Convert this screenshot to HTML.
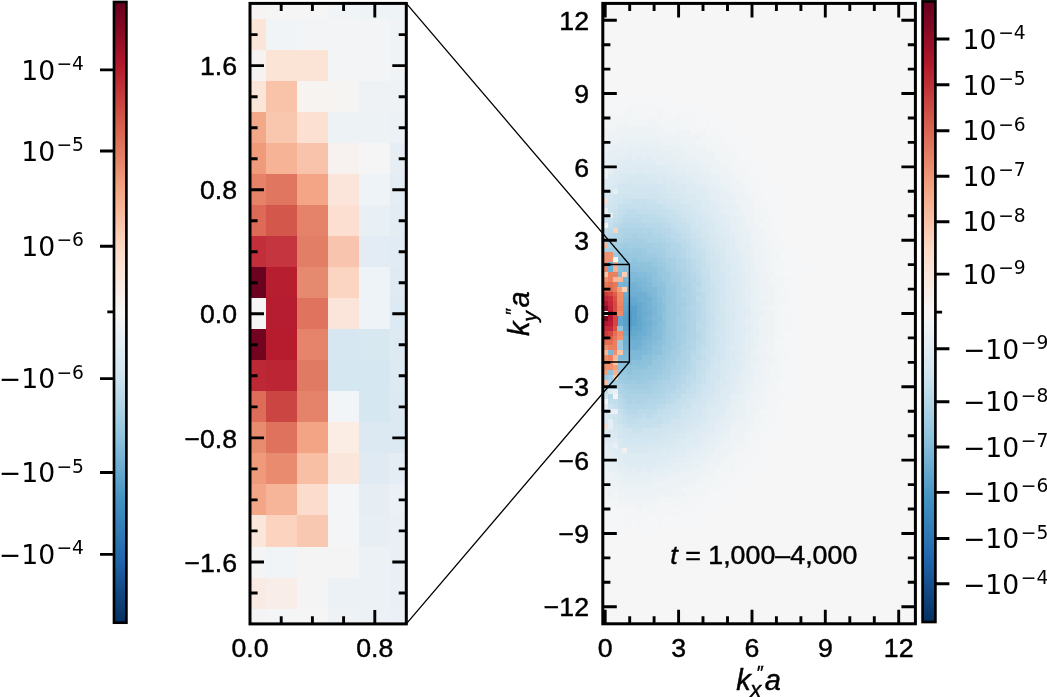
<!DOCTYPE html><html><head><meta charset="utf-8"><title>figure</title><style>html,body{margin:0;padding:0;background:#fff}svg{display:block}.h{font-family:"Liberation Sans",Arial,Helvetica,sans-serif;font-size:26.67px;fill:#000;stroke:#000;stroke-width:.45px}.hi{font-family:"Liberation Sans",Arial,Helvetica,sans-serif;font-style:italic;fill:#000;stroke:#000;stroke-width:.45px}.d{font-family:"DejaVu Sans",sans-serif;font-size:26.67px;fill:#000}.s{font-family:"DejaVu Sans",sans-serif;font-size:18.67px;fill:#000}</style></head><body>
<svg width="1047" height="697" viewBox="0 0 1047 697">
<rect width="1047" height="697" fill="#fff"/>
<defs><linearGradient id="g" x1="0" y1="0" x2="0" y2="1"><stop offset="0.00" stop-color="#67001f"/><stop offset="0.05" stop-color="#8a0b25"/><stop offset="0.10" stop-color="#b1182b"/><stop offset="0.15" stop-color="#c43b3c"/><stop offset="0.20" stop-color="#d6604d"/><stop offset="0.25" stop-color="#e48066"/><stop offset="0.30" stop-color="#f3a481"/><stop offset="0.35" stop-color="#f8bfa4"/><stop offset="0.40" stop-color="#fddbc7"/><stop offset="0.45" stop-color="#fae9df"/><stop offset="0.50" stop-color="#f7f6f6"/><stop offset="0.55" stop-color="#e4eef4"/><stop offset="0.60" stop-color="#d1e5f0"/><stop offset="0.65" stop-color="#b1d5e7"/><stop offset="0.70" stop-color="#90c4dd"/><stop offset="0.75" stop-color="#6bacd1"/><stop offset="0.80" stop-color="#4393c3"/><stop offset="0.85" stop-color="#327cb7"/><stop offset="0.90" stop-color="#2065ab"/><stop offset="0.95" stop-color="#124984"/><stop offset="1.00" stop-color="#053061"/></linearGradient><clipPath id="cl"><rect x="250" y="3.4" width="156.3" height="620.5"/></clipPath><clipPath id="cr"><rect x="602.8" y="3.4" width="312.6" height="620.5"/></clipPath></defs>
<rect x="114.0" y="2.0" width="12.4" height="620.7" fill="url(#g)" stroke="#000" stroke-width="2.67"/>
<text class="d" x="21.2" y="79.6">10</text><text class="s" x="56.4" y="69.9">−4</text>
<text class="d" x="21.2" y="160.7">10</text><text class="s" x="56.4" y="151.0">−5</text>
<text class="d" x="21.2" y="255.9">10</text><text class="s" x="56.4" y="246.2">−6</text>
<text class="d" x="-1.2" y="388.3">−</text>
<text class="d" x="21.2" y="388.3">10</text><text class="s" x="56.4" y="378.6">−6</text>
<text class="d" x="-1.2" y="482.2">−</text>
<text class="d" x="21.2" y="482.2">10</text><text class="s" x="56.4" y="472.5">−5</text>
<text class="d" x="-1.2" y="564.1">−</text>
<text class="d" x="21.2" y="564.1">10</text><text class="s" x="56.4" y="554.4">−4</text>
<path d="M114.0 69.9h-14M114.0 151.0h-14M114.0 246.2h-14M114.0 378.6h-14M114.0 472.5h-14M114.0 554.4h-14M114.0 311.9h-6.7" stroke="#000" stroke-width="2.9" fill="none"/>
<g clip-path="url(#cl)" shape-rendering="crispEdges">
<rect x="234.4" y="-11.9" width="31.5" height="31.3" fill="#f6f3f2"/>
<rect x="265.6" y="-11.9" width="31.5" height="31.3" fill="#f5f5f5"/>
<rect x="296.8" y="-11.9" width="31.5" height="31.3" fill="#f5f5f5"/>
<rect x="328.0" y="-11.9" width="31.5" height="31.3" fill="#f0f4f6"/>
<rect x="359.2" y="-11.9" width="31.5" height="31.3" fill="#eef3f6"/>
<rect x="390.4" y="-11.9" width="31.5" height="31.3" fill="#eef3f6"/>
<rect x="234.4" y="19.1" width="31.5" height="31.3" fill="#fbe5d9"/>
<rect x="265.6" y="19.1" width="31.5" height="31.3" fill="#f1f4f6"/>
<rect x="296.8" y="19.1" width="31.5" height="31.3" fill="#f3f4f5"/>
<rect x="328.0" y="19.1" width="31.5" height="31.3" fill="#f2f4f6"/>
<rect x="359.2" y="19.1" width="31.5" height="31.3" fill="#f2f4f6"/>
<rect x="390.4" y="19.1" width="31.5" height="31.3" fill="#f0f3f6"/>
<rect x="234.4" y="50.1" width="31.5" height="31.3" fill="#f5f3f2"/>
<rect x="265.6" y="50.1" width="31.5" height="31.3" fill="#fbe3d6"/>
<rect x="296.8" y="50.1" width="31.5" height="31.3" fill="#fbe3d6"/>
<rect x="328.0" y="50.1" width="31.5" height="31.3" fill="#f2f4f6"/>
<rect x="359.2" y="50.1" width="31.5" height="31.3" fill="#f2f4f6"/>
<rect x="390.4" y="50.1" width="31.5" height="31.3" fill="#f0f3f6"/>
<rect x="234.4" y="81.2" width="31.5" height="31.3" fill="#fbe4d8"/>
<rect x="265.6" y="81.2" width="31.5" height="31.3" fill="#f9c3aa"/>
<rect x="296.8" y="81.2" width="31.5" height="31.3" fill="#f7f3f1"/>
<rect x="328.0" y="81.2" width="31.5" height="31.3" fill="#f6f4f3"/>
<rect x="359.2" y="81.2" width="31.5" height="31.3" fill="#eef2f5"/>
<rect x="390.4" y="81.2" width="31.5" height="31.3" fill="#eef2f5"/>
<rect x="234.4" y="112.2" width="31.5" height="31.3" fill="#f3a988"/>
<rect x="265.6" y="112.2" width="31.5" height="31.3" fill="#f9c6ae"/>
<rect x="296.8" y="112.2" width="31.5" height="31.3" fill="#fce0d1"/>
<rect x="328.0" y="112.2" width="31.5" height="31.3" fill="#edf2f5"/>
<rect x="359.2" y="112.2" width="31.5" height="31.3" fill="#edf2f5"/>
<rect x="390.4" y="112.2" width="31.5" height="31.3" fill="#ecf1f5"/>
<rect x="234.4" y="143.2" width="31.5" height="31.3" fill="#ee9a7b"/>
<rect x="265.6" y="143.2" width="31.5" height="31.3" fill="#f6b396"/>
<rect x="296.8" y="143.2" width="31.5" height="31.3" fill="#f8c3aa"/>
<rect x="328.0" y="143.2" width="31.5" height="31.3" fill="#f7f2f0"/>
<rect x="359.2" y="143.2" width="31.5" height="31.3" fill="#f6f5f5"/>
<rect x="390.4" y="143.2" width="31.5" height="31.3" fill="#e6eef4"/>
<rect x="234.4" y="174.2" width="31.5" height="31.3" fill="#e58268"/>
<rect x="265.6" y="174.2" width="31.5" height="31.3" fill="#e07660"/>
<rect x="296.8" y="174.2" width="31.5" height="31.3" fill="#f3a585"/>
<rect x="328.0" y="174.2" width="31.5" height="31.3" fill="#fbe5da"/>
<rect x="359.2" y="174.2" width="31.5" height="31.3" fill="#eef3f7"/>
<rect x="390.4" y="174.2" width="31.5" height="31.3" fill="#e4edf4"/>
<rect x="234.4" y="205.2" width="31.5" height="31.3" fill="#dc6a57"/>
<rect x="265.6" y="205.2" width="31.5" height="31.3" fill="#d3574a"/>
<rect x="296.8" y="205.2" width="31.5" height="31.3" fill="#e5836a"/>
<rect x="328.0" y="205.2" width="31.5" height="31.3" fill="#fcdfd0"/>
<rect x="359.2" y="205.2" width="31.5" height="31.3" fill="#e8eff5"/>
<rect x="390.4" y="205.2" width="31.5" height="31.3" fill="#e3ecf3"/>
<rect x="234.4" y="236.2" width="31.5" height="31.3" fill="#c22e3a"/>
<rect x="265.6" y="236.2" width="31.5" height="31.3" fill="#c43540"/>
<rect x="296.8" y="236.2" width="31.5" height="31.3" fill="#e27d66"/>
<rect x="328.0" y="236.2" width="31.5" height="31.3" fill="#f8c4ad"/>
<rect x="359.2" y="236.2" width="31.5" height="31.3" fill="#e3ecf4"/>
<rect x="390.4" y="236.2" width="31.5" height="31.3" fill="#e1ebf3"/>
<rect x="234.4" y="267.3" width="31.5" height="31.3" fill="#6a0220"/>
<rect x="265.6" y="267.3" width="31.5" height="31.3" fill="#b71e30"/>
<rect x="296.8" y="267.3" width="31.5" height="31.3" fill="#e68a6f"/>
<rect x="328.0" y="267.3" width="31.5" height="31.3" fill="#fbd5c2"/>
<rect x="359.2" y="267.3" width="31.5" height="31.3" fill="#eef3f7"/>
<rect x="390.4" y="267.3" width="31.5" height="31.3" fill="#dfeaf3"/>
<rect x="234.4" y="298.3" width="31.5" height="31.3" fill="#f6f6f6"/>
<rect x="265.6" y="298.3" width="31.5" height="31.3" fill="#b71d30"/>
<rect x="296.8" y="298.3" width="31.5" height="31.3" fill="#df735d"/>
<rect x="328.0" y="298.3" width="31.5" height="31.3" fill="#fbe5da"/>
<rect x="359.2" y="298.3" width="31.5" height="31.3" fill="#eef3f7"/>
<rect x="390.4" y="298.3" width="31.5" height="31.3" fill="#deeaf3"/>
<rect x="234.4" y="329.3" width="31.5" height="31.3" fill="#72041f"/>
<rect x="265.6" y="329.3" width="31.5" height="31.3" fill="#b61b2e"/>
<rect x="296.8" y="329.3" width="31.5" height="31.3" fill="#e5846b"/>
<rect x="328.0" y="329.3" width="31.5" height="31.3" fill="#d6e7f1"/>
<rect x="359.2" y="329.3" width="31.5" height="31.3" fill="#d7e8f1"/>
<rect x="390.4" y="329.3" width="31.5" height="31.3" fill="#deeaf2"/>
<rect x="234.4" y="360.3" width="31.5" height="31.3" fill="#bd2836"/>
<rect x="265.6" y="360.3" width="31.5" height="31.3" fill="#bc2534"/>
<rect x="296.8" y="360.3" width="31.5" height="31.3" fill="#e17a63"/>
<rect x="328.0" y="360.3" width="31.5" height="31.3" fill="#d5e7f1"/>
<rect x="359.2" y="360.3" width="31.5" height="31.3" fill="#d5e7f1"/>
<rect x="390.4" y="360.3" width="31.5" height="31.3" fill="#ddeaf2"/>
<rect x="234.4" y="391.4" width="31.5" height="31.3" fill="#dd6d59"/>
<rect x="265.6" y="391.4" width="31.5" height="31.3" fill="#cb4542"/>
<rect x="296.8" y="391.4" width="31.5" height="31.3" fill="#e5836a"/>
<rect x="328.0" y="391.4" width="31.5" height="31.3" fill="#f2f5f7"/>
<rect x="359.2" y="391.4" width="31.5" height="31.3" fill="#d5e7f1"/>
<rect x="390.4" y="391.4" width="31.5" height="31.3" fill="#dce9f2"/>
<rect x="234.4" y="422.4" width="31.5" height="31.3" fill="#e88c70"/>
<rect x="265.6" y="422.4" width="31.5" height="31.3" fill="#df725c"/>
<rect x="296.8" y="422.4" width="31.5" height="31.3" fill="#f3a484"/>
<rect x="328.0" y="422.4" width="31.5" height="31.3" fill="#fbece4"/>
<rect x="359.2" y="422.4" width="31.5" height="31.3" fill="#dde9f2"/>
<rect x="390.4" y="422.4" width="31.5" height="31.3" fill="#dce9f2"/>
<rect x="234.4" y="453.4" width="31.5" height="31.3" fill="#ee9a7b"/>
<rect x="265.6" y="453.4" width="31.5" height="31.3" fill="#e88b6f"/>
<rect x="296.8" y="453.4" width="31.5" height="31.3" fill="#f8bfa5"/>
<rect x="328.0" y="453.4" width="31.5" height="31.3" fill="#fbe6dc"/>
<rect x="359.2" y="453.4" width="31.5" height="31.3" fill="#dfeaf3"/>
<rect x="390.4" y="453.4" width="31.5" height="31.3" fill="#e4edf4"/>
<rect x="234.4" y="484.4" width="31.5" height="31.3" fill="#f3a687"/>
<rect x="265.6" y="484.4" width="31.5" height="31.3" fill="#f6b498"/>
<rect x="296.8" y="484.4" width="31.5" height="31.3" fill="#fcdccc"/>
<rect x="328.0" y="484.4" width="31.5" height="31.3" fill="#f3f5f7"/>
<rect x="359.2" y="484.4" width="31.5" height="31.3" fill="#e6eef4"/>
<rect x="390.4" y="484.4" width="31.5" height="31.3" fill="#eaf0f5"/>
<rect x="234.4" y="515.4" width="31.5" height="31.3" fill="#fbe6db"/>
<rect x="265.6" y="515.4" width="31.5" height="31.3" fill="#fbd3bf"/>
<rect x="296.8" y="515.4" width="31.5" height="31.3" fill="#f9c8b1"/>
<rect x="328.0" y="515.4" width="31.5" height="31.3" fill="#f3f5f7"/>
<rect x="359.2" y="515.4" width="31.5" height="31.3" fill="#e8eff4"/>
<rect x="390.4" y="515.4" width="31.5" height="31.3" fill="#e9eff4"/>
<rect x="234.4" y="546.5" width="31.5" height="31.3" fill="#f5f4f4"/>
<rect x="265.6" y="546.5" width="31.5" height="31.3" fill="#f1f4f7"/>
<rect x="296.8" y="546.5" width="31.5" height="31.3" fill="#f5f4f4"/>
<rect x="328.0" y="546.5" width="31.5" height="31.3" fill="#f4f4f5"/>
<rect x="359.2" y="546.5" width="31.5" height="31.3" fill="#ecf1f5"/>
<rect x="390.4" y="546.5" width="31.5" height="31.3" fill="#e9eff4"/>
<rect x="234.4" y="577.5" width="31.5" height="31.3" fill="#f9ebe4"/>
<rect x="265.6" y="577.5" width="31.5" height="31.3" fill="#f8ede8"/>
<rect x="296.8" y="577.5" width="31.5" height="31.3" fill="#f4f4f5"/>
<rect x="328.0" y="577.5" width="31.5" height="31.3" fill="#ecf1f5"/>
<rect x="359.2" y="577.5" width="31.5" height="31.3" fill="#ecf1f5"/>
<rect x="390.4" y="577.5" width="31.5" height="31.3" fill="#e9eff4"/>
<rect x="234.4" y="608.5" width="31.5" height="31.3" fill="#f5f4f4"/>
<rect x="265.6" y="608.5" width="31.5" height="31.3" fill="#f4f5f6"/>
<rect x="296.8" y="608.5" width="31.5" height="31.3" fill="#f5f5f5"/>
<rect x="328.0" y="608.5" width="31.5" height="31.3" fill="#eef2f5"/>
<rect x="359.2" y="608.5" width="31.5" height="31.3" fill="#ecf1f5"/>
<rect x="390.4" y="608.5" width="31.5" height="31.3" fill="#eaf0f5"/>
</g>
<path d="M250.0 593.0h7.6M406.3 593.0h-7.6M250.0 562.0h14M406.3 562.0h-14M250.0 530.9h7.6M406.3 530.9h-7.6M250.0 499.9h7.6M406.3 499.9h-7.6M250.0 468.9h7.6M406.3 468.9h-7.6M250.0 437.9h14M406.3 437.9h-14M250.0 406.9h7.6M406.3 406.9h-7.6M250.0 375.8h7.6M406.3 375.8h-7.6M250.0 344.8h7.6M406.3 344.8h-7.6M250.0 313.8h14M406.3 313.8h-14M250.0 282.8h7.6M406.3 282.8h-7.6M250.0 251.8h7.6M406.3 251.8h-7.6M250.0 220.7h7.6M406.3 220.7h-7.6M250.0 189.7h14M406.3 189.7h-14M250.0 158.7h7.6M406.3 158.7h-7.6M250.0 127.7h7.6M406.3 127.7h-7.6M250.0 96.7h7.6M406.3 96.7h-7.6M250.0 65.6h14M406.3 65.6h-14M250.0 34.6h7.6M406.3 34.6h-7.6M281.2 3.4v7.6M281.2 623.9v-7.6M312.4 3.4v7.6M312.4 623.9v-7.6M343.6 3.4v7.6M343.6 623.9v-7.6M374.8 3.4v14M374.8 623.9v-14" stroke="#000" stroke-width="2.9" fill="none"/>
<rect x="250.0" y="3.4" width="156.3" height="620.5" fill="none" stroke="#000" stroke-width="3"/>
<text class="h" text-anchor="end" x="237" y="75.2">1.6</text>
<text class="h" text-anchor="end" x="237" y="199.3">0.8</text>
<text class="h" text-anchor="end" x="237" y="323.4">0.0</text>
<text class="h" text-anchor="end" x="237" y="447.5">−0.8</text>
<text class="h" text-anchor="end" x="237" y="571.6">−1.6</text>
<text class="h" text-anchor="middle" x="250.0" y="657.4">0.0</text>
<text class="h" text-anchor="middle" x="374.8" y="657.4">0.8</text>
<rect x="602.8" y="3.4" width="312.6" height="620.4" fill="#f6f6f6"/>
<g clip-path="url(#cr)" shape-rendering="crispEdges">
<path fill="#4f9bc7" d="M627.2 315.9h5.1v5.1h-5.1z"/>
<path fill="#529dc8" d="M627.2 320.8h5.1v5.1h-5.1zM627.2 311.1h5.1v5.1h-5.1z"/>
<path fill="#569fc9" d="M622.3 315.9h5.1v5.1h-5.1z"/>
<path fill="#59a1ca" d="M627.2 325.7h5.1v5.1h-5.1zM622.3 320.8h5.1v5.1h-5.1zM632.1 320.8h5.1v5.1h-5.1zM632.1 315.9h5.1v5.1h-5.1zM622.3 311.1h5.1v5.1h-5.1zM632.1 311.1h5.1v5.1h-5.1zM627.2 306.2h5.1v5.1h-5.1zM632.1 306.2h5.1v5.1h-5.1z"/>
<path fill="#5fa5cd" d="M622.3 325.7h5.1v5.1h-5.1zM622.3 306.2h5.1v5.1h-5.1zM627.2 301.3h5.1v5.1h-5.1z"/>
<path fill="#62a7ce" d="M627.2 330.6h5.1v5.1h-5.1zM632.1 325.7h5.1v5.1h-5.1zM637.0 325.7h5.1v5.1h-5.1zM637.0 320.8h5.1v5.1h-5.1zM617.4 315.9h5.1v5.1h-5.1zM637.0 315.9h5.1v5.1h-5.1zM617.4 311.1h5.1v5.1h-5.1zM622.3 301.3h5.1v5.1h-5.1zM632.1 301.3h5.1v5.1h-5.1z"/>
<path fill="#65a9cf" d="M617.4 330.6h5.1v5.1h-5.1zM622.3 330.6h5.1v5.1h-5.1zM632.1 330.6h5.1v5.1h-5.1zM617.4 325.7h5.1v5.1h-5.1zM617.4 320.8h5.1v5.1h-5.1zM637.0 311.1h5.1v5.1h-5.1zM617.4 306.2h5.1v5.1h-5.1zM637.0 306.2h5.1v5.1h-5.1zM617.4 301.3h5.1v5.1h-5.1zM637.0 301.3h5.1v5.1h-5.1zM622.3 296.4h5.1v5.1h-5.1zM627.2 296.4h5.1v5.1h-5.1zM632.1 296.4h5.1v5.1h-5.1z"/>
<path fill="#6bacd1" d="M627.2 335.5h5.1v5.1h-5.1zM632.1 335.5h5.1v5.1h-5.1zM637.0 330.6h5.1v5.1h-5.1zM641.9 320.8h5.1v5.1h-5.1zM612.5 315.9h5.1v5.1h-5.1zM612.5 311.1h5.1v5.1h-5.1zM641.9 311.1h5.1v5.1h-5.1zM612.5 306.2h5.1v5.1h-5.1zM617.4 296.4h5.1v5.1h-5.1zM622.3 291.5h5.1v5.1h-5.1z"/>
<path fill="#6eaed2" d="M622.3 340.4h5.1v5.1h-5.1zM617.4 335.5h5.1v5.1h-5.1zM622.3 335.5h5.1v5.1h-5.1zM637.0 335.5h5.1v5.1h-5.1zM641.9 330.6h5.1v5.1h-5.1zM612.5 325.7h5.1v5.1h-5.1zM641.9 325.7h5.1v5.1h-5.1zM612.5 320.8h5.1v5.1h-5.1zM641.9 315.9h5.1v5.1h-5.1zM641.9 306.2h5.1v5.1h-5.1zM612.5 301.3h5.1v5.1h-5.1zM641.9 301.3h5.1v5.1h-5.1zM612.5 296.4h5.1v5.1h-5.1zM637.0 296.4h5.1v5.1h-5.1zM617.4 291.5h5.1v5.1h-5.1zM627.2 291.5h5.1v5.1h-5.1zM632.1 291.5h5.1v5.1h-5.1zM637.0 291.5h5.1v5.1h-5.1z"/>
<path fill="#71b0d3" d="M632.1 345.3h5.1v5.1h-5.1zM617.4 340.4h5.1v5.1h-5.1zM627.2 340.4h5.1v5.1h-5.1zM632.1 340.4h5.1v5.1h-5.1zM637.0 340.4h5.1v5.1h-5.1zM612.5 330.6h5.1v5.1h-5.1zM646.8 320.8h5.1v5.1h-5.1zM607.6 311.1h5.1v5.1h-5.1zM646.8 311.1h5.1v5.1h-5.1zM607.6 301.3h5.1v5.1h-5.1zM641.9 296.4h5.1v5.1h-5.1zM646.8 296.4h5.1v5.1h-5.1zM641.9 291.5h5.1v5.1h-5.1zM622.3 286.6h5.1v5.1h-5.1zM627.2 286.6h5.1v5.1h-5.1zM632.1 286.6h5.1v5.1h-5.1z"/>
<path fill="#75b2d4" d="M622.3 345.3h5.1v5.1h-5.1zM627.2 345.3h5.1v5.1h-5.1zM637.0 345.3h5.1v5.1h-5.1zM612.5 340.4h5.1v5.1h-5.1zM612.5 335.5h5.1v5.1h-5.1zM641.9 335.5h5.1v5.1h-5.1zM607.6 330.6h5.1v5.1h-5.1zM646.8 330.6h5.1v5.1h-5.1zM607.6 325.7h5.1v5.1h-5.1zM646.8 325.7h5.1v5.1h-5.1zM607.6 320.8h5.1v5.1h-5.1zM607.6 315.9h5.1v5.1h-5.1zM646.8 315.9h5.1v5.1h-5.1zM607.6 306.2h5.1v5.1h-5.1zM646.8 306.2h5.1v5.1h-5.1zM646.8 301.3h5.1v5.1h-5.1zM612.5 291.5h5.1v5.1h-5.1zM617.4 286.6h5.1v5.1h-5.1zM637.0 286.6h5.1v5.1h-5.1zM622.3 281.7h5.1v5.1h-5.1zM627.2 281.7h5.1v5.1h-5.1zM632.1 281.7h5.1v5.1h-5.1z"/>
<path fill="#7bb6d6" d="M622.3 350.2h5.1v5.1h-5.1zM617.4 345.3h5.1v5.1h-5.1zM641.9 340.4h5.1v5.1h-5.1zM607.6 335.5h5.1v5.1h-5.1zM646.8 335.5h5.1v5.1h-5.1zM651.7 320.8h5.1v5.1h-5.1zM602.8 315.9h5.1v5.1h-5.1zM651.7 311.1h5.1v5.1h-5.1zM651.7 306.2h5.1v5.1h-5.1zM607.6 296.4h5.1v5.1h-5.1zM607.6 291.5h5.1v5.1h-5.1zM646.8 291.5h5.1v5.1h-5.1zM612.5 286.6h5.1v5.1h-5.1zM641.9 286.6h5.1v5.1h-5.1zM617.4 281.7h5.1v5.1h-5.1zM637.0 281.7h5.1v5.1h-5.1zM622.3 276.8h5.1v5.1h-5.1z"/>
<path fill="#7eb8d7" d="M617.4 350.2h5.1v5.1h-5.1zM627.2 350.2h5.1v5.1h-5.1zM632.1 350.2h5.1v5.1h-5.1zM637.0 350.2h5.1v5.1h-5.1zM612.5 345.3h5.1v5.1h-5.1zM641.9 345.3h5.1v5.1h-5.1zM607.6 340.4h5.1v5.1h-5.1zM646.8 340.4h5.1v5.1h-5.1zM602.8 330.6h5.1v5.1h-5.1zM602.8 325.7h5.1v5.1h-5.1zM651.7 325.7h5.1v5.1h-5.1zM602.8 320.8h5.1v5.1h-5.1zM651.7 315.9h5.1v5.1h-5.1zM602.8 311.1h5.1v5.1h-5.1zM602.8 306.2h5.1v5.1h-5.1zM602.8 301.3h5.1v5.1h-5.1zM651.7 301.3h5.1v5.1h-5.1zM602.8 296.4h5.1v5.1h-5.1zM651.7 296.4h5.1v5.1h-5.1zM607.6 286.6h5.1v5.1h-5.1zM646.8 286.6h5.1v5.1h-5.1zM612.5 281.7h5.1v5.1h-5.1zM641.9 281.7h5.1v5.1h-5.1zM617.4 276.8h5.1v5.1h-5.1zM627.2 276.8h5.1v5.1h-5.1zM632.1 276.8h5.1v5.1h-5.1zM637.0 276.8h5.1v5.1h-5.1z"/>
<path fill="#81bad8" d="M617.4 355.0h5.1v5.1h-5.1zM622.3 355.0h5.1v5.1h-5.1zM627.2 355.0h5.1v5.1h-5.1zM632.1 355.0h5.1v5.1h-5.1zM637.0 355.0h5.1v5.1h-5.1zM612.5 350.2h5.1v5.1h-5.1zM641.9 350.2h5.1v5.1h-5.1zM607.6 345.3h5.1v5.1h-5.1zM646.8 345.3h5.1v5.1h-5.1zM602.8 335.5h5.1v5.1h-5.1zM651.7 335.5h5.1v5.1h-5.1zM651.7 330.6h5.1v5.1h-5.1zM656.6 315.9h5.1v5.1h-5.1zM602.8 291.5h5.1v5.1h-5.1zM651.7 291.5h5.1v5.1h-5.1zM651.7 286.6h5.1v5.1h-5.1zM607.6 281.7h5.1v5.1h-5.1zM646.8 281.7h5.1v5.1h-5.1zM612.5 276.8h5.1v5.1h-5.1zM641.9 276.8h5.1v5.1h-5.1zM617.4 272.0h5.1v5.1h-5.1zM622.3 272.0h5.1v5.1h-5.1zM627.2 272.0h5.1v5.1h-5.1zM632.1 272.0h5.1v5.1h-5.1z"/>
<path fill="#84bcd9" d="M627.2 359.9h5.1v5.1h-5.1zM612.5 355.0h5.1v5.1h-5.1zM607.6 350.2h5.1v5.1h-5.1zM646.8 350.2h5.1v5.1h-5.1zM602.8 340.4h5.1v5.1h-5.1zM651.7 340.4h5.1v5.1h-5.1zM656.6 335.5h5.1v5.1h-5.1zM656.6 330.6h5.1v5.1h-5.1zM656.6 325.7h5.1v5.1h-5.1zM656.6 320.8h5.1v5.1h-5.1zM656.6 311.1h5.1v5.1h-5.1zM656.6 306.2h5.1v5.1h-5.1zM656.6 301.3h5.1v5.1h-5.1zM656.6 296.4h5.1v5.1h-5.1zM602.8 286.6h5.1v5.1h-5.1zM602.8 281.7h5.1v5.1h-5.1zM607.6 276.8h5.1v5.1h-5.1zM646.8 276.8h5.1v5.1h-5.1zM612.5 272.0h5.1v5.1h-5.1zM637.0 272.0h5.1v5.1h-5.1zM641.9 272.0h5.1v5.1h-5.1zM622.3 267.1h5.1v5.1h-5.1z"/>
<path fill="#8ac0db" d="M612.5 359.9h5.1v5.1h-5.1zM617.4 359.9h5.1v5.1h-5.1zM622.3 359.9h5.1v5.1h-5.1zM632.1 359.9h5.1v5.1h-5.1zM637.0 359.9h5.1v5.1h-5.1zM607.6 355.0h5.1v5.1h-5.1zM641.9 355.0h5.1v5.1h-5.1zM646.8 355.0h5.1v5.1h-5.1zM602.8 350.2h5.1v5.1h-5.1zM651.7 350.2h5.1v5.1h-5.1zM602.8 345.3h5.1v5.1h-5.1zM651.7 345.3h5.1v5.1h-5.1zM656.6 340.4h5.1v5.1h-5.1zM661.5 320.8h5.1v5.1h-5.1zM661.5 306.2h5.1v5.1h-5.1zM656.6 291.5h5.1v5.1h-5.1zM656.6 286.6h5.1v5.1h-5.1zM651.7 281.7h5.1v5.1h-5.1zM607.6 272.0h5.1v5.1h-5.1zM646.8 272.0h5.1v5.1h-5.1zM617.4 267.1h5.1v5.1h-5.1zM627.2 267.1h5.1v5.1h-5.1zM632.1 267.1h5.1v5.1h-5.1zM637.0 267.1h5.1v5.1h-5.1z"/>
<path fill="#8dc2dc" d="M622.3 364.8h5.1v5.1h-5.1zM627.2 364.8h5.1v5.1h-5.1zM637.0 364.8h5.1v5.1h-5.1zM607.6 359.9h5.1v5.1h-5.1zM641.9 359.9h5.1v5.1h-5.1zM646.8 359.9h5.1v5.1h-5.1zM656.6 350.2h5.1v5.1h-5.1zM656.6 345.3h5.1v5.1h-5.1zM661.5 330.6h5.1v5.1h-5.1zM661.5 325.7h5.1v5.1h-5.1zM661.5 315.9h5.1v5.1h-5.1zM661.5 311.1h5.1v5.1h-5.1zM661.5 301.3h5.1v5.1h-5.1zM661.5 291.5h5.1v5.1h-5.1zM656.6 281.7h5.1v5.1h-5.1zM602.8 276.8h5.1v5.1h-5.1zM651.7 276.8h5.1v5.1h-5.1zM602.8 272.0h5.1v5.1h-5.1zM651.7 272.0h5.1v5.1h-5.1zM612.5 267.1h5.1v5.1h-5.1zM641.9 267.1h5.1v5.1h-5.1zM646.8 267.1h5.1v5.1h-5.1zM617.4 262.2h5.1v5.1h-5.1zM622.3 262.2h5.1v5.1h-5.1zM627.2 262.2h5.1v5.1h-5.1zM632.1 262.2h5.1v5.1h-5.1z"/>
<path fill="#90c4dd" d="M627.2 369.7h5.1v5.1h-5.1zM612.5 364.8h5.1v5.1h-5.1zM617.4 364.8h5.1v5.1h-5.1zM632.1 364.8h5.1v5.1h-5.1zM641.9 364.8h5.1v5.1h-5.1zM602.8 355.0h5.1v5.1h-5.1zM651.7 355.0h5.1v5.1h-5.1zM661.5 340.4h5.1v5.1h-5.1zM661.5 335.5h5.1v5.1h-5.1zM661.5 296.4h5.1v5.1h-5.1zM661.5 286.6h5.1v5.1h-5.1zM661.5 281.7h5.1v5.1h-5.1zM656.6 276.8h5.1v5.1h-5.1zM607.6 267.1h5.1v5.1h-5.1zM651.7 267.1h5.1v5.1h-5.1zM607.6 262.2h5.1v5.1h-5.1zM612.5 262.2h5.1v5.1h-5.1zM637.0 262.2h5.1v5.1h-5.1zM641.9 262.2h5.1v5.1h-5.1zM646.8 262.2h5.1v5.1h-5.1zM617.4 257.3h5.1v5.1h-5.1zM622.3 257.3h5.1v5.1h-5.1zM632.1 257.3h5.1v5.1h-5.1z"/>
<path fill="#96c7df" d="M617.4 369.7h5.1v5.1h-5.1zM622.3 369.7h5.1v5.1h-5.1zM632.1 369.7h5.1v5.1h-5.1zM637.0 369.7h5.1v5.1h-5.1zM607.6 364.8h5.1v5.1h-5.1zM646.8 364.8h5.1v5.1h-5.1zM651.7 364.8h5.1v5.1h-5.1zM602.8 359.9h5.1v5.1h-5.1zM651.7 359.9h5.1v5.1h-5.1zM656.6 359.9h5.1v5.1h-5.1zM656.6 355.0h5.1v5.1h-5.1zM661.5 350.2h5.1v5.1h-5.1zM661.5 345.3h5.1v5.1h-5.1zM666.4 340.4h5.1v5.1h-5.1zM666.4 330.6h5.1v5.1h-5.1zM666.4 325.7h5.1v5.1h-5.1zM666.4 320.8h5.1v5.1h-5.1zM666.4 315.9h5.1v5.1h-5.1zM666.4 311.1h5.1v5.1h-5.1zM666.4 306.2h5.1v5.1h-5.1zM666.4 301.3h5.1v5.1h-5.1zM666.4 296.4h5.1v5.1h-5.1zM656.6 272.0h5.1v5.1h-5.1zM602.8 267.1h5.1v5.1h-5.1zM656.6 267.1h5.1v5.1h-5.1zM651.7 262.2h5.1v5.1h-5.1zM627.2 257.3h5.1v5.1h-5.1zM637.0 257.3h5.1v5.1h-5.1z"/>
<path fill="#98c8e0" d="M627.2 374.6h5.1v5.1h-5.1zM632.1 374.6h5.1v5.1h-5.1zM637.0 374.6h5.1v5.1h-5.1zM612.5 369.7h5.1v5.1h-5.1zM641.9 369.7h5.1v5.1h-5.1zM646.8 369.7h5.1v5.1h-5.1zM602.8 364.8h5.1v5.1h-5.1zM661.5 355.0h5.1v5.1h-5.1zM666.4 345.3h5.1v5.1h-5.1zM666.4 335.5h5.1v5.1h-5.1zM666.4 291.5h5.1v5.1h-5.1zM666.4 286.6h5.1v5.1h-5.1zM661.5 276.8h5.1v5.1h-5.1zM661.5 272.0h5.1v5.1h-5.1zM602.8 262.2h5.1v5.1h-5.1zM607.6 257.3h5.1v5.1h-5.1zM612.5 257.3h5.1v5.1h-5.1zM641.9 257.3h5.1v5.1h-5.1zM646.8 257.3h5.1v5.1h-5.1zM651.7 257.3h5.1v5.1h-5.1zM617.4 252.4h5.1v5.1h-5.1zM622.3 252.4h5.1v5.1h-5.1zM627.2 252.4h5.1v5.1h-5.1zM632.1 252.4h5.1v5.1h-5.1zM637.0 252.4h5.1v5.1h-5.1z"/>
<path fill="#9bc9e0" d="M637.0 379.5h5.1v5.1h-5.1zM617.4 374.6h5.1v5.1h-5.1zM622.3 374.6h5.1v5.1h-5.1zM641.9 374.6h5.1v5.1h-5.1zM646.8 374.6h5.1v5.1h-5.1zM607.6 369.7h5.1v5.1h-5.1zM651.7 369.7h5.1v5.1h-5.1zM656.6 364.8h5.1v5.1h-5.1zM661.5 359.9h5.1v5.1h-5.1zM666.4 350.2h5.1v5.1h-5.1zM671.2 335.5h5.1v5.1h-5.1zM671.2 330.6h5.1v5.1h-5.1zM671.2 325.7h5.1v5.1h-5.1zM671.2 320.8h5.1v5.1h-5.1zM671.2 315.9h5.1v5.1h-5.1zM671.2 311.1h5.1v5.1h-5.1zM671.2 306.2h5.1v5.1h-5.1zM671.2 301.3h5.1v5.1h-5.1zM671.2 296.4h5.1v5.1h-5.1zM671.2 291.5h5.1v5.1h-5.1zM671.2 286.6h5.1v5.1h-5.1zM666.4 281.7h5.1v5.1h-5.1zM666.4 276.8h5.1v5.1h-5.1zM666.4 272.0h5.1v5.1h-5.1zM661.5 267.1h5.1v5.1h-5.1zM656.6 262.2h5.1v5.1h-5.1zM602.8 257.3h5.1v5.1h-5.1zM612.5 252.4h5.1v5.1h-5.1zM641.9 252.4h5.1v5.1h-5.1zM622.3 247.5h5.1v5.1h-5.1zM632.1 247.5h5.1v5.1h-5.1zM637.0 247.5h5.1v5.1h-5.1z"/>
<path fill="#9dcbe1" d="M622.3 379.5h5.1v5.1h-5.1zM627.2 379.5h5.1v5.1h-5.1zM632.1 379.5h5.1v5.1h-5.1zM641.9 379.5h5.1v5.1h-5.1zM651.7 374.6h5.1v5.1h-5.1zM602.8 369.7h5.1v5.1h-5.1zM656.6 369.7h5.1v5.1h-5.1zM661.5 364.8h5.1v5.1h-5.1zM666.4 355.0h5.1v5.1h-5.1zM671.2 345.3h5.1v5.1h-5.1zM671.2 340.4h5.1v5.1h-5.1zM676.1 311.1h5.1v5.1h-5.1zM671.2 281.7h5.1v5.1h-5.1zM661.5 262.2h5.1v5.1h-5.1zM656.6 257.3h5.1v5.1h-5.1zM607.6 252.4h5.1v5.1h-5.1zM646.8 252.4h5.1v5.1h-5.1zM651.7 252.4h5.1v5.1h-5.1zM617.4 247.5h5.1v5.1h-5.1zM627.2 247.5h5.1v5.1h-5.1zM641.9 247.5h5.1v5.1h-5.1zM622.3 242.6h5.1v5.1h-5.1z"/>
<path fill="#a2cde3" d="M627.2 384.4h5.1v5.1h-5.1zM632.1 384.4h5.1v5.1h-5.1zM637.0 384.4h5.1v5.1h-5.1zM641.9 384.4h5.1v5.1h-5.1zM646.8 379.5h5.1v5.1h-5.1zM607.6 374.6h5.1v5.1h-5.1zM612.5 374.6h5.1v5.1h-5.1zM656.6 374.6h5.1v5.1h-5.1zM666.4 359.9h5.1v5.1h-5.1zM671.2 355.0h5.1v5.1h-5.1zM671.2 350.2h5.1v5.1h-5.1zM676.1 340.4h5.1v5.1h-5.1zM676.1 335.5h5.1v5.1h-5.1zM676.1 330.6h5.1v5.1h-5.1zM676.1 325.7h5.1v5.1h-5.1zM676.1 320.8h5.1v5.1h-5.1zM676.1 315.9h5.1v5.1h-5.1zM676.1 306.2h5.1v5.1h-5.1zM676.1 301.3h5.1v5.1h-5.1zM676.1 296.4h5.1v5.1h-5.1zM676.1 291.5h5.1v5.1h-5.1zM676.1 286.6h5.1v5.1h-5.1zM671.2 276.8h5.1v5.1h-5.1zM666.4 267.1h5.1v5.1h-5.1zM661.5 257.3h5.1v5.1h-5.1zM602.8 252.4h5.1v5.1h-5.1zM656.6 252.4h5.1v5.1h-5.1zM612.5 247.5h5.1v5.1h-5.1zM646.8 247.5h5.1v5.1h-5.1zM651.7 247.5h5.1v5.1h-5.1zM627.2 242.6h5.1v5.1h-5.1zM632.1 242.6h5.1v5.1h-5.1zM637.0 242.6h5.1v5.1h-5.1zM646.8 242.6h5.1v5.1h-5.1z"/>
<path fill="#a5cee3" d="M622.3 384.4h5.1v5.1h-5.1zM646.8 384.4h5.1v5.1h-5.1zM617.4 379.5h5.1v5.1h-5.1zM651.7 379.5h5.1v5.1h-5.1zM661.5 374.6h5.1v5.1h-5.1zM661.5 369.7h5.1v5.1h-5.1zM666.4 369.7h5.1v5.1h-5.1zM666.4 364.8h5.1v5.1h-5.1zM671.2 359.9h5.1v5.1h-5.1zM676.1 350.2h5.1v5.1h-5.1zM676.1 345.3h5.1v5.1h-5.1zM681.0 325.7h5.1v5.1h-5.1zM681.0 301.3h5.1v5.1h-5.1zM676.1 281.7h5.1v5.1h-5.1zM676.1 276.8h5.1v5.1h-5.1zM671.2 272.0h5.1v5.1h-5.1zM671.2 267.1h5.1v5.1h-5.1zM666.4 262.2h5.1v5.1h-5.1zM666.4 257.3h5.1v5.1h-5.1zM661.5 252.4h5.1v5.1h-5.1zM607.6 247.5h5.1v5.1h-5.1zM656.6 247.5h5.1v5.1h-5.1zM617.4 242.6h5.1v5.1h-5.1zM641.9 242.6h5.1v5.1h-5.1zM627.2 237.7h5.1v5.1h-5.1zM632.1 237.7h5.1v5.1h-5.1zM637.0 237.7h5.1v5.1h-5.1z"/>
<path fill="#a7d0e4" d="M627.2 389.3h5.1v5.1h-5.1zM632.1 389.3h5.1v5.1h-5.1zM637.0 389.3h5.1v5.1h-5.1zM641.9 389.3h5.1v5.1h-5.1zM646.8 389.3h5.1v5.1h-5.1zM651.7 384.4h5.1v5.1h-5.1zM612.5 379.5h5.1v5.1h-5.1zM656.6 379.5h5.1v5.1h-5.1zM602.8 374.6h5.1v5.1h-5.1zM666.4 374.6h5.1v5.1h-5.1zM671.2 364.8h5.1v5.1h-5.1zM676.1 355.0h5.1v5.1h-5.1zM681.0 340.4h5.1v5.1h-5.1zM681.0 335.5h5.1v5.1h-5.1zM681.0 330.6h5.1v5.1h-5.1zM681.0 320.8h5.1v5.1h-5.1zM681.0 315.9h5.1v5.1h-5.1zM681.0 311.1h5.1v5.1h-5.1zM681.0 306.2h5.1v5.1h-5.1zM681.0 296.4h5.1v5.1h-5.1zM681.0 286.6h5.1v5.1h-5.1zM676.1 272.0h5.1v5.1h-5.1zM671.2 262.2h5.1v5.1h-5.1zM671.2 257.3h5.1v5.1h-5.1zM602.8 247.5h5.1v5.1h-5.1zM661.5 247.5h5.1v5.1h-5.1zM612.5 242.6h5.1v5.1h-5.1zM651.7 242.6h5.1v5.1h-5.1zM656.6 242.6h5.1v5.1h-5.1zM622.3 237.7h5.1v5.1h-5.1zM641.9 237.7h5.1v5.1h-5.1zM632.1 232.8h5.1v5.1h-5.1z"/>
<path fill="#acd2e5" d="M627.2 394.2h5.1v5.1h-5.1zM632.1 394.2h5.1v5.1h-5.1zM622.3 389.3h5.1v5.1h-5.1zM651.7 389.3h5.1v5.1h-5.1zM617.4 384.4h5.1v5.1h-5.1zM656.6 384.4h5.1v5.1h-5.1zM661.5 379.5h5.1v5.1h-5.1zM666.4 379.5h5.1v5.1h-5.1zM671.2 369.7h5.1v5.1h-5.1zM676.1 364.8h5.1v5.1h-5.1zM676.1 359.9h5.1v5.1h-5.1zM681.0 350.2h5.1v5.1h-5.1zM681.0 345.3h5.1v5.1h-5.1zM685.9 311.1h5.1v5.1h-5.1zM685.9 301.3h5.1v5.1h-5.1zM681.0 291.5h5.1v5.1h-5.1zM685.9 291.5h5.1v5.1h-5.1zM681.0 281.7h5.1v5.1h-5.1zM681.0 276.8h5.1v5.1h-5.1zM681.0 272.0h5.1v5.1h-5.1zM676.1 267.1h5.1v5.1h-5.1zM666.4 252.4h5.1v5.1h-5.1zM607.6 242.6h5.1v5.1h-5.1zM661.5 242.6h5.1v5.1h-5.1zM617.4 237.7h5.1v5.1h-5.1zM646.8 237.7h5.1v5.1h-5.1zM651.7 237.7h5.1v5.1h-5.1zM622.3 232.8h5.1v5.1h-5.1zM627.2 232.8h5.1v5.1h-5.1zM637.0 232.8h5.1v5.1h-5.1zM641.9 232.8h5.1v5.1h-5.1zM646.8 232.8h5.1v5.1h-5.1z"/>
<path fill="#aed3e6" d="M627.2 399.0h5.1v5.1h-5.1zM637.0 399.0h5.1v5.1h-5.1zM622.3 394.2h5.1v5.1h-5.1zM637.0 394.2h5.1v5.1h-5.1zM641.9 394.2h5.1v5.1h-5.1zM646.8 394.2h5.1v5.1h-5.1zM651.7 394.2h5.1v5.1h-5.1zM617.4 389.3h5.1v5.1h-5.1zM656.6 389.3h5.1v5.1h-5.1zM612.5 384.4h5.1v5.1h-5.1zM661.5 384.4h5.1v5.1h-5.1zM607.6 379.5h5.1v5.1h-5.1zM671.2 374.6h5.1v5.1h-5.1zM676.1 369.7h5.1v5.1h-5.1zM681.0 359.9h5.1v5.1h-5.1zM681.0 355.0h5.1v5.1h-5.1zM685.9 345.3h5.1v5.1h-5.1zM685.9 335.5h5.1v5.1h-5.1zM685.9 330.6h5.1v5.1h-5.1zM685.9 325.7h5.1v5.1h-5.1zM685.9 320.8h5.1v5.1h-5.1zM685.9 315.9h5.1v5.1h-5.1zM685.9 306.2h5.1v5.1h-5.1zM685.9 296.4h5.1v5.1h-5.1zM685.9 286.6h5.1v5.1h-5.1zM685.9 281.7h5.1v5.1h-5.1zM681.0 267.1h5.1v5.1h-5.1zM676.1 262.2h5.1v5.1h-5.1zM676.1 257.3h5.1v5.1h-5.1zM671.2 252.4h5.1v5.1h-5.1zM666.4 247.5h5.1v5.1h-5.1zM602.8 242.6h5.1v5.1h-5.1zM666.4 242.6h5.1v5.1h-5.1zM612.5 237.7h5.1v5.1h-5.1zM656.6 237.7h5.1v5.1h-5.1zM661.5 237.7h5.1v5.1h-5.1zM622.3 228.0h5.1v5.1h-5.1zM627.2 228.0h5.1v5.1h-5.1zM632.1 228.0h5.1v5.1h-5.1zM637.0 228.0h5.1v5.1h-5.1zM646.8 228.0h5.1v5.1h-5.1z"/>
<path fill="#b1d5e7" d="M632.1 399.0h5.1v5.1h-5.1zM641.9 399.0h5.1v5.1h-5.1zM656.6 394.2h5.1v5.1h-5.1zM661.5 389.3h5.1v5.1h-5.1zM666.4 384.4h5.1v5.1h-5.1zM671.2 384.4h5.1v5.1h-5.1zM671.2 379.5h5.1v5.1h-5.1zM676.1 374.6h5.1v5.1h-5.1zM681.0 364.8h5.1v5.1h-5.1zM685.9 355.0h5.1v5.1h-5.1zM685.9 350.2h5.1v5.1h-5.1zM685.9 340.4h5.1v5.1h-5.1zM690.8 335.5h5.1v5.1h-5.1zM690.8 330.6h5.1v5.1h-5.1zM690.8 325.7h5.1v5.1h-5.1zM690.8 320.8h5.1v5.1h-5.1zM690.8 315.9h5.1v5.1h-5.1zM690.8 311.1h5.1v5.1h-5.1zM690.8 301.3h5.1v5.1h-5.1zM690.8 296.4h5.1v5.1h-5.1zM685.9 276.8h5.1v5.1h-5.1zM685.9 272.0h5.1v5.1h-5.1zM681.0 262.2h5.1v5.1h-5.1zM681.0 257.3h5.1v5.1h-5.1zM676.1 252.4h5.1v5.1h-5.1zM671.2 247.5h5.1v5.1h-5.1zM607.6 237.7h5.1v5.1h-5.1zM617.4 232.8h5.1v5.1h-5.1zM651.7 232.8h5.1v5.1h-5.1zM656.6 232.8h5.1v5.1h-5.1zM617.4 228.0h5.1v5.1h-5.1zM641.9 228.0h5.1v5.1h-5.1z"/>
<path fill="#b3d6e8" d="M627.2 403.9h5.1v5.1h-5.1zM632.1 403.9h5.1v5.1h-5.1zM637.0 403.9h5.1v5.1h-5.1zM641.9 403.9h5.1v5.1h-5.1zM622.3 399.0h5.1v5.1h-5.1zM646.8 399.0h5.1v5.1h-5.1zM651.7 399.0h5.1v5.1h-5.1zM661.5 394.2h5.1v5.1h-5.1zM666.4 389.3h5.1v5.1h-5.1zM607.6 384.4h5.1v5.1h-5.1zM602.8 379.5h5.1v5.1h-5.1zM676.1 379.5h5.1v5.1h-5.1zM681.0 369.7h5.1v5.1h-5.1zM685.9 364.8h5.1v5.1h-5.1zM685.9 359.9h5.1v5.1h-5.1zM690.8 345.3h5.1v5.1h-5.1zM690.8 340.4h5.1v5.1h-5.1zM690.8 306.2h5.1v5.1h-5.1zM690.8 291.5h5.1v5.1h-5.1zM690.8 286.6h5.1v5.1h-5.1zM690.8 276.8h5.1v5.1h-5.1zM685.9 267.1h5.1v5.1h-5.1zM676.1 247.5h5.1v5.1h-5.1zM671.2 242.6h5.1v5.1h-5.1zM676.1 242.6h5.1v5.1h-5.1zM602.8 237.7h5.1v5.1h-5.1zM666.4 237.7h5.1v5.1h-5.1zM612.5 232.8h5.1v5.1h-5.1zM661.5 232.8h5.1v5.1h-5.1zM651.7 228.0h5.1v5.1h-5.1zM656.6 228.0h5.1v5.1h-5.1zM622.3 223.1h5.1v5.1h-5.1zM627.2 223.1h5.1v5.1h-5.1zM632.1 223.1h5.1v5.1h-5.1zM637.0 223.1h5.1v5.1h-5.1zM641.9 223.1h5.1v5.1h-5.1z"/>
<path fill="#b8d8e9" d="M627.2 408.8h5.1v5.1h-5.1zM632.1 408.8h5.1v5.1h-5.1zM622.3 403.9h5.1v5.1h-5.1zM646.8 403.9h5.1v5.1h-5.1zM651.7 403.9h5.1v5.1h-5.1zM656.6 399.0h5.1v5.1h-5.1zM661.5 399.0h5.1v5.1h-5.1zM617.4 394.2h5.1v5.1h-5.1zM666.4 394.2h5.1v5.1h-5.1zM612.5 389.3h5.1v5.1h-5.1zM671.2 389.3h5.1v5.1h-5.1zM676.1 384.4h5.1v5.1h-5.1zM681.0 379.5h5.1v5.1h-5.1zM681.0 374.6h5.1v5.1h-5.1zM685.9 369.7h5.1v5.1h-5.1zM690.8 350.2h5.1v5.1h-5.1zM695.7 335.5h5.1v5.1h-5.1zM695.7 330.6h5.1v5.1h-5.1zM695.7 315.9h5.1v5.1h-5.1zM695.7 311.1h5.1v5.1h-5.1zM695.7 306.2h5.1v5.1h-5.1zM695.7 301.3h5.1v5.1h-5.1zM695.7 291.5h5.1v5.1h-5.1zM690.8 281.7h5.1v5.1h-5.1zM695.7 281.7h5.1v5.1h-5.1zM690.8 272.0h5.1v5.1h-5.1zM685.9 262.2h5.1v5.1h-5.1zM685.9 257.3h5.1v5.1h-5.1zM681.0 252.4h5.1v5.1h-5.1zM681.0 247.5h5.1v5.1h-5.1zM671.2 237.7h5.1v5.1h-5.1zM607.6 232.8h5.1v5.1h-5.1zM666.4 232.8h5.1v5.1h-5.1zM612.5 228.0h5.1v5.1h-5.1zM661.5 228.0h5.1v5.1h-5.1zM666.4 228.0h5.1v5.1h-5.1zM617.4 223.1h5.1v5.1h-5.1zM646.8 223.1h5.1v5.1h-5.1zM651.7 223.1h5.1v5.1h-5.1zM656.6 223.1h5.1v5.1h-5.1zM622.3 218.2h5.1v5.1h-5.1zM627.2 218.2h5.1v5.1h-5.1zM632.1 218.2h5.1v5.1h-5.1zM637.0 218.2h5.1v5.1h-5.1z"/>
<path fill="#bbdaea" d="M637.0 408.8h5.1v5.1h-5.1zM641.9 408.8h5.1v5.1h-5.1zM646.8 408.8h5.1v5.1h-5.1zM651.7 408.8h5.1v5.1h-5.1zM656.6 403.9h5.1v5.1h-5.1zM617.4 399.0h5.1v5.1h-5.1zM666.4 399.0h5.1v5.1h-5.1zM671.2 394.2h5.1v5.1h-5.1zM676.1 389.3h5.1v5.1h-5.1zM602.8 384.4h5.1v5.1h-5.1zM685.9 374.6h5.1v5.1h-5.1zM690.8 369.7h5.1v5.1h-5.1zM690.8 364.8h5.1v5.1h-5.1zM690.8 359.9h5.1v5.1h-5.1zM690.8 355.0h5.1v5.1h-5.1zM695.7 355.0h5.1v5.1h-5.1zM695.7 345.3h5.1v5.1h-5.1zM695.7 340.4h5.1v5.1h-5.1zM695.7 325.7h5.1v5.1h-5.1zM695.7 320.8h5.1v5.1h-5.1zM700.6 320.8h5.1v5.1h-5.1zM695.7 296.4h5.1v5.1h-5.1zM695.7 286.6h5.1v5.1h-5.1zM695.7 276.8h5.1v5.1h-5.1zM690.8 267.1h5.1v5.1h-5.1zM690.8 262.2h5.1v5.1h-5.1zM685.9 252.4h5.1v5.1h-5.1zM681.0 242.6h5.1v5.1h-5.1zM676.1 237.7h5.1v5.1h-5.1zM671.2 232.8h5.1v5.1h-5.1zM676.1 232.8h5.1v5.1h-5.1zM661.5 223.1h5.1v5.1h-5.1zM641.9 218.2h5.1v5.1h-5.1zM646.8 218.2h5.1v5.1h-5.1zM651.7 218.2h5.1v5.1h-5.1zM622.3 213.3h5.1v5.1h-5.1zM627.2 213.3h5.1v5.1h-5.1zM637.0 213.3h5.1v5.1h-5.1zM641.9 213.3h5.1v5.1h-5.1z"/>
<path fill="#bddbea" d="M627.2 413.7h5.1v5.1h-5.1zM632.1 413.7h5.1v5.1h-5.1zM637.0 413.7h5.1v5.1h-5.1zM646.8 413.7h5.1v5.1h-5.1zM622.3 408.8h5.1v5.1h-5.1zM617.4 403.9h5.1v5.1h-5.1zM661.5 403.9h5.1v5.1h-5.1zM671.2 399.0h5.1v5.1h-5.1zM612.5 394.2h5.1v5.1h-5.1zM676.1 394.2h5.1v5.1h-5.1zM607.6 389.3h5.1v5.1h-5.1zM681.0 389.3h5.1v5.1h-5.1zM681.0 384.4h5.1v5.1h-5.1zM685.9 384.4h5.1v5.1h-5.1zM685.9 379.5h5.1v5.1h-5.1zM690.8 374.6h5.1v5.1h-5.1zM695.7 350.2h5.1v5.1h-5.1zM700.6 340.4h5.1v5.1h-5.1zM700.6 335.5h5.1v5.1h-5.1zM700.6 330.6h5.1v5.1h-5.1zM700.6 325.7h5.1v5.1h-5.1zM700.6 315.9h5.1v5.1h-5.1zM700.6 311.1h5.1v5.1h-5.1zM700.6 306.2h5.1v5.1h-5.1zM700.6 301.3h5.1v5.1h-5.1zM700.6 296.4h5.1v5.1h-5.1zM700.6 291.5h5.1v5.1h-5.1zM695.7 272.0h5.1v5.1h-5.1zM695.7 267.1h5.1v5.1h-5.1zM690.8 257.3h5.1v5.1h-5.1zM685.9 247.5h5.1v5.1h-5.1zM685.9 242.6h5.1v5.1h-5.1zM681.0 237.7h5.1v5.1h-5.1zM602.8 232.8h5.1v5.1h-5.1zM607.6 228.0h5.1v5.1h-5.1zM671.2 228.0h5.1v5.1h-5.1zM612.5 223.1h5.1v5.1h-5.1zM666.4 223.1h5.1v5.1h-5.1zM617.4 218.2h5.1v5.1h-5.1zM656.6 218.2h5.1v5.1h-5.1zM661.5 218.2h5.1v5.1h-5.1zM632.1 213.3h5.1v5.1h-5.1zM646.8 213.3h5.1v5.1h-5.1zM651.7 213.3h5.1v5.1h-5.1zM627.2 208.4h5.1v5.1h-5.1zM632.1 208.4h5.1v5.1h-5.1z"/>
<path fill="#c2ddec" d="M627.2 418.6h5.1v5.1h-5.1zM632.1 418.6h5.1v5.1h-5.1zM622.3 413.7h5.1v5.1h-5.1zM641.9 413.7h5.1v5.1h-5.1zM651.7 413.7h5.1v5.1h-5.1zM656.6 408.8h5.1v5.1h-5.1zM661.5 408.8h5.1v5.1h-5.1zM666.4 403.9h5.1v5.1h-5.1zM612.5 399.0h5.1v5.1h-5.1zM690.8 379.5h5.1v5.1h-5.1zM695.7 364.8h5.1v5.1h-5.1zM695.7 359.9h5.1v5.1h-5.1zM700.6 355.0h5.1v5.1h-5.1zM700.6 345.3h5.1v5.1h-5.1zM705.5 320.8h5.1v5.1h-5.1zM700.6 286.6h5.1v5.1h-5.1zM700.6 281.7h5.1v5.1h-5.1zM700.6 276.8h5.1v5.1h-5.1zM695.7 262.2h5.1v5.1h-5.1zM695.7 257.3h5.1v5.1h-5.1zM690.8 252.4h5.1v5.1h-5.1zM690.8 247.5h5.1v5.1h-5.1zM685.9 237.7h5.1v5.1h-5.1zM681.0 232.8h5.1v5.1h-5.1zM602.8 228.0h5.1v5.1h-5.1zM676.1 228.0h5.1v5.1h-5.1zM671.2 223.1h5.1v5.1h-5.1zM612.5 218.2h5.1v5.1h-5.1zM666.4 218.2h5.1v5.1h-5.1zM617.4 213.3h5.1v5.1h-5.1zM656.6 213.3h5.1v5.1h-5.1zM622.3 208.4h5.1v5.1h-5.1zM637.0 208.4h5.1v5.1h-5.1zM641.9 208.4h5.1v5.1h-5.1zM646.8 208.4h5.1v5.1h-5.1zM651.7 208.4h5.1v5.1h-5.1z"/>
<path fill="#c5dfec" d="M627.2 423.5h5.1v5.1h-5.1zM622.3 418.6h5.1v5.1h-5.1zM637.0 418.6h5.1v5.1h-5.1zM641.9 418.6h5.1v5.1h-5.1zM646.8 418.6h5.1v5.1h-5.1zM651.7 418.6h5.1v5.1h-5.1zM656.6 418.6h5.1v5.1h-5.1zM656.6 413.7h5.1v5.1h-5.1zM617.4 408.8h5.1v5.1h-5.1zM666.4 408.8h5.1v5.1h-5.1zM671.2 403.9h5.1v5.1h-5.1zM676.1 403.9h5.1v5.1h-5.1zM676.1 399.0h5.1v5.1h-5.1zM681.0 399.0h5.1v5.1h-5.1zM681.0 394.2h5.1v5.1h-5.1zM602.8 389.3h5.1v5.1h-5.1zM685.9 389.3h5.1v5.1h-5.1zM690.8 389.3h5.1v5.1h-5.1zM690.8 384.4h5.1v5.1h-5.1zM695.7 374.6h5.1v5.1h-5.1zM695.7 369.7h5.1v5.1h-5.1zM700.6 359.9h5.1v5.1h-5.1zM700.6 350.2h5.1v5.1h-5.1zM705.5 345.3h5.1v5.1h-5.1zM705.5 340.4h5.1v5.1h-5.1zM705.5 335.5h5.1v5.1h-5.1zM705.5 330.6h5.1v5.1h-5.1zM705.5 325.7h5.1v5.1h-5.1zM705.5 315.9h5.1v5.1h-5.1zM705.5 311.1h5.1v5.1h-5.1zM705.5 306.2h5.1v5.1h-5.1zM705.5 301.3h5.1v5.1h-5.1zM705.5 296.4h5.1v5.1h-5.1zM705.5 291.5h5.1v5.1h-5.1zM705.5 286.6h5.1v5.1h-5.1zM705.5 276.8h5.1v5.1h-5.1zM700.6 272.0h5.1v5.1h-5.1zM700.6 267.1h5.1v5.1h-5.1zM700.6 262.2h5.1v5.1h-5.1zM695.7 252.4h5.1v5.1h-5.1zM690.8 242.6h5.1v5.1h-5.1zM685.9 232.8h5.1v5.1h-5.1zM681.0 228.0h5.1v5.1h-5.1zM607.6 223.1h5.1v5.1h-5.1zM676.1 223.1h5.1v5.1h-5.1zM671.2 218.2h5.1v5.1h-5.1zM612.5 213.3h5.1v5.1h-5.1zM661.5 213.3h5.1v5.1h-5.1zM617.4 208.4h5.1v5.1h-5.1zM656.6 208.4h5.1v5.1h-5.1zM622.3 203.5h5.1v5.1h-5.1zM627.2 203.5h5.1v5.1h-5.1zM632.1 203.5h5.1v5.1h-5.1zM641.9 203.5h5.1v5.1h-5.1z"/>
<path fill="#c7e0ed" d="M632.1 423.5h5.1v5.1h-5.1zM637.0 423.5h5.1v5.1h-5.1zM641.9 423.5h5.1v5.1h-5.1zM646.8 423.5h5.1v5.1h-5.1zM661.5 413.7h5.1v5.1h-5.1zM666.4 413.7h5.1v5.1h-5.1zM671.2 408.8h5.1v5.1h-5.1zM612.5 403.9h5.1v5.1h-5.1zM607.6 394.2h5.1v5.1h-5.1zM685.9 394.2h5.1v5.1h-5.1zM695.7 379.5h5.1v5.1h-5.1zM700.6 369.7h5.1v5.1h-5.1zM700.6 364.8h5.1v5.1h-5.1zM705.5 359.9h5.1v5.1h-5.1zM710.4 315.9h5.1v5.1h-5.1zM705.5 281.7h5.1v5.1h-5.1zM705.5 272.0h5.1v5.1h-5.1zM705.5 267.1h5.1v5.1h-5.1zM700.6 257.3h5.1v5.1h-5.1zM700.6 252.4h5.1v5.1h-5.1zM695.7 247.5h5.1v5.1h-5.1zM690.8 237.7h5.1v5.1h-5.1zM685.9 228.0h5.1v5.1h-5.1zM681.0 223.1h5.1v5.1h-5.1zM607.6 218.2h5.1v5.1h-5.1zM676.1 218.2h5.1v5.1h-5.1zM666.4 213.3h5.1v5.1h-5.1zM671.2 213.3h5.1v5.1h-5.1zM661.5 208.4h5.1v5.1h-5.1zM666.4 208.4h5.1v5.1h-5.1zM617.4 203.5h5.1v5.1h-5.1zM637.0 203.5h5.1v5.1h-5.1zM646.8 203.5h5.1v5.1h-5.1zM651.7 203.5h5.1v5.1h-5.1zM656.6 203.5h5.1v5.1h-5.1zM632.1 198.6h5.1v5.1h-5.1zM637.0 198.6h5.1v5.1h-5.1zM641.9 198.6h5.1v5.1h-5.1z"/>
<path fill="#cae1ee" d="M632.1 428.4h5.1v5.1h-5.1zM637.0 428.4h5.1v5.1h-5.1zM622.3 423.5h5.1v5.1h-5.1zM651.7 423.5h5.1v5.1h-5.1zM656.6 423.5h5.1v5.1h-5.1zM617.4 418.6h5.1v5.1h-5.1zM661.5 418.6h5.1v5.1h-5.1zM666.4 418.6h5.1v5.1h-5.1zM617.4 413.7h5.1v5.1h-5.1zM671.2 413.7h5.1v5.1h-5.1zM676.1 413.7h5.1v5.1h-5.1zM612.5 408.8h5.1v5.1h-5.1zM676.1 408.8h5.1v5.1h-5.1zM681.0 403.9h5.1v5.1h-5.1zM685.9 403.9h5.1v5.1h-5.1zM607.6 399.0h5.1v5.1h-5.1zM685.9 399.0h5.1v5.1h-5.1zM690.8 394.2h5.1v5.1h-5.1zM695.7 389.3h5.1v5.1h-5.1zM695.7 384.4h5.1v5.1h-5.1zM700.6 379.5h5.1v5.1h-5.1zM700.6 374.6h5.1v5.1h-5.1zM705.5 364.8h5.1v5.1h-5.1zM705.5 355.0h5.1v5.1h-5.1zM705.5 350.2h5.1v5.1h-5.1zM710.4 350.2h5.1v5.1h-5.1zM710.4 345.3h5.1v5.1h-5.1zM710.4 340.4h5.1v5.1h-5.1zM710.4 335.5h5.1v5.1h-5.1zM710.4 330.6h5.1v5.1h-5.1zM710.4 325.7h5.1v5.1h-5.1zM710.4 320.8h5.1v5.1h-5.1zM710.4 311.1h5.1v5.1h-5.1zM710.4 306.2h5.1v5.1h-5.1zM710.4 301.3h5.1v5.1h-5.1zM710.4 296.4h5.1v5.1h-5.1zM710.4 291.5h5.1v5.1h-5.1zM710.4 286.6h5.1v5.1h-5.1zM710.4 281.7h5.1v5.1h-5.1zM705.5 262.2h5.1v5.1h-5.1zM700.6 247.5h5.1v5.1h-5.1zM695.7 242.6h5.1v5.1h-5.1zM695.7 237.7h5.1v5.1h-5.1zM690.8 232.8h5.1v5.1h-5.1zM602.8 223.1h5.1v5.1h-5.1zM685.9 223.1h5.1v5.1h-5.1zM602.8 218.2h5.1v5.1h-5.1zM681.0 218.2h5.1v5.1h-5.1zM607.6 213.3h5.1v5.1h-5.1zM676.1 213.3h5.1v5.1h-5.1zM612.5 208.4h5.1v5.1h-5.1zM671.2 208.4h5.1v5.1h-5.1zM661.5 203.5h5.1v5.1h-5.1zM622.3 198.6h5.1v5.1h-5.1zM627.2 198.6h5.1v5.1h-5.1zM646.8 198.6h5.1v5.1h-5.1zM651.7 198.6h5.1v5.1h-5.1z"/>
<path fill="#cfe4ef" d="M622.3 428.4h5.1v5.1h-5.1zM627.2 428.4h5.1v5.1h-5.1zM641.9 428.4h5.1v5.1h-5.1zM646.8 428.4h5.1v5.1h-5.1zM661.5 423.5h5.1v5.1h-5.1zM671.2 418.6h5.1v5.1h-5.1zM612.5 413.7h5.1v5.1h-5.1zM681.0 408.8h5.1v5.1h-5.1zM607.6 403.9h5.1v5.1h-5.1zM690.8 399.0h5.1v5.1h-5.1zM695.7 394.2h5.1v5.1h-5.1zM700.6 384.4h5.1v5.1h-5.1zM705.5 374.6h5.1v5.1h-5.1zM705.5 369.7h5.1v5.1h-5.1zM710.4 359.9h5.1v5.1h-5.1zM710.4 355.0h5.1v5.1h-5.1zM715.3 335.5h5.1v5.1h-5.1zM715.3 325.7h5.1v5.1h-5.1zM715.3 320.8h5.1v5.1h-5.1zM715.3 315.9h5.1v5.1h-5.1zM715.3 311.1h5.1v5.1h-5.1zM715.3 306.2h5.1v5.1h-5.1zM715.3 296.4h5.1v5.1h-5.1zM715.3 291.5h5.1v5.1h-5.1zM710.4 276.8h5.1v5.1h-5.1zM710.4 272.0h5.1v5.1h-5.1zM710.4 262.2h5.1v5.1h-5.1zM705.5 257.3h5.1v5.1h-5.1zM705.5 252.4h5.1v5.1h-5.1zM700.6 242.6h5.1v5.1h-5.1zM700.6 237.7h5.1v5.1h-5.1zM695.7 232.8h5.1v5.1h-5.1zM690.8 228.0h5.1v5.1h-5.1zM695.7 228.0h5.1v5.1h-5.1zM685.9 218.2h5.1v5.1h-5.1zM681.0 213.3h5.1v5.1h-5.1zM607.6 208.4h5.1v5.1h-5.1zM676.1 208.4h5.1v5.1h-5.1zM612.5 203.5h5.1v5.1h-5.1zM666.4 203.5h5.1v5.1h-5.1zM671.2 203.5h5.1v5.1h-5.1zM617.4 198.6h5.1v5.1h-5.1zM656.6 198.6h5.1v5.1h-5.1zM661.5 198.6h5.1v5.1h-5.1zM622.3 193.7h5.1v5.1h-5.1zM627.2 193.7h5.1v5.1h-5.1zM632.1 193.7h5.1v5.1h-5.1zM637.0 193.7h5.1v5.1h-5.1zM641.9 193.7h5.1v5.1h-5.1zM651.7 193.7h5.1v5.1h-5.1z"/>
<path fill="#d1e5f0" d="M627.2 433.3h5.1v5.1h-5.1zM632.1 433.3h5.1v5.1h-5.1zM637.0 433.3h5.1v5.1h-5.1zM641.9 433.3h5.1v5.1h-5.1zM646.8 433.3h5.1v5.1h-5.1zM651.7 433.3h5.1v5.1h-5.1zM651.7 428.4h5.1v5.1h-5.1zM656.6 428.4h5.1v5.1h-5.1zM661.5 428.4h5.1v5.1h-5.1zM617.4 423.5h5.1v5.1h-5.1zM666.4 423.5h5.1v5.1h-5.1zM671.2 423.5h5.1v5.1h-5.1zM612.5 418.6h5.1v5.1h-5.1zM676.1 418.6h5.1v5.1h-5.1zM681.0 413.7h5.1v5.1h-5.1zM685.9 408.8h5.1v5.1h-5.1zM695.7 399.0h5.1v5.1h-5.1zM602.8 394.2h5.1v5.1h-5.1zM700.6 389.3h5.1v5.1h-5.1zM705.5 384.4h5.1v5.1h-5.1zM705.5 379.5h5.1v5.1h-5.1zM710.4 369.7h5.1v5.1h-5.1zM710.4 364.8h5.1v5.1h-5.1zM715.3 355.0h5.1v5.1h-5.1zM715.3 350.2h5.1v5.1h-5.1zM715.3 340.4h5.1v5.1h-5.1zM715.3 301.3h5.1v5.1h-5.1zM715.3 286.6h5.1v5.1h-5.1zM715.3 281.7h5.1v5.1h-5.1zM715.3 276.8h5.1v5.1h-5.1zM710.4 267.1h5.1v5.1h-5.1zM710.4 257.3h5.1v5.1h-5.1zM705.5 247.5h5.1v5.1h-5.1zM705.5 242.6h5.1v5.1h-5.1zM690.8 223.1h5.1v5.1h-5.1zM690.8 218.2h5.1v5.1h-5.1zM602.8 213.3h5.1v5.1h-5.1zM685.9 213.3h5.1v5.1h-5.1zM681.0 208.4h5.1v5.1h-5.1zM607.6 203.5h5.1v5.1h-5.1zM676.1 203.5h5.1v5.1h-5.1zM612.5 198.6h5.1v5.1h-5.1zM666.4 198.6h5.1v5.1h-5.1zM617.4 193.7h5.1v5.1h-5.1zM646.8 193.7h5.1v5.1h-5.1zM656.6 193.7h5.1v5.1h-5.1zM632.1 188.9h5.1v5.1h-5.1zM637.0 188.9h5.1v5.1h-5.1zM646.8 188.9h5.1v5.1h-5.1z"/>
<path fill="#d2e6f0" d="M627.2 438.1h5.1v5.1h-5.1zM632.1 438.1h5.1v5.1h-5.1zM641.9 438.1h5.1v5.1h-5.1zM622.3 433.3h5.1v5.1h-5.1zM656.6 433.3h5.1v5.1h-5.1zM617.4 428.4h5.1v5.1h-5.1zM666.4 428.4h5.1v5.1h-5.1zM676.1 423.5h5.1v5.1h-5.1zM681.0 418.6h5.1v5.1h-5.1zM607.6 413.7h5.1v5.1h-5.1zM685.9 413.7h5.1v5.1h-5.1zM607.6 408.8h5.1v5.1h-5.1zM690.8 408.8h5.1v5.1h-5.1zM690.8 403.9h5.1v5.1h-5.1zM695.7 403.9h5.1v5.1h-5.1zM602.8 399.0h5.1v5.1h-5.1zM700.6 399.0h5.1v5.1h-5.1zM700.6 394.2h5.1v5.1h-5.1zM710.4 379.5h5.1v5.1h-5.1zM710.4 374.6h5.1v5.1h-5.1zM715.3 359.9h5.1v5.1h-5.1zM715.3 345.3h5.1v5.1h-5.1zM715.3 330.6h5.1v5.1h-5.1zM720.2 330.6h5.1v5.1h-5.1zM720.2 320.8h5.1v5.1h-5.1zM720.2 315.9h5.1v5.1h-5.1zM720.2 311.1h5.1v5.1h-5.1zM720.2 306.2h5.1v5.1h-5.1zM720.2 291.5h5.1v5.1h-5.1zM715.3 272.0h5.1v5.1h-5.1zM715.3 267.1h5.1v5.1h-5.1zM715.3 262.2h5.1v5.1h-5.1zM710.4 252.4h5.1v5.1h-5.1zM710.4 247.5h5.1v5.1h-5.1zM705.5 237.7h5.1v5.1h-5.1zM700.6 232.8h5.1v5.1h-5.1zM705.5 232.8h5.1v5.1h-5.1zM695.7 223.1h5.1v5.1h-5.1zM690.8 213.3h5.1v5.1h-5.1zM602.8 208.4h5.1v5.1h-5.1zM685.9 208.4h5.1v5.1h-5.1zM681.0 203.5h5.1v5.1h-5.1zM607.6 198.6h5.1v5.1h-5.1zM671.2 198.6h5.1v5.1h-5.1zM676.1 198.6h5.1v5.1h-5.1zM612.5 193.7h5.1v5.1h-5.1zM661.5 193.7h5.1v5.1h-5.1zM666.4 193.7h5.1v5.1h-5.1zM617.4 188.9h5.1v5.1h-5.1zM622.3 188.9h5.1v5.1h-5.1zM627.2 188.9h5.1v5.1h-5.1zM641.9 188.9h5.1v5.1h-5.1zM651.7 188.9h5.1v5.1h-5.1zM627.2 184.0h5.1v5.1h-5.1zM632.1 184.0h5.1v5.1h-5.1z"/>
<path fill="#d4e6f1" d="M622.3 438.1h5.1v5.1h-5.1zM637.0 438.1h5.1v5.1h-5.1zM646.8 438.1h5.1v5.1h-5.1zM651.7 438.1h5.1v5.1h-5.1zM656.6 438.1h5.1v5.1h-5.1zM617.4 433.3h5.1v5.1h-5.1zM661.5 433.3h5.1v5.1h-5.1zM666.4 433.3h5.1v5.1h-5.1zM671.2 428.4h5.1v5.1h-5.1zM676.1 428.4h5.1v5.1h-5.1zM612.5 423.5h5.1v5.1h-5.1zM681.0 423.5h5.1v5.1h-5.1zM607.6 418.6h5.1v5.1h-5.1zM685.9 418.6h5.1v5.1h-5.1zM690.8 413.7h5.1v5.1h-5.1zM695.7 413.7h5.1v5.1h-5.1zM695.7 408.8h5.1v5.1h-5.1zM602.8 403.9h5.1v5.1h-5.1zM700.6 403.9h5.1v5.1h-5.1zM705.5 394.2h5.1v5.1h-5.1zM705.5 389.3h5.1v5.1h-5.1zM710.4 389.3h5.1v5.1h-5.1zM710.4 384.4h5.1v5.1h-5.1zM715.3 374.6h5.1v5.1h-5.1zM715.3 369.7h5.1v5.1h-5.1zM715.3 364.8h5.1v5.1h-5.1zM720.2 355.0h5.1v5.1h-5.1zM720.2 350.2h5.1v5.1h-5.1zM720.2 345.3h5.1v5.1h-5.1zM720.2 340.4h5.1v5.1h-5.1zM720.2 335.5h5.1v5.1h-5.1zM720.2 325.7h5.1v5.1h-5.1zM720.2 301.3h5.1v5.1h-5.1zM720.2 296.4h5.1v5.1h-5.1zM720.2 286.6h5.1v5.1h-5.1zM720.2 281.7h5.1v5.1h-5.1zM720.2 276.8h5.1v5.1h-5.1zM720.2 272.0h5.1v5.1h-5.1zM715.3 257.3h5.1v5.1h-5.1zM715.3 252.4h5.1v5.1h-5.1zM710.4 242.6h5.1v5.1h-5.1zM700.6 228.0h5.1v5.1h-5.1zM700.6 223.1h5.1v5.1h-5.1zM695.7 218.2h5.1v5.1h-5.1zM695.7 213.3h5.1v5.1h-5.1zM690.8 208.4h5.1v5.1h-5.1zM602.8 203.5h5.1v5.1h-5.1zM685.9 203.5h5.1v5.1h-5.1zM607.6 193.7h5.1v5.1h-5.1zM612.5 188.9h5.1v5.1h-5.1zM656.6 188.9h5.1v5.1h-5.1zM661.5 188.9h5.1v5.1h-5.1zM617.4 184.0h5.1v5.1h-5.1zM622.3 184.0h5.1v5.1h-5.1zM637.0 184.0h5.1v5.1h-5.1zM641.9 184.0h5.1v5.1h-5.1zM646.8 184.0h5.1v5.1h-5.1zM651.7 184.0h5.1v5.1h-5.1zM656.6 184.0h5.1v5.1h-5.1zM627.2 179.1h5.1v5.1h-5.1z"/>
<path fill="#d7e8f1" d="M622.3 443.0h5.1v5.1h-5.1zM627.2 443.0h5.1v5.1h-5.1zM632.1 443.0h5.1v5.1h-5.1zM637.0 443.0h5.1v5.1h-5.1zM641.9 443.0h5.1v5.1h-5.1zM646.8 443.0h5.1v5.1h-5.1zM661.5 438.1h5.1v5.1h-5.1zM666.4 438.1h5.1v5.1h-5.1zM671.2 433.3h5.1v5.1h-5.1zM612.5 428.4h5.1v5.1h-5.1zM681.0 428.4h5.1v5.1h-5.1zM685.9 423.5h5.1v5.1h-5.1zM690.8 418.6h5.1v5.1h-5.1zM602.8 408.8h5.1v5.1h-5.1zM700.6 408.8h5.1v5.1h-5.1zM705.5 399.0h5.1v5.1h-5.1zM710.4 394.2h5.1v5.1h-5.1zM715.3 384.4h5.1v5.1h-5.1zM715.3 379.5h5.1v5.1h-5.1zM720.2 364.8h5.1v5.1h-5.1zM720.2 359.9h5.1v5.1h-5.1zM725.1 340.4h5.1v5.1h-5.1zM725.1 335.5h5.1v5.1h-5.1zM725.1 330.6h5.1v5.1h-5.1zM725.1 325.7h5.1v5.1h-5.1zM725.1 320.8h5.1v5.1h-5.1zM725.1 315.9h5.1v5.1h-5.1zM725.1 311.1h5.1v5.1h-5.1zM725.1 301.3h5.1v5.1h-5.1zM725.1 296.4h5.1v5.1h-5.1zM725.1 281.7h5.1v5.1h-5.1zM720.2 267.1h5.1v5.1h-5.1zM720.2 262.2h5.1v5.1h-5.1zM720.2 257.3h5.1v5.1h-5.1zM720.2 252.4h5.1v5.1h-5.1zM715.3 247.5h5.1v5.1h-5.1zM715.3 242.6h5.1v5.1h-5.1zM710.4 237.7h5.1v5.1h-5.1zM710.4 232.8h5.1v5.1h-5.1zM705.5 228.0h5.1v5.1h-5.1zM705.5 223.1h5.1v5.1h-5.1zM700.6 218.2h5.1v5.1h-5.1zM690.8 203.5h5.1v5.1h-5.1zM602.8 198.6h5.1v5.1h-5.1zM681.0 198.6h5.1v5.1h-5.1zM671.2 193.7h5.1v5.1h-5.1zM676.1 193.7h5.1v5.1h-5.1zM666.4 188.9h5.1v5.1h-5.1zM671.2 188.9h5.1v5.1h-5.1zM661.5 184.0h5.1v5.1h-5.1zM622.3 179.1h5.1v5.1h-5.1zM632.1 179.1h5.1v5.1h-5.1zM637.0 179.1h5.1v5.1h-5.1zM641.9 179.1h5.1v5.1h-5.1zM646.8 179.1h5.1v5.1h-5.1zM651.7 179.1h5.1v5.1h-5.1zM637.0 174.2h5.1v5.1h-5.1z"/>
<path fill="#d8e9f1" d="M627.2 447.9h5.1v5.1h-5.1zM632.1 447.9h5.1v5.1h-5.1zM637.0 447.9h5.1v5.1h-5.1zM641.9 447.9h5.1v5.1h-5.1zM617.4 443.0h5.1v5.1h-5.1zM651.7 443.0h5.1v5.1h-5.1zM656.6 443.0h5.1v5.1h-5.1zM661.5 443.0h5.1v5.1h-5.1zM617.4 438.1h5.1v5.1h-5.1zM671.2 438.1h5.1v5.1h-5.1zM612.5 433.3h5.1v5.1h-5.1zM676.1 433.3h5.1v5.1h-5.1zM681.0 433.3h5.1v5.1h-5.1zM685.9 428.4h5.1v5.1h-5.1zM607.6 423.5h5.1v5.1h-5.1zM690.8 423.5h5.1v5.1h-5.1zM695.7 418.6h5.1v5.1h-5.1zM602.8 413.7h5.1v5.1h-5.1zM700.6 413.7h5.1v5.1h-5.1zM705.5 403.9h5.1v5.1h-5.1zM710.4 399.0h5.1v5.1h-5.1zM715.3 389.3h5.1v5.1h-5.1zM720.2 379.5h5.1v5.1h-5.1zM720.2 374.6h5.1v5.1h-5.1zM720.2 369.7h5.1v5.1h-5.1zM725.1 359.9h5.1v5.1h-5.1zM725.1 355.0h5.1v5.1h-5.1zM725.1 350.2h5.1v5.1h-5.1zM725.1 345.3h5.1v5.1h-5.1zM729.9 325.7h5.1v5.1h-5.1zM729.9 311.1h5.1v5.1h-5.1zM725.1 306.2h5.1v5.1h-5.1zM729.9 301.3h5.1v5.1h-5.1zM725.1 291.5h5.1v5.1h-5.1zM725.1 286.6h5.1v5.1h-5.1zM725.1 276.8h5.1v5.1h-5.1zM725.1 272.0h5.1v5.1h-5.1zM725.1 267.1h5.1v5.1h-5.1zM720.2 247.5h5.1v5.1h-5.1zM715.3 237.7h5.1v5.1h-5.1zM710.4 228.0h5.1v5.1h-5.1zM705.5 218.2h5.1v5.1h-5.1zM700.6 213.3h5.1v5.1h-5.1zM695.7 208.4h5.1v5.1h-5.1zM695.7 203.5h5.1v5.1h-5.1zM685.9 198.6h5.1v5.1h-5.1zM690.8 198.6h5.1v5.1h-5.1zM602.8 193.7h5.1v5.1h-5.1zM681.0 193.7h5.1v5.1h-5.1zM685.9 193.7h5.1v5.1h-5.1zM607.6 188.9h5.1v5.1h-5.1zM676.1 188.9h5.1v5.1h-5.1zM612.5 184.0h5.1v5.1h-5.1zM666.4 184.0h5.1v5.1h-5.1zM671.2 184.0h5.1v5.1h-5.1zM617.4 179.1h5.1v5.1h-5.1zM661.5 179.1h5.1v5.1h-5.1zM622.3 174.2h5.1v5.1h-5.1zM627.2 174.2h5.1v5.1h-5.1zM632.1 174.2h5.1v5.1h-5.1zM641.9 174.2h5.1v5.1h-5.1zM646.8 174.2h5.1v5.1h-5.1z"/>
<path fill="#dae9f2" d="M622.3 447.9h5.1v5.1h-5.1zM646.8 447.9h5.1v5.1h-5.1zM651.7 447.9h5.1v5.1h-5.1zM656.6 447.9h5.1v5.1h-5.1zM666.4 447.9h5.1v5.1h-5.1zM666.4 443.0h5.1v5.1h-5.1zM671.2 443.0h5.1v5.1h-5.1zM676.1 438.1h5.1v5.1h-5.1zM607.6 428.4h5.1v5.1h-5.1zM690.8 428.4h5.1v5.1h-5.1zM695.7 423.5h5.1v5.1h-5.1zM602.8 418.6h5.1v5.1h-5.1zM700.6 418.6h5.1v5.1h-5.1zM705.5 413.7h5.1v5.1h-5.1zM705.5 408.8h5.1v5.1h-5.1zM710.4 403.9h5.1v5.1h-5.1zM715.3 399.0h5.1v5.1h-5.1zM715.3 394.2h5.1v5.1h-5.1zM720.2 384.4h5.1v5.1h-5.1zM725.1 379.5h5.1v5.1h-5.1zM725.1 369.7h5.1v5.1h-5.1zM725.1 364.8h5.1v5.1h-5.1zM729.9 355.0h5.1v5.1h-5.1zM729.9 350.2h5.1v5.1h-5.1zM729.9 340.4h5.1v5.1h-5.1zM729.9 335.5h5.1v5.1h-5.1zM729.9 330.6h5.1v5.1h-5.1zM729.9 320.8h5.1v5.1h-5.1zM729.9 315.9h5.1v5.1h-5.1zM729.9 306.2h5.1v5.1h-5.1zM729.9 296.4h5.1v5.1h-5.1zM729.9 291.5h5.1v5.1h-5.1zM729.9 286.6h5.1v5.1h-5.1zM729.9 276.8h5.1v5.1h-5.1zM725.1 262.2h5.1v5.1h-5.1zM725.1 257.3h5.1v5.1h-5.1zM720.2 242.6h5.1v5.1h-5.1zM720.2 237.7h5.1v5.1h-5.1zM715.3 232.8h5.1v5.1h-5.1zM710.4 223.1h5.1v5.1h-5.1zM710.4 218.2h5.1v5.1h-5.1zM705.5 213.3h5.1v5.1h-5.1zM700.6 208.4h5.1v5.1h-5.1zM695.7 198.6h5.1v5.1h-5.1zM690.8 193.7h5.1v5.1h-5.1zM602.8 188.9h5.1v5.1h-5.1zM681.0 188.9h5.1v5.1h-5.1zM607.6 184.0h5.1v5.1h-5.1zM676.1 184.0h5.1v5.1h-5.1zM681.0 184.0h5.1v5.1h-5.1zM612.5 179.1h5.1v5.1h-5.1zM656.6 179.1h5.1v5.1h-5.1zM666.4 179.1h5.1v5.1h-5.1zM671.2 179.1h5.1v5.1h-5.1zM617.4 174.2h5.1v5.1h-5.1zM651.7 174.2h5.1v5.1h-5.1zM656.6 174.2h5.1v5.1h-5.1zM661.5 174.2h5.1v5.1h-5.1zM637.0 169.3h5.1v5.1h-5.1z"/>
<path fill="#ddebf2" d="M622.3 452.8h5.1v5.1h-5.1zM627.2 452.8h5.1v5.1h-5.1zM632.1 452.8h5.1v5.1h-5.1zM637.0 452.8h5.1v5.1h-5.1zM641.9 452.8h5.1v5.1h-5.1zM646.8 452.8h5.1v5.1h-5.1zM651.7 452.8h5.1v5.1h-5.1zM617.4 447.9h5.1v5.1h-5.1zM661.5 447.9h5.1v5.1h-5.1zM671.2 447.9h5.1v5.1h-5.1zM612.5 443.0h5.1v5.1h-5.1zM676.1 443.0h5.1v5.1h-5.1zM612.5 438.1h5.1v5.1h-5.1zM681.0 438.1h5.1v5.1h-5.1zM685.9 438.1h5.1v5.1h-5.1zM607.6 433.3h5.1v5.1h-5.1zM685.9 433.3h5.1v5.1h-5.1zM690.8 433.3h5.1v5.1h-5.1zM695.7 428.4h5.1v5.1h-5.1zM602.8 423.5h5.1v5.1h-5.1zM700.6 423.5h5.1v5.1h-5.1zM705.5 418.6h5.1v5.1h-5.1zM710.4 413.7h5.1v5.1h-5.1zM710.4 408.8h5.1v5.1h-5.1zM715.3 403.9h5.1v5.1h-5.1zM720.2 389.3h5.1v5.1h-5.1zM725.1 374.6h5.1v5.1h-5.1zM729.9 364.8h5.1v5.1h-5.1zM729.9 359.9h5.1v5.1h-5.1zM729.9 345.3h5.1v5.1h-5.1zM734.8 340.4h5.1v5.1h-5.1zM734.8 335.5h5.1v5.1h-5.1zM734.8 330.6h5.1v5.1h-5.1zM734.8 306.2h5.1v5.1h-5.1zM729.9 281.7h5.1v5.1h-5.1zM729.9 272.0h5.1v5.1h-5.1zM729.9 267.1h5.1v5.1h-5.1zM729.9 262.2h5.1v5.1h-5.1zM725.1 252.4h5.1v5.1h-5.1zM725.1 247.5h5.1v5.1h-5.1zM720.2 232.8h5.1v5.1h-5.1zM715.3 228.0h5.1v5.1h-5.1zM715.3 223.1h5.1v5.1h-5.1zM710.4 213.3h5.1v5.1h-5.1zM705.5 208.4h5.1v5.1h-5.1zM700.6 203.5h5.1v5.1h-5.1zM700.6 198.6h5.1v5.1h-5.1zM695.7 193.7h5.1v5.1h-5.1zM685.9 188.9h5.1v5.1h-5.1zM690.8 188.9h5.1v5.1h-5.1zM602.8 184.0h5.1v5.1h-5.1zM607.6 179.1h5.1v5.1h-5.1zM612.5 174.2h5.1v5.1h-5.1zM666.4 174.2h5.1v5.1h-5.1zM617.4 169.3h5.1v5.1h-5.1zM622.3 169.3h5.1v5.1h-5.1zM627.2 169.3h5.1v5.1h-5.1zM632.1 169.3h5.1v5.1h-5.1zM641.9 169.3h5.1v5.1h-5.1zM646.8 169.3h5.1v5.1h-5.1zM651.7 169.3h5.1v5.1h-5.1z"/>
<path fill="#deebf2" d="M622.3 457.7h5.1v5.1h-5.1zM627.2 457.7h5.1v5.1h-5.1zM632.1 457.7h5.1v5.1h-5.1zM637.0 457.7h5.1v5.1h-5.1zM641.9 457.7h5.1v5.1h-5.1zM646.8 457.7h5.1v5.1h-5.1zM617.4 452.8h5.1v5.1h-5.1zM656.6 452.8h5.1v5.1h-5.1zM661.5 452.8h5.1v5.1h-5.1zM681.0 443.0h5.1v5.1h-5.1zM607.6 438.1h5.1v5.1h-5.1zM690.8 438.1h5.1v5.1h-5.1zM602.8 433.3h5.1v5.1h-5.1zM695.7 433.3h5.1v5.1h-5.1zM602.8 428.4h5.1v5.1h-5.1zM700.6 428.4h5.1v5.1h-5.1zM705.5 423.5h5.1v5.1h-5.1zM715.3 408.8h5.1v5.1h-5.1zM720.2 403.9h5.1v5.1h-5.1zM720.2 399.0h5.1v5.1h-5.1zM720.2 394.2h5.1v5.1h-5.1zM725.1 389.3h5.1v5.1h-5.1zM725.1 384.4h5.1v5.1h-5.1zM729.9 374.6h5.1v5.1h-5.1zM729.9 369.7h5.1v5.1h-5.1zM734.8 359.9h5.1v5.1h-5.1zM734.8 350.2h5.1v5.1h-5.1zM734.8 345.3h5.1v5.1h-5.1zM734.8 325.7h5.1v5.1h-5.1zM734.8 320.8h5.1v5.1h-5.1zM734.8 315.9h5.1v5.1h-5.1zM734.8 311.1h5.1v5.1h-5.1zM734.8 301.3h5.1v5.1h-5.1zM734.8 296.4h5.1v5.1h-5.1zM734.8 291.5h5.1v5.1h-5.1zM734.8 286.6h5.1v5.1h-5.1zM734.8 281.7h5.1v5.1h-5.1zM734.8 276.8h5.1v5.1h-5.1zM734.8 272.0h5.1v5.1h-5.1zM729.9 257.3h5.1v5.1h-5.1zM729.9 252.4h5.1v5.1h-5.1zM725.1 242.6h5.1v5.1h-5.1zM725.1 237.7h5.1v5.1h-5.1zM720.2 228.0h5.1v5.1h-5.1zM715.3 218.2h5.1v5.1h-5.1zM710.4 208.4h5.1v5.1h-5.1zM705.5 203.5h5.1v5.1h-5.1zM705.5 198.6h5.1v5.1h-5.1zM700.6 193.7h5.1v5.1h-5.1zM695.7 188.9h5.1v5.1h-5.1zM685.9 184.0h5.1v5.1h-5.1zM690.8 184.0h5.1v5.1h-5.1zM602.8 179.1h5.1v5.1h-5.1zM676.1 179.1h5.1v5.1h-5.1zM681.0 179.1h5.1v5.1h-5.1zM607.6 174.2h5.1v5.1h-5.1zM671.2 174.2h5.1v5.1h-5.1zM676.1 174.2h5.1v5.1h-5.1zM612.5 169.3h5.1v5.1h-5.1zM656.6 169.3h5.1v5.1h-5.1zM661.5 169.3h5.1v5.1h-5.1zM627.2 164.4h5.1v5.1h-5.1zM632.1 164.4h5.1v5.1h-5.1zM637.0 164.4h5.1v5.1h-5.1zM641.9 164.4h5.1v5.1h-5.1zM646.8 164.4h5.1v5.1h-5.1zM651.7 164.4h5.1v5.1h-5.1z"/>
<path fill="#e0ecf3" d="M627.2 462.6h5.1v5.1h-5.1zM632.1 462.6h5.1v5.1h-5.1zM637.0 462.6h5.1v5.1h-5.1zM641.9 462.6h5.1v5.1h-5.1zM646.8 462.6h5.1v5.1h-5.1zM651.7 462.6h5.1v5.1h-5.1zM651.7 457.7h5.1v5.1h-5.1zM656.6 457.7h5.1v5.1h-5.1zM661.5 457.7h5.1v5.1h-5.1zM612.5 452.8h5.1v5.1h-5.1zM666.4 452.8h5.1v5.1h-5.1zM671.2 452.8h5.1v5.1h-5.1zM612.5 447.9h5.1v5.1h-5.1zM676.1 447.9h5.1v5.1h-5.1zM681.0 447.9h5.1v5.1h-5.1zM607.6 443.0h5.1v5.1h-5.1zM685.9 443.0h5.1v5.1h-5.1zM690.8 443.0h5.1v5.1h-5.1zM602.8 438.1h5.1v5.1h-5.1zM695.7 438.1h5.1v5.1h-5.1zM705.5 428.4h5.1v5.1h-5.1zM710.4 423.5h5.1v5.1h-5.1zM710.4 418.6h5.1v5.1h-5.1zM715.3 413.7h5.1v5.1h-5.1zM720.2 408.8h5.1v5.1h-5.1zM725.1 399.0h5.1v5.1h-5.1zM725.1 394.2h5.1v5.1h-5.1zM729.9 389.3h5.1v5.1h-5.1zM729.9 384.4h5.1v5.1h-5.1zM729.9 379.5h5.1v5.1h-5.1zM734.8 369.7h5.1v5.1h-5.1zM734.8 364.8h5.1v5.1h-5.1zM734.8 355.0h5.1v5.1h-5.1zM739.7 350.2h5.1v5.1h-5.1zM739.7 340.4h5.1v5.1h-5.1zM739.7 335.5h5.1v5.1h-5.1zM739.7 330.6h5.1v5.1h-5.1zM739.7 325.7h5.1v5.1h-5.1zM739.7 320.8h5.1v5.1h-5.1zM739.7 315.9h5.1v5.1h-5.1zM739.7 311.1h5.1v5.1h-5.1zM739.7 306.2h5.1v5.1h-5.1zM739.7 301.3h5.1v5.1h-5.1zM739.7 291.5h5.1v5.1h-5.1zM739.7 281.7h5.1v5.1h-5.1zM734.8 267.1h5.1v5.1h-5.1zM734.8 262.2h5.1v5.1h-5.1zM734.8 257.3h5.1v5.1h-5.1zM734.8 252.4h5.1v5.1h-5.1zM729.9 247.5h5.1v5.1h-5.1zM729.9 242.6h5.1v5.1h-5.1zM729.9 237.7h5.1v5.1h-5.1zM725.1 232.8h5.1v5.1h-5.1zM725.1 228.0h5.1v5.1h-5.1zM720.2 223.1h5.1v5.1h-5.1zM720.2 218.2h5.1v5.1h-5.1zM715.3 213.3h5.1v5.1h-5.1zM720.2 213.3h5.1v5.1h-5.1zM715.3 208.4h5.1v5.1h-5.1zM710.4 203.5h5.1v5.1h-5.1zM700.6 188.9h5.1v5.1h-5.1zM685.9 179.1h5.1v5.1h-5.1zM690.8 179.1h5.1v5.1h-5.1zM602.8 174.2h5.1v5.1h-5.1zM681.0 174.2h5.1v5.1h-5.1zM607.6 169.3h5.1v5.1h-5.1zM666.4 169.3h5.1v5.1h-5.1zM671.2 169.3h5.1v5.1h-5.1zM617.4 164.4h5.1v5.1h-5.1zM622.3 164.4h5.1v5.1h-5.1zM656.6 164.4h5.1v5.1h-5.1zM661.5 164.4h5.1v5.1h-5.1zM622.3 159.5h5.1v5.1h-5.1zM627.2 159.5h5.1v5.1h-5.1zM632.1 159.5h5.1v5.1h-5.1zM637.0 159.5h5.1v5.1h-5.1zM641.9 159.5h5.1v5.1h-5.1z"/>
<path fill="#e1edf3" d="M627.2 467.5h5.1v5.1h-5.1zM637.0 467.5h5.1v5.1h-5.1zM646.8 467.5h5.1v5.1h-5.1zM617.4 462.6h5.1v5.1h-5.1zM622.3 462.6h5.1v5.1h-5.1zM656.6 462.6h5.1v5.1h-5.1zM661.5 462.6h5.1v5.1h-5.1zM666.4 462.6h5.1v5.1h-5.1zM617.4 457.7h5.1v5.1h-5.1zM666.4 457.7h5.1v5.1h-5.1zM671.2 457.7h5.1v5.1h-5.1zM676.1 452.8h5.1v5.1h-5.1zM681.0 452.8h5.1v5.1h-5.1zM607.6 447.9h5.1v5.1h-5.1zM685.9 447.9h5.1v5.1h-5.1zM695.7 443.0h5.1v5.1h-5.1zM700.6 438.1h5.1v5.1h-5.1zM700.6 433.3h5.1v5.1h-5.1zM705.5 433.3h5.1v5.1h-5.1zM710.4 428.4h5.1v5.1h-5.1zM715.3 418.6h5.1v5.1h-5.1zM720.2 413.7h5.1v5.1h-5.1zM725.1 403.9h5.1v5.1h-5.1zM734.8 389.3h5.1v5.1h-5.1zM734.8 379.5h5.1v5.1h-5.1zM734.8 374.6h5.1v5.1h-5.1zM739.7 364.8h5.1v5.1h-5.1zM739.7 359.9h5.1v5.1h-5.1zM739.7 355.0h5.1v5.1h-5.1zM739.7 345.3h5.1v5.1h-5.1zM744.6 325.7h5.1v5.1h-5.1zM744.6 311.1h5.1v5.1h-5.1zM744.6 306.2h5.1v5.1h-5.1zM739.7 296.4h5.1v5.1h-5.1zM739.7 286.6h5.1v5.1h-5.1zM739.7 276.8h5.1v5.1h-5.1zM739.7 272.0h5.1v5.1h-5.1zM739.7 267.1h5.1v5.1h-5.1zM739.7 262.2h5.1v5.1h-5.1zM734.8 247.5h5.1v5.1h-5.1zM729.9 232.8h5.1v5.1h-5.1zM725.1 223.1h5.1v5.1h-5.1zM725.1 218.2h5.1v5.1h-5.1zM715.3 203.5h5.1v5.1h-5.1zM710.4 198.6h5.1v5.1h-5.1zM705.5 193.7h5.1v5.1h-5.1zM705.5 188.9h5.1v5.1h-5.1zM695.7 184.0h5.1v5.1h-5.1zM700.6 184.0h5.1v5.1h-5.1zM685.9 174.2h5.1v5.1h-5.1zM602.8 169.3h5.1v5.1h-5.1zM676.1 169.3h5.1v5.1h-5.1zM681.0 169.3h5.1v5.1h-5.1zM612.5 164.4h5.1v5.1h-5.1zM666.4 164.4h5.1v5.1h-5.1zM671.2 164.4h5.1v5.1h-5.1zM612.5 159.5h5.1v5.1h-5.1zM617.4 159.5h5.1v5.1h-5.1zM646.8 159.5h5.1v5.1h-5.1zM651.7 159.5h5.1v5.1h-5.1zM627.2 154.6h5.1v5.1h-5.1zM637.0 154.6h5.1v5.1h-5.1zM646.8 154.6h5.1v5.1h-5.1z"/>
<path fill="#e4eef4" d="M622.3 467.5h5.1v5.1h-5.1zM632.1 467.5h5.1v5.1h-5.1zM641.9 467.5h5.1v5.1h-5.1zM651.7 467.5h5.1v5.1h-5.1zM656.6 467.5h5.1v5.1h-5.1zM612.5 457.7h5.1v5.1h-5.1zM676.1 457.7h5.1v5.1h-5.1zM681.0 457.7h5.1v5.1h-5.1zM607.6 452.8h5.1v5.1h-5.1zM685.9 452.8h5.1v5.1h-5.1zM602.8 447.9h5.1v5.1h-5.1zM690.8 447.9h5.1v5.1h-5.1zM695.7 447.9h5.1v5.1h-5.1zM602.8 443.0h5.1v5.1h-5.1zM700.6 443.0h5.1v5.1h-5.1zM705.5 438.1h5.1v5.1h-5.1zM710.4 433.3h5.1v5.1h-5.1zM715.3 428.4h5.1v5.1h-5.1zM715.3 423.5h5.1v5.1h-5.1zM720.2 423.5h5.1v5.1h-5.1zM720.2 418.6h5.1v5.1h-5.1zM725.1 408.8h5.1v5.1h-5.1zM729.9 399.0h5.1v5.1h-5.1zM729.9 394.2h5.1v5.1h-5.1zM734.8 384.4h5.1v5.1h-5.1zM739.7 374.6h5.1v5.1h-5.1zM739.7 369.7h5.1v5.1h-5.1zM744.6 355.0h5.1v5.1h-5.1zM744.6 345.3h5.1v5.1h-5.1zM744.6 340.4h5.1v5.1h-5.1zM744.6 335.5h5.1v5.1h-5.1zM744.6 330.6h5.1v5.1h-5.1zM744.6 320.8h5.1v5.1h-5.1zM744.6 315.9h5.1v5.1h-5.1zM744.6 301.3h5.1v5.1h-5.1zM744.6 296.4h5.1v5.1h-5.1zM744.6 291.5h5.1v5.1h-5.1zM744.6 286.6h5.1v5.1h-5.1zM744.6 281.7h5.1v5.1h-5.1zM744.6 272.0h5.1v5.1h-5.1zM739.7 257.3h5.1v5.1h-5.1zM739.7 252.4h5.1v5.1h-5.1zM734.8 242.6h5.1v5.1h-5.1zM734.8 237.7h5.1v5.1h-5.1zM729.9 228.0h5.1v5.1h-5.1zM729.9 223.1h5.1v5.1h-5.1zM725.1 213.3h5.1v5.1h-5.1zM720.2 208.4h5.1v5.1h-5.1zM720.2 203.5h5.1v5.1h-5.1zM715.3 198.6h5.1v5.1h-5.1zM710.4 193.7h5.1v5.1h-5.1zM715.3 193.7h5.1v5.1h-5.1zM710.4 188.9h5.1v5.1h-5.1zM705.5 184.0h5.1v5.1h-5.1zM695.7 179.1h5.1v5.1h-5.1zM700.6 179.1h5.1v5.1h-5.1zM690.8 174.2h5.1v5.1h-5.1zM695.7 174.2h5.1v5.1h-5.1zM685.9 169.3h5.1v5.1h-5.1zM690.8 169.3h5.1v5.1h-5.1zM602.8 164.4h5.1v5.1h-5.1zM607.6 164.4h5.1v5.1h-5.1zM676.1 164.4h5.1v5.1h-5.1zM681.0 164.4h5.1v5.1h-5.1zM607.6 159.5h5.1v5.1h-5.1zM656.6 159.5h5.1v5.1h-5.1zM661.5 159.5h5.1v5.1h-5.1zM666.4 159.5h5.1v5.1h-5.1zM671.2 159.5h5.1v5.1h-5.1zM617.4 154.6h5.1v5.1h-5.1zM622.3 154.6h5.1v5.1h-5.1zM632.1 154.6h5.1v5.1h-5.1zM641.9 154.6h5.1v5.1h-5.1zM651.7 154.6h5.1v5.1h-5.1zM656.6 154.6h5.1v5.1h-5.1zM661.5 154.6h5.1v5.1h-5.1zM627.2 149.8h5.1v5.1h-5.1zM632.1 149.8h5.1v5.1h-5.1z"/>
<path fill="#e6eff4" d="M622.3 472.4h5.1v5.1h-5.1zM627.2 472.4h5.1v5.1h-5.1zM632.1 472.4h5.1v5.1h-5.1zM637.0 472.4h5.1v5.1h-5.1zM646.8 472.4h5.1v5.1h-5.1zM656.6 472.4h5.1v5.1h-5.1zM661.5 472.4h5.1v5.1h-5.1zM617.4 467.5h5.1v5.1h-5.1zM661.5 467.5h5.1v5.1h-5.1zM666.4 467.5h5.1v5.1h-5.1zM671.2 467.5h5.1v5.1h-5.1zM612.5 462.6h5.1v5.1h-5.1zM671.2 462.6h5.1v5.1h-5.1zM676.1 462.6h5.1v5.1h-5.1zM607.6 457.7h5.1v5.1h-5.1zM685.9 457.7h5.1v5.1h-5.1zM602.8 452.8h5.1v5.1h-5.1zM690.8 452.8h5.1v5.1h-5.1zM695.7 452.8h5.1v5.1h-5.1zM700.6 447.9h5.1v5.1h-5.1zM705.5 443.0h5.1v5.1h-5.1zM710.4 438.1h5.1v5.1h-5.1zM715.3 433.3h5.1v5.1h-5.1zM720.2 428.4h5.1v5.1h-5.1zM725.1 423.5h5.1v5.1h-5.1zM725.1 418.6h5.1v5.1h-5.1zM725.1 413.7h5.1v5.1h-5.1zM729.9 413.7h5.1v5.1h-5.1zM729.9 408.8h5.1v5.1h-5.1zM729.9 403.9h5.1v5.1h-5.1zM734.8 403.9h5.1v5.1h-5.1zM734.8 399.0h5.1v5.1h-5.1zM734.8 394.2h5.1v5.1h-5.1zM739.7 389.3h5.1v5.1h-5.1zM739.7 384.4h5.1v5.1h-5.1zM739.7 379.5h5.1v5.1h-5.1zM744.6 369.7h5.1v5.1h-5.1zM744.6 364.8h5.1v5.1h-5.1zM744.6 359.9h5.1v5.1h-5.1zM744.6 350.2h5.1v5.1h-5.1zM749.5 345.3h5.1v5.1h-5.1zM749.5 340.4h5.1v5.1h-5.1zM749.5 335.5h5.1v5.1h-5.1zM749.5 330.6h5.1v5.1h-5.1zM749.5 325.7h5.1v5.1h-5.1zM749.5 320.8h5.1v5.1h-5.1zM749.5 315.9h5.1v5.1h-5.1zM749.5 311.1h5.1v5.1h-5.1zM749.5 306.2h5.1v5.1h-5.1zM749.5 301.3h5.1v5.1h-5.1zM749.5 291.5h5.1v5.1h-5.1zM744.6 276.8h5.1v5.1h-5.1zM744.6 267.1h5.1v5.1h-5.1zM744.6 262.2h5.1v5.1h-5.1zM744.6 257.3h5.1v5.1h-5.1zM744.6 252.4h5.1v5.1h-5.1zM739.7 247.5h5.1v5.1h-5.1zM739.7 242.6h5.1v5.1h-5.1zM744.6 242.6h5.1v5.1h-5.1zM739.7 237.7h5.1v5.1h-5.1zM734.8 232.8h5.1v5.1h-5.1zM734.8 228.0h5.1v5.1h-5.1zM734.8 223.1h5.1v5.1h-5.1zM729.9 218.2h5.1v5.1h-5.1zM734.8 218.2h5.1v5.1h-5.1zM729.9 213.3h5.1v5.1h-5.1zM725.1 208.4h5.1v5.1h-5.1zM725.1 203.5h5.1v5.1h-5.1zM720.2 198.6h5.1v5.1h-5.1zM715.3 188.9h5.1v5.1h-5.1zM710.4 184.0h5.1v5.1h-5.1zM705.5 179.1h5.1v5.1h-5.1zM705.5 174.2h5.1v5.1h-5.1zM695.7 169.3h5.1v5.1h-5.1zM685.9 164.4h5.1v5.1h-5.1zM690.8 164.4h5.1v5.1h-5.1zM602.8 159.5h5.1v5.1h-5.1zM676.1 159.5h5.1v5.1h-5.1zM607.6 154.6h5.1v5.1h-5.1zM612.5 154.6h5.1v5.1h-5.1zM666.4 154.6h5.1v5.1h-5.1zM671.2 154.6h5.1v5.1h-5.1zM676.1 154.6h5.1v5.1h-5.1zM612.5 149.8h5.1v5.1h-5.1zM622.3 149.8h5.1v5.1h-5.1zM637.0 149.8h5.1v5.1h-5.1zM641.9 149.8h5.1v5.1h-5.1zM646.8 149.8h5.1v5.1h-5.1zM651.7 149.8h5.1v5.1h-5.1zM656.6 149.8h5.1v5.1h-5.1zM666.4 149.8h5.1v5.1h-5.1zM641.9 144.9h5.1v5.1h-5.1z"/>
<path fill="#e7f0f4" d="M622.3 477.2h5.1v5.1h-5.1zM627.2 477.2h5.1v5.1h-5.1zM632.1 477.2h5.1v5.1h-5.1zM637.0 477.2h5.1v5.1h-5.1zM641.9 477.2h5.1v5.1h-5.1zM646.8 477.2h5.1v5.1h-5.1zM617.4 472.4h5.1v5.1h-5.1zM641.9 472.4h5.1v5.1h-5.1zM651.7 472.4h5.1v5.1h-5.1zM666.4 472.4h5.1v5.1h-5.1zM607.6 467.5h5.1v5.1h-5.1zM612.5 467.5h5.1v5.1h-5.1zM676.1 467.5h5.1v5.1h-5.1zM607.6 462.6h5.1v5.1h-5.1zM681.0 462.6h5.1v5.1h-5.1zM685.9 462.6h5.1v5.1h-5.1zM602.8 457.7h5.1v5.1h-5.1zM690.8 457.7h5.1v5.1h-5.1zM700.6 452.8h5.1v5.1h-5.1zM705.5 447.9h5.1v5.1h-5.1zM710.4 447.9h5.1v5.1h-5.1zM710.4 443.0h5.1v5.1h-5.1zM715.3 438.1h5.1v5.1h-5.1zM720.2 433.3h5.1v5.1h-5.1zM725.1 428.4h5.1v5.1h-5.1zM729.9 418.6h5.1v5.1h-5.1zM734.8 413.7h5.1v5.1h-5.1zM739.7 399.0h5.1v5.1h-5.1zM739.7 394.2h5.1v5.1h-5.1zM744.6 379.5h5.1v5.1h-5.1zM744.6 374.6h5.1v5.1h-5.1zM749.5 369.7h5.1v5.1h-5.1zM749.5 364.8h5.1v5.1h-5.1zM749.5 355.0h5.1v5.1h-5.1zM749.5 350.2h5.1v5.1h-5.1zM754.4 330.6h5.1v5.1h-5.1zM754.4 325.7h5.1v5.1h-5.1zM754.4 315.9h5.1v5.1h-5.1zM749.5 296.4h5.1v5.1h-5.1zM749.5 286.6h5.1v5.1h-5.1zM749.5 281.7h5.1v5.1h-5.1zM749.5 276.8h5.1v5.1h-5.1zM749.5 272.0h5.1v5.1h-5.1zM749.5 267.1h5.1v5.1h-5.1zM749.5 262.2h5.1v5.1h-5.1zM744.6 247.5h5.1v5.1h-5.1zM744.6 237.7h5.1v5.1h-5.1zM739.7 232.8h5.1v5.1h-5.1zM739.7 228.0h5.1v5.1h-5.1zM729.9 208.4h5.1v5.1h-5.1zM734.8 208.4h5.1v5.1h-5.1zM729.9 203.5h5.1v5.1h-5.1zM725.1 198.6h5.1v5.1h-5.1zM720.2 193.7h5.1v5.1h-5.1zM725.1 193.7h5.1v5.1h-5.1zM720.2 188.9h5.1v5.1h-5.1zM715.3 184.0h5.1v5.1h-5.1zM710.4 179.1h5.1v5.1h-5.1zM700.6 174.2h5.1v5.1h-5.1zM700.6 169.3h5.1v5.1h-5.1zM695.7 164.4h5.1v5.1h-5.1zM681.0 159.5h5.1v5.1h-5.1zM685.9 159.5h5.1v5.1h-5.1zM690.8 159.5h5.1v5.1h-5.1zM602.8 154.6h5.1v5.1h-5.1zM607.6 149.8h5.1v5.1h-5.1zM617.4 149.8h5.1v5.1h-5.1zM661.5 149.8h5.1v5.1h-5.1zM671.2 149.8h5.1v5.1h-5.1zM612.5 144.9h5.1v5.1h-5.1zM617.4 144.9h5.1v5.1h-5.1zM627.2 144.9h5.1v5.1h-5.1zM632.1 144.9h5.1v5.1h-5.1zM637.0 144.9h5.1v5.1h-5.1zM646.8 144.9h5.1v5.1h-5.1zM651.7 144.9h5.1v5.1h-5.1zM656.6 144.9h5.1v5.1h-5.1z"/>
<path fill="#eaf1f5" d="M622.3 482.1h5.1v5.1h-5.1zM627.2 482.1h5.1v5.1h-5.1zM632.1 482.1h5.1v5.1h-5.1zM637.0 482.1h5.1v5.1h-5.1zM641.9 482.1h5.1v5.1h-5.1zM646.8 482.1h5.1v5.1h-5.1zM617.4 477.2h5.1v5.1h-5.1zM651.7 477.2h5.1v5.1h-5.1zM656.6 477.2h5.1v5.1h-5.1zM661.5 477.2h5.1v5.1h-5.1zM612.5 472.4h5.1v5.1h-5.1zM671.2 472.4h5.1v5.1h-5.1zM676.1 472.4h5.1v5.1h-5.1zM681.0 467.5h5.1v5.1h-5.1zM685.9 467.5h5.1v5.1h-5.1zM602.8 462.6h5.1v5.1h-5.1zM690.8 462.6h5.1v5.1h-5.1zM695.7 462.6h5.1v5.1h-5.1zM695.7 457.7h5.1v5.1h-5.1zM700.6 457.7h5.1v5.1h-5.1zM705.5 452.8h5.1v5.1h-5.1zM715.3 443.0h5.1v5.1h-5.1zM720.2 438.1h5.1v5.1h-5.1zM725.1 433.3h5.1v5.1h-5.1zM729.9 423.5h5.1v5.1h-5.1zM739.7 413.7h5.1v5.1h-5.1zM734.8 408.8h5.1v5.1h-5.1zM739.7 408.8h5.1v5.1h-5.1zM739.7 403.9h5.1v5.1h-5.1zM744.6 394.2h5.1v5.1h-5.1zM744.6 389.3h5.1v5.1h-5.1zM744.6 384.4h5.1v5.1h-5.1zM749.5 384.4h5.1v5.1h-5.1zM749.5 379.5h5.1v5.1h-5.1zM749.5 374.6h5.1v5.1h-5.1zM749.5 359.9h5.1v5.1h-5.1zM754.4 359.9h5.1v5.1h-5.1zM754.4 355.0h5.1v5.1h-5.1zM754.4 345.3h5.1v5.1h-5.1zM754.4 340.4h5.1v5.1h-5.1zM754.4 335.5h5.1v5.1h-5.1zM754.4 320.8h5.1v5.1h-5.1zM754.4 311.1h5.1v5.1h-5.1zM759.3 311.1h5.1v5.1h-5.1zM754.4 306.2h5.1v5.1h-5.1zM754.4 301.3h5.1v5.1h-5.1zM759.3 301.3h5.1v5.1h-5.1zM754.4 296.4h5.1v5.1h-5.1zM754.4 291.5h5.1v5.1h-5.1zM754.4 286.6h5.1v5.1h-5.1zM754.4 281.7h5.1v5.1h-5.1zM754.4 276.8h5.1v5.1h-5.1zM754.4 272.0h5.1v5.1h-5.1zM749.5 257.3h5.1v5.1h-5.1zM749.5 252.4h5.1v5.1h-5.1zM749.5 247.5h5.1v5.1h-5.1zM749.5 242.6h5.1v5.1h-5.1zM744.6 232.8h5.1v5.1h-5.1zM744.6 228.0h5.1v5.1h-5.1zM739.7 223.1h5.1v5.1h-5.1zM739.7 218.2h5.1v5.1h-5.1zM734.8 213.3h5.1v5.1h-5.1zM739.7 213.3h5.1v5.1h-5.1zM734.8 203.5h5.1v5.1h-5.1zM729.9 198.6h5.1v5.1h-5.1zM729.9 193.7h5.1v5.1h-5.1zM725.1 188.9h5.1v5.1h-5.1zM720.2 184.0h5.1v5.1h-5.1zM715.3 179.1h5.1v5.1h-5.1zM710.4 174.2h5.1v5.1h-5.1zM715.3 174.2h5.1v5.1h-5.1zM705.5 169.3h5.1v5.1h-5.1zM700.6 164.4h5.1v5.1h-5.1zM705.5 164.4h5.1v5.1h-5.1zM695.7 159.5h5.1v5.1h-5.1zM681.0 154.6h5.1v5.1h-5.1zM685.9 154.6h5.1v5.1h-5.1zM690.8 154.6h5.1v5.1h-5.1zM602.8 149.8h5.1v5.1h-5.1zM676.1 149.8h5.1v5.1h-5.1zM681.0 149.8h5.1v5.1h-5.1zM607.6 144.9h5.1v5.1h-5.1zM622.3 144.9h5.1v5.1h-5.1zM661.5 144.9h5.1v5.1h-5.1zM666.4 144.9h5.1v5.1h-5.1zM671.2 144.9h5.1v5.1h-5.1zM676.1 144.9h5.1v5.1h-5.1zM617.4 140.0h5.1v5.1h-5.1zM622.3 140.0h5.1v5.1h-5.1zM627.2 140.0h5.1v5.1h-5.1zM632.1 140.0h5.1v5.1h-5.1zM637.0 140.0h5.1v5.1h-5.1zM641.9 140.0h5.1v5.1h-5.1zM646.8 140.0h5.1v5.1h-5.1zM651.7 140.0h5.1v5.1h-5.1zM656.6 140.0h5.1v5.1h-5.1z"/>
<path fill="#ecf2f5" d="M622.3 487.0h5.1v5.1h-5.1zM627.2 487.0h5.1v5.1h-5.1zM632.1 487.0h5.1v5.1h-5.1zM637.0 487.0h5.1v5.1h-5.1zM641.9 487.0h5.1v5.1h-5.1zM646.8 487.0h5.1v5.1h-5.1zM651.7 487.0h5.1v5.1h-5.1zM617.4 482.1h5.1v5.1h-5.1zM651.7 482.1h5.1v5.1h-5.1zM656.6 482.1h5.1v5.1h-5.1zM661.5 482.1h5.1v5.1h-5.1zM666.4 482.1h5.1v5.1h-5.1zM671.2 482.1h5.1v5.1h-5.1zM607.6 477.2h5.1v5.1h-5.1zM612.5 477.2h5.1v5.1h-5.1zM666.4 477.2h5.1v5.1h-5.1zM671.2 477.2h5.1v5.1h-5.1zM676.1 477.2h5.1v5.1h-5.1zM602.8 472.4h5.1v5.1h-5.1zM607.6 472.4h5.1v5.1h-5.1zM681.0 472.4h5.1v5.1h-5.1zM685.9 472.4h5.1v5.1h-5.1zM690.8 472.4h5.1v5.1h-5.1zM602.8 467.5h5.1v5.1h-5.1zM690.8 467.5h5.1v5.1h-5.1zM695.7 467.5h5.1v5.1h-5.1zM700.6 462.6h5.1v5.1h-5.1zM705.5 462.6h5.1v5.1h-5.1zM705.5 457.7h5.1v5.1h-5.1zM710.4 457.7h5.1v5.1h-5.1zM710.4 452.8h5.1v5.1h-5.1zM715.3 447.9h5.1v5.1h-5.1zM720.2 443.0h5.1v5.1h-5.1zM725.1 443.0h5.1v5.1h-5.1zM725.1 438.1h5.1v5.1h-5.1zM729.9 433.3h5.1v5.1h-5.1zM729.9 428.4h5.1v5.1h-5.1zM734.8 423.5h5.1v5.1h-5.1zM734.8 418.6h5.1v5.1h-5.1zM739.7 418.6h5.1v5.1h-5.1zM744.6 403.9h5.1v5.1h-5.1zM744.6 399.0h5.1v5.1h-5.1zM749.5 394.2h5.1v5.1h-5.1zM749.5 389.3h5.1v5.1h-5.1zM754.4 379.5h5.1v5.1h-5.1zM754.4 374.6h5.1v5.1h-5.1zM754.4 369.7h5.1v5.1h-5.1zM754.4 364.8h5.1v5.1h-5.1zM759.3 355.0h5.1v5.1h-5.1zM754.4 350.2h5.1v5.1h-5.1zM759.3 345.3h5.1v5.1h-5.1zM759.3 340.4h5.1v5.1h-5.1zM759.3 335.5h5.1v5.1h-5.1zM759.3 330.6h5.1v5.1h-5.1zM759.3 325.7h5.1v5.1h-5.1zM759.3 320.8h5.1v5.1h-5.1zM759.3 315.9h5.1v5.1h-5.1zM759.3 306.2h5.1v5.1h-5.1zM759.3 291.5h5.1v5.1h-5.1zM759.3 286.6h5.1v5.1h-5.1zM759.3 281.7h5.1v5.1h-5.1zM759.3 276.8h5.1v5.1h-5.1zM754.4 267.1h5.1v5.1h-5.1zM759.3 267.1h5.1v5.1h-5.1zM754.4 262.2h5.1v5.1h-5.1zM759.3 262.2h5.1v5.1h-5.1zM754.4 257.3h5.1v5.1h-5.1zM754.4 247.5h5.1v5.1h-5.1zM749.5 237.7h5.1v5.1h-5.1zM749.5 232.8h5.1v5.1h-5.1zM749.5 228.0h5.1v5.1h-5.1zM744.6 223.1h5.1v5.1h-5.1zM749.5 223.1h5.1v5.1h-5.1zM744.6 213.3h5.1v5.1h-5.1zM739.7 208.4h5.1v5.1h-5.1zM734.8 198.6h5.1v5.1h-5.1zM729.9 188.9h5.1v5.1h-5.1zM734.8 188.9h5.1v5.1h-5.1zM725.1 184.0h5.1v5.1h-5.1zM729.9 184.0h5.1v5.1h-5.1zM720.2 179.1h5.1v5.1h-5.1zM725.1 179.1h5.1v5.1h-5.1zM720.2 174.2h5.1v5.1h-5.1zM710.4 169.3h5.1v5.1h-5.1zM715.3 169.3h5.1v5.1h-5.1zM700.6 159.5h5.1v5.1h-5.1zM705.5 159.5h5.1v5.1h-5.1zM695.7 154.6h5.1v5.1h-5.1zM685.9 149.8h5.1v5.1h-5.1zM690.8 149.8h5.1v5.1h-5.1zM695.7 149.8h5.1v5.1h-5.1zM607.6 140.0h5.1v5.1h-5.1zM612.5 140.0h5.1v5.1h-5.1zM661.5 140.0h5.1v5.1h-5.1zM666.4 140.0h5.1v5.1h-5.1zM671.2 140.0h5.1v5.1h-5.1zM612.5 135.1h5.1v5.1h-5.1zM617.4 135.1h5.1v5.1h-5.1zM622.3 135.1h5.1v5.1h-5.1zM627.2 135.1h5.1v5.1h-5.1zM632.1 135.1h5.1v5.1h-5.1zM637.0 135.1h5.1v5.1h-5.1zM641.9 135.1h5.1v5.1h-5.1zM646.8 135.1h5.1v5.1h-5.1zM651.7 135.1h5.1v5.1h-5.1zM656.6 135.1h5.1v5.1h-5.1zM661.5 135.1h5.1v5.1h-5.1zM666.4 135.1h5.1v5.1h-5.1z"/>
<path fill="#edf2f5" d="M627.2 491.9h5.1v5.1h-5.1zM637.0 491.9h5.1v5.1h-5.1zM641.9 491.9h5.1v5.1h-5.1zM646.8 491.9h5.1v5.1h-5.1zM651.7 491.9h5.1v5.1h-5.1zM666.4 491.9h5.1v5.1h-5.1zM617.4 487.0h5.1v5.1h-5.1zM656.6 487.0h5.1v5.1h-5.1zM661.5 487.0h5.1v5.1h-5.1zM666.4 487.0h5.1v5.1h-5.1zM676.1 487.0h5.1v5.1h-5.1zM607.6 482.1h5.1v5.1h-5.1zM612.5 482.1h5.1v5.1h-5.1zM676.1 482.1h5.1v5.1h-5.1zM681.0 482.1h5.1v5.1h-5.1zM681.0 477.2h5.1v5.1h-5.1zM685.9 477.2h5.1v5.1h-5.1zM690.8 477.2h5.1v5.1h-5.1zM695.7 472.4h5.1v5.1h-5.1zM700.6 467.5h5.1v5.1h-5.1zM715.3 457.7h5.1v5.1h-5.1zM715.3 452.8h5.1v5.1h-5.1zM720.2 452.8h5.1v5.1h-5.1zM720.2 447.9h5.1v5.1h-5.1zM725.1 447.9h5.1v5.1h-5.1zM729.9 438.1h5.1v5.1h-5.1zM734.8 433.3h5.1v5.1h-5.1zM739.7 433.3h5.1v5.1h-5.1zM734.8 428.4h5.1v5.1h-5.1zM739.7 428.4h5.1v5.1h-5.1zM739.7 423.5h5.1v5.1h-5.1zM744.6 418.6h5.1v5.1h-5.1zM744.6 413.7h5.1v5.1h-5.1zM749.5 413.7h5.1v5.1h-5.1zM744.6 408.8h5.1v5.1h-5.1zM749.5 408.8h5.1v5.1h-5.1zM749.5 403.9h5.1v5.1h-5.1zM749.5 399.0h5.1v5.1h-5.1zM754.4 389.3h5.1v5.1h-5.1zM754.4 384.4h5.1v5.1h-5.1zM759.3 379.5h5.1v5.1h-5.1zM759.3 374.6h5.1v5.1h-5.1zM759.3 369.7h5.1v5.1h-5.1zM759.3 364.8h5.1v5.1h-5.1zM759.3 359.9h5.1v5.1h-5.1zM764.2 355.0h5.1v5.1h-5.1zM759.3 350.2h5.1v5.1h-5.1zM764.2 335.5h5.1v5.1h-5.1zM764.2 330.6h5.1v5.1h-5.1zM764.2 325.7h5.1v5.1h-5.1zM764.2 320.8h5.1v5.1h-5.1zM764.2 315.9h5.1v5.1h-5.1zM764.2 311.1h5.1v5.1h-5.1zM764.2 301.3h5.1v5.1h-5.1zM759.3 296.4h5.1v5.1h-5.1zM764.2 296.4h5.1v5.1h-5.1zM764.2 286.6h5.1v5.1h-5.1zM764.2 276.8h5.1v5.1h-5.1zM759.3 272.0h5.1v5.1h-5.1zM759.3 257.3h5.1v5.1h-5.1zM754.4 252.4h5.1v5.1h-5.1zM759.3 252.4h5.1v5.1h-5.1zM759.3 247.5h5.1v5.1h-5.1zM754.4 242.6h5.1v5.1h-5.1zM754.4 237.7h5.1v5.1h-5.1zM744.6 218.2h5.1v5.1h-5.1zM749.5 218.2h5.1v5.1h-5.1zM749.5 213.3h5.1v5.1h-5.1zM739.7 203.5h5.1v5.1h-5.1zM739.7 198.6h5.1v5.1h-5.1zM744.6 198.6h5.1v5.1h-5.1zM734.8 193.7h5.1v5.1h-5.1zM739.7 193.7h5.1v5.1h-5.1zM725.1 174.2h5.1v5.1h-5.1zM720.2 169.3h5.1v5.1h-5.1zM710.4 164.4h5.1v5.1h-5.1zM715.3 164.4h5.1v5.1h-5.1zM710.4 159.5h5.1v5.1h-5.1zM700.6 154.6h5.1v5.1h-5.1zM705.5 154.6h5.1v5.1h-5.1zM710.4 154.6h5.1v5.1h-5.1zM700.6 149.8h5.1v5.1h-5.1zM602.8 144.9h5.1v5.1h-5.1zM681.0 144.9h5.1v5.1h-5.1zM685.9 144.9h5.1v5.1h-5.1zM690.8 144.9h5.1v5.1h-5.1zM602.8 140.0h5.1v5.1h-5.1zM676.1 140.0h5.1v5.1h-5.1zM681.0 140.0h5.1v5.1h-5.1zM690.8 140.0h5.1v5.1h-5.1zM607.6 135.1h5.1v5.1h-5.1zM671.2 135.1h5.1v5.1h-5.1zM676.1 135.1h5.1v5.1h-5.1zM617.4 130.2h5.1v5.1h-5.1zM622.3 130.2h5.1v5.1h-5.1zM627.2 130.2h5.1v5.1h-5.1zM637.0 130.2h5.1v5.1h-5.1zM641.9 130.2h5.1v5.1h-5.1zM646.8 130.2h5.1v5.1h-5.1zM651.7 130.2h5.1v5.1h-5.1zM632.1 125.3h5.1v5.1h-5.1zM641.9 125.3h5.1v5.1h-5.1z"/>
<path fill="#eff3f5" d="M637.0 501.7h5.1v5.1h-5.1zM617.4 496.8h5.1v5.1h-5.1zM622.3 496.8h5.1v5.1h-5.1zM627.2 496.8h5.1v5.1h-5.1zM632.1 496.8h5.1v5.1h-5.1zM637.0 496.8h5.1v5.1h-5.1zM641.9 496.8h5.1v5.1h-5.1zM646.8 496.8h5.1v5.1h-5.1zM651.7 496.8h5.1v5.1h-5.1zM607.6 491.9h5.1v5.1h-5.1zM617.4 491.9h5.1v5.1h-5.1zM622.3 491.9h5.1v5.1h-5.1zM632.1 491.9h5.1v5.1h-5.1zM656.6 491.9h5.1v5.1h-5.1zM661.5 491.9h5.1v5.1h-5.1zM671.2 491.9h5.1v5.1h-5.1zM676.1 491.9h5.1v5.1h-5.1zM681.0 491.9h5.1v5.1h-5.1zM607.6 487.0h5.1v5.1h-5.1zM612.5 487.0h5.1v5.1h-5.1zM671.2 487.0h5.1v5.1h-5.1zM602.8 482.1h5.1v5.1h-5.1zM685.9 482.1h5.1v5.1h-5.1zM690.8 482.1h5.1v5.1h-5.1zM602.8 477.2h5.1v5.1h-5.1zM695.7 477.2h5.1v5.1h-5.1zM700.6 472.4h5.1v5.1h-5.1zM705.5 472.4h5.1v5.1h-5.1zM710.4 472.4h5.1v5.1h-5.1zM705.5 467.5h5.1v5.1h-5.1zM710.4 467.5h5.1v5.1h-5.1zM710.4 462.6h5.1v5.1h-5.1zM715.3 462.6h5.1v5.1h-5.1zM720.2 457.7h5.1v5.1h-5.1zM725.1 452.8h5.1v5.1h-5.1zM729.9 447.9h5.1v5.1h-5.1zM729.9 443.0h5.1v5.1h-5.1zM734.8 438.1h5.1v5.1h-5.1zM739.7 438.1h5.1v5.1h-5.1zM744.6 428.4h5.1v5.1h-5.1zM744.6 423.5h5.1v5.1h-5.1zM749.5 423.5h5.1v5.1h-5.1zM749.5 418.6h5.1v5.1h-5.1zM754.4 408.8h5.1v5.1h-5.1zM754.4 403.9h5.1v5.1h-5.1zM759.3 403.9h5.1v5.1h-5.1zM754.4 399.0h5.1v5.1h-5.1zM759.3 399.0h5.1v5.1h-5.1zM754.4 394.2h5.1v5.1h-5.1zM759.3 394.2h5.1v5.1h-5.1zM759.3 389.3h5.1v5.1h-5.1zM759.3 384.4h5.1v5.1h-5.1zM764.2 379.5h5.1v5.1h-5.1zM764.2 374.6h5.1v5.1h-5.1zM764.2 369.7h5.1v5.1h-5.1zM764.2 364.8h5.1v5.1h-5.1zM764.2 359.9h5.1v5.1h-5.1zM769.1 359.9h5.1v5.1h-5.1zM769.1 355.0h5.1v5.1h-5.1zM764.2 350.2h5.1v5.1h-5.1zM764.2 345.3h5.1v5.1h-5.1zM769.1 345.3h5.1v5.1h-5.1zM764.2 340.4h5.1v5.1h-5.1zM769.1 340.4h5.1v5.1h-5.1zM769.1 335.5h5.1v5.1h-5.1zM769.1 330.6h5.1v5.1h-5.1zM769.1 325.7h5.1v5.1h-5.1zM769.1 320.8h5.1v5.1h-5.1zM769.1 315.9h5.1v5.1h-5.1zM769.1 311.1h5.1v5.1h-5.1zM764.2 306.2h5.1v5.1h-5.1zM769.1 301.3h5.1v5.1h-5.1zM769.1 296.4h5.1v5.1h-5.1zM764.2 291.5h5.1v5.1h-5.1zM769.1 291.5h5.1v5.1h-5.1zM769.1 286.6h5.1v5.1h-5.1zM764.2 281.7h5.1v5.1h-5.1zM769.1 281.7h5.1v5.1h-5.1zM764.2 272.0h5.1v5.1h-5.1zM769.1 272.0h5.1v5.1h-5.1zM764.2 267.1h5.1v5.1h-5.1zM764.2 262.2h5.1v5.1h-5.1zM764.2 257.3h5.1v5.1h-5.1zM764.2 252.4h5.1v5.1h-5.1zM764.2 247.5h5.1v5.1h-5.1zM759.3 242.6h5.1v5.1h-5.1zM759.3 237.7h5.1v5.1h-5.1zM754.4 232.8h5.1v5.1h-5.1zM759.3 232.8h5.1v5.1h-5.1zM754.4 228.0h5.1v5.1h-5.1zM759.3 228.0h5.1v5.1h-5.1zM754.4 223.1h5.1v5.1h-5.1zM759.3 218.2h5.1v5.1h-5.1zM744.6 208.4h5.1v5.1h-5.1zM749.5 208.4h5.1v5.1h-5.1zM744.6 203.5h5.1v5.1h-5.1zM749.5 203.5h5.1v5.1h-5.1zM749.5 198.6h5.1v5.1h-5.1zM744.6 193.7h5.1v5.1h-5.1zM739.7 188.9h5.1v5.1h-5.1zM734.8 184.0h5.1v5.1h-5.1zM739.7 184.0h5.1v5.1h-5.1zM729.9 179.1h5.1v5.1h-5.1zM734.8 179.1h5.1v5.1h-5.1zM729.9 174.2h5.1v5.1h-5.1zM725.1 169.3h5.1v5.1h-5.1zM720.2 164.4h5.1v5.1h-5.1zM725.1 164.4h5.1v5.1h-5.1zM715.3 159.5h5.1v5.1h-5.1zM705.5 149.8h5.1v5.1h-5.1zM710.4 149.8h5.1v5.1h-5.1zM695.7 144.9h5.1v5.1h-5.1zM700.6 144.9h5.1v5.1h-5.1zM685.9 140.0h5.1v5.1h-5.1zM602.8 135.1h5.1v5.1h-5.1zM681.0 135.1h5.1v5.1h-5.1zM685.9 135.1h5.1v5.1h-5.1zM690.8 135.1h5.1v5.1h-5.1zM695.7 135.1h5.1v5.1h-5.1zM602.8 130.2h5.1v5.1h-5.1zM607.6 130.2h5.1v5.1h-5.1zM612.5 130.2h5.1v5.1h-5.1zM632.1 130.2h5.1v5.1h-5.1zM656.6 130.2h5.1v5.1h-5.1zM661.5 130.2h5.1v5.1h-5.1zM666.4 130.2h5.1v5.1h-5.1zM676.1 130.2h5.1v5.1h-5.1zM681.0 130.2h5.1v5.1h-5.1zM685.9 130.2h5.1v5.1h-5.1zM612.5 125.3h5.1v5.1h-5.1zM617.4 125.3h5.1v5.1h-5.1zM622.3 125.3h5.1v5.1h-5.1zM627.2 125.3h5.1v5.1h-5.1zM637.0 125.3h5.1v5.1h-5.1zM646.8 125.3h5.1v5.1h-5.1zM651.7 125.3h5.1v5.1h-5.1zM656.6 125.3h5.1v5.1h-5.1zM622.3 120.4h5.1v5.1h-5.1zM646.8 120.4h5.1v5.1h-5.1zM651.7 120.4h5.1v5.1h-5.1z"/>
<path fill="#f2f5f6" d="M637.0 506.6h5.1v5.1h-5.1zM646.8 506.6h5.1v5.1h-5.1zM651.7 506.6h5.1v5.1h-5.1zM612.5 501.7h5.1v5.1h-5.1zM617.4 501.7h5.1v5.1h-5.1zM622.3 501.7h5.1v5.1h-5.1zM627.2 501.7h5.1v5.1h-5.1zM632.1 501.7h5.1v5.1h-5.1zM641.9 501.7h5.1v5.1h-5.1zM646.8 501.7h5.1v5.1h-5.1zM651.7 501.7h5.1v5.1h-5.1zM656.6 501.7h5.1v5.1h-5.1zM676.1 501.7h5.1v5.1h-5.1zM681.0 501.7h5.1v5.1h-5.1zM602.8 496.8h5.1v5.1h-5.1zM607.6 496.8h5.1v5.1h-5.1zM612.5 496.8h5.1v5.1h-5.1zM656.6 496.8h5.1v5.1h-5.1zM661.5 496.8h5.1v5.1h-5.1zM666.4 496.8h5.1v5.1h-5.1zM671.2 496.8h5.1v5.1h-5.1zM676.1 496.8h5.1v5.1h-5.1zM681.0 496.8h5.1v5.1h-5.1zM685.9 496.8h5.1v5.1h-5.1zM602.8 491.9h5.1v5.1h-5.1zM612.5 491.9h5.1v5.1h-5.1zM685.9 491.9h5.1v5.1h-5.1zM700.6 491.9h5.1v5.1h-5.1zM602.8 487.0h5.1v5.1h-5.1zM681.0 487.0h5.1v5.1h-5.1zM685.9 487.0h5.1v5.1h-5.1zM690.8 487.0h5.1v5.1h-5.1zM695.7 487.0h5.1v5.1h-5.1zM700.6 487.0h5.1v5.1h-5.1zM695.7 482.1h5.1v5.1h-5.1zM700.6 482.1h5.1v5.1h-5.1zM705.5 482.1h5.1v5.1h-5.1zM710.4 482.1h5.1v5.1h-5.1zM700.6 477.2h5.1v5.1h-5.1zM705.5 477.2h5.1v5.1h-5.1zM710.4 477.2h5.1v5.1h-5.1zM715.3 477.2h5.1v5.1h-5.1zM715.3 472.4h5.1v5.1h-5.1zM715.3 467.5h5.1v5.1h-5.1zM720.2 467.5h5.1v5.1h-5.1zM729.9 467.5h5.1v5.1h-5.1zM720.2 462.6h5.1v5.1h-5.1zM725.1 462.6h5.1v5.1h-5.1zM729.9 462.6h5.1v5.1h-5.1zM725.1 457.7h5.1v5.1h-5.1zM729.9 457.7h5.1v5.1h-5.1zM734.8 457.7h5.1v5.1h-5.1zM729.9 452.8h5.1v5.1h-5.1zM734.8 447.9h5.1v5.1h-5.1zM739.7 447.9h5.1v5.1h-5.1zM734.8 443.0h5.1v5.1h-5.1zM739.7 443.0h5.1v5.1h-5.1zM744.6 443.0h5.1v5.1h-5.1zM744.6 438.1h5.1v5.1h-5.1zM744.6 433.3h5.1v5.1h-5.1zM749.5 433.3h5.1v5.1h-5.1zM754.4 433.3h5.1v5.1h-5.1zM749.5 428.4h5.1v5.1h-5.1zM754.4 428.4h5.1v5.1h-5.1zM754.4 423.5h5.1v5.1h-5.1zM754.4 418.6h5.1v5.1h-5.1zM759.3 418.6h5.1v5.1h-5.1zM754.4 413.7h5.1v5.1h-5.1zM759.3 413.7h5.1v5.1h-5.1zM764.2 403.9h5.1v5.1h-5.1zM764.2 399.0h5.1v5.1h-5.1zM764.2 394.2h5.1v5.1h-5.1zM764.2 389.3h5.1v5.1h-5.1zM764.2 384.4h5.1v5.1h-5.1zM769.1 384.4h5.1v5.1h-5.1zM769.1 379.5h5.1v5.1h-5.1zM769.1 374.6h5.1v5.1h-5.1zM774.0 374.6h5.1v5.1h-5.1zM769.1 369.7h5.1v5.1h-5.1zM774.0 369.7h5.1v5.1h-5.1zM769.1 364.8h5.1v5.1h-5.1zM774.0 364.8h5.1v5.1h-5.1zM774.0 359.9h5.1v5.1h-5.1zM774.0 355.0h5.1v5.1h-5.1zM769.1 350.2h5.1v5.1h-5.1zM774.0 350.2h5.1v5.1h-5.1zM774.0 345.3h5.1v5.1h-5.1zM774.0 335.5h5.1v5.1h-5.1zM778.9 335.5h5.1v5.1h-5.1zM774.0 330.6h5.1v5.1h-5.1zM774.0 325.7h5.1v5.1h-5.1zM774.0 320.8h5.1v5.1h-5.1zM774.0 315.9h5.1v5.1h-5.1zM774.0 311.1h5.1v5.1h-5.1zM769.1 306.2h5.1v5.1h-5.1zM774.0 306.2h5.1v5.1h-5.1zM774.0 301.3h5.1v5.1h-5.1zM774.0 296.4h5.1v5.1h-5.1zM778.9 296.4h5.1v5.1h-5.1zM774.0 291.5h5.1v5.1h-5.1zM774.0 286.6h5.1v5.1h-5.1zM774.0 281.7h5.1v5.1h-5.1zM769.1 276.8h5.1v5.1h-5.1zM774.0 276.8h5.1v5.1h-5.1zM778.9 276.8h5.1v5.1h-5.1zM769.1 267.1h5.1v5.1h-5.1zM774.0 267.1h5.1v5.1h-5.1zM769.1 262.2h5.1v5.1h-5.1zM778.9 262.2h5.1v5.1h-5.1zM769.1 257.3h5.1v5.1h-5.1zM774.0 257.3h5.1v5.1h-5.1zM769.1 252.4h5.1v5.1h-5.1zM774.0 252.4h5.1v5.1h-5.1zM769.1 247.5h5.1v5.1h-5.1zM764.2 242.6h5.1v5.1h-5.1zM769.1 242.6h5.1v5.1h-5.1zM764.2 237.7h5.1v5.1h-5.1zM769.1 237.7h5.1v5.1h-5.1zM764.2 232.8h5.1v5.1h-5.1zM764.2 228.0h5.1v5.1h-5.1zM759.3 223.1h5.1v5.1h-5.1zM764.2 223.1h5.1v5.1h-5.1zM754.4 218.2h5.1v5.1h-5.1zM754.4 213.3h5.1v5.1h-5.1zM759.3 213.3h5.1v5.1h-5.1zM764.2 213.3h5.1v5.1h-5.1zM754.4 208.4h5.1v5.1h-5.1zM759.3 208.4h5.1v5.1h-5.1zM754.4 203.5h5.1v5.1h-5.1zM749.5 193.7h5.1v5.1h-5.1zM754.4 193.7h5.1v5.1h-5.1zM744.6 188.9h5.1v5.1h-5.1zM749.5 188.9h5.1v5.1h-5.1zM744.6 184.0h5.1v5.1h-5.1zM739.7 179.1h5.1v5.1h-5.1zM734.8 174.2h5.1v5.1h-5.1zM739.7 174.2h5.1v5.1h-5.1zM729.9 169.3h5.1v5.1h-5.1zM734.8 169.3h5.1v5.1h-5.1zM739.7 169.3h5.1v5.1h-5.1zM729.9 164.4h5.1v5.1h-5.1zM720.2 159.5h5.1v5.1h-5.1zM725.1 159.5h5.1v5.1h-5.1zM729.9 159.5h5.1v5.1h-5.1zM715.3 154.6h5.1v5.1h-5.1zM720.2 154.6h5.1v5.1h-5.1zM725.1 154.6h5.1v5.1h-5.1zM729.9 154.6h5.1v5.1h-5.1zM715.3 149.8h5.1v5.1h-5.1zM720.2 149.8h5.1v5.1h-5.1zM725.1 149.8h5.1v5.1h-5.1zM705.5 144.9h5.1v5.1h-5.1zM710.4 144.9h5.1v5.1h-5.1zM715.3 144.9h5.1v5.1h-5.1zM720.2 144.9h5.1v5.1h-5.1zM695.7 140.0h5.1v5.1h-5.1zM700.6 140.0h5.1v5.1h-5.1zM705.5 140.0h5.1v5.1h-5.1zM710.4 140.0h5.1v5.1h-5.1zM700.6 135.1h5.1v5.1h-5.1zM705.5 135.1h5.1v5.1h-5.1zM671.2 130.2h5.1v5.1h-5.1zM700.6 130.2h5.1v5.1h-5.1zM602.8 125.3h5.1v5.1h-5.1zM607.6 125.3h5.1v5.1h-5.1zM661.5 125.3h5.1v5.1h-5.1zM666.4 125.3h5.1v5.1h-5.1zM671.2 125.3h5.1v5.1h-5.1zM676.1 125.3h5.1v5.1h-5.1zM681.0 125.3h5.1v5.1h-5.1zM602.8 120.4h5.1v5.1h-5.1zM607.6 120.4h5.1v5.1h-5.1zM612.5 120.4h5.1v5.1h-5.1zM617.4 120.4h5.1v5.1h-5.1zM627.2 120.4h5.1v5.1h-5.1zM632.1 120.4h5.1v5.1h-5.1zM637.0 120.4h5.1v5.1h-5.1zM641.9 120.4h5.1v5.1h-5.1zM656.6 120.4h5.1v5.1h-5.1zM661.5 120.4h5.1v5.1h-5.1zM666.4 120.4h5.1v5.1h-5.1zM671.2 120.4h5.1v5.1h-5.1zM676.1 120.4h5.1v5.1h-5.1zM612.5 115.5h5.1v5.1h-5.1zM617.4 115.5h5.1v5.1h-5.1zM622.3 115.5h5.1v5.1h-5.1zM627.2 115.5h5.1v5.1h-5.1zM632.1 115.5h5.1v5.1h-5.1zM641.9 115.5h5.1v5.1h-5.1zM646.8 115.5h5.1v5.1h-5.1zM651.7 115.5h5.1v5.1h-5.1zM656.6 115.5h5.1v5.1h-5.1zM676.1 115.5h5.1v5.1h-5.1zM627.2 110.6h5.1v5.1h-5.1zM656.6 110.6h5.1v5.1h-5.1z"/>
<path fill="#f3f5f6" d="M622.3 521.2h5.1v5.1h-5.1zM627.2 521.2h5.1v5.1h-5.1zM637.0 521.2h5.1v5.1h-5.1zM656.6 521.2h5.1v5.1h-5.1zM622.3 516.4h5.1v5.1h-5.1zM637.0 516.4h5.1v5.1h-5.1zM641.9 516.4h5.1v5.1h-5.1zM656.6 516.4h5.1v5.1h-5.1zM617.4 511.5h5.1v5.1h-5.1zM622.3 511.5h5.1v5.1h-5.1zM627.2 511.5h5.1v5.1h-5.1zM632.1 511.5h5.1v5.1h-5.1zM637.0 511.5h5.1v5.1h-5.1zM641.9 511.5h5.1v5.1h-5.1zM646.8 511.5h5.1v5.1h-5.1zM651.7 511.5h5.1v5.1h-5.1zM656.6 511.5h5.1v5.1h-5.1zM661.5 511.5h5.1v5.1h-5.1zM666.4 511.5h5.1v5.1h-5.1zM671.2 511.5h5.1v5.1h-5.1zM676.1 511.5h5.1v5.1h-5.1zM681.0 511.5h5.1v5.1h-5.1zM602.8 506.6h5.1v5.1h-5.1zM617.4 506.6h5.1v5.1h-5.1zM622.3 506.6h5.1v5.1h-5.1zM627.2 506.6h5.1v5.1h-5.1zM632.1 506.6h5.1v5.1h-5.1zM641.9 506.6h5.1v5.1h-5.1zM656.6 506.6h5.1v5.1h-5.1zM661.5 506.6h5.1v5.1h-5.1zM666.4 506.6h5.1v5.1h-5.1zM671.2 506.6h5.1v5.1h-5.1zM681.0 506.6h5.1v5.1h-5.1zM685.9 506.6h5.1v5.1h-5.1zM690.8 506.6h5.1v5.1h-5.1zM607.6 501.7h5.1v5.1h-5.1zM661.5 501.7h5.1v5.1h-5.1zM666.4 501.7h5.1v5.1h-5.1zM671.2 501.7h5.1v5.1h-5.1zM685.9 501.7h5.1v5.1h-5.1zM690.8 501.7h5.1v5.1h-5.1zM695.7 501.7h5.1v5.1h-5.1zM690.8 496.8h5.1v5.1h-5.1zM695.7 496.8h5.1v5.1h-5.1zM690.8 491.9h5.1v5.1h-5.1zM695.7 491.9h5.1v5.1h-5.1zM705.5 491.9h5.1v5.1h-5.1zM705.5 487.0h5.1v5.1h-5.1zM710.4 487.0h5.1v5.1h-5.1zM715.3 487.0h5.1v5.1h-5.1zM725.1 487.0h5.1v5.1h-5.1zM715.3 482.1h5.1v5.1h-5.1zM720.2 482.1h5.1v5.1h-5.1zM720.2 477.2h5.1v5.1h-5.1zM725.1 477.2h5.1v5.1h-5.1zM729.9 477.2h5.1v5.1h-5.1zM720.2 472.4h5.1v5.1h-5.1zM725.1 472.4h5.1v5.1h-5.1zM729.9 472.4h5.1v5.1h-5.1zM734.8 472.4h5.1v5.1h-5.1zM725.1 467.5h5.1v5.1h-5.1zM739.7 467.5h5.1v5.1h-5.1zM734.8 462.6h5.1v5.1h-5.1zM739.7 462.6h5.1v5.1h-5.1zM744.6 462.6h5.1v5.1h-5.1zM739.7 457.7h5.1v5.1h-5.1zM744.6 457.7h5.1v5.1h-5.1zM734.8 452.8h5.1v5.1h-5.1zM739.7 452.8h5.1v5.1h-5.1zM749.5 452.8h5.1v5.1h-5.1zM744.6 447.9h5.1v5.1h-5.1zM749.5 447.9h5.1v5.1h-5.1zM754.4 447.9h5.1v5.1h-5.1zM749.5 443.0h5.1v5.1h-5.1zM754.4 443.0h5.1v5.1h-5.1zM759.3 443.0h5.1v5.1h-5.1zM749.5 438.1h5.1v5.1h-5.1zM754.4 438.1h5.1v5.1h-5.1zM759.3 433.3h5.1v5.1h-5.1zM759.3 428.4h5.1v5.1h-5.1zM764.2 428.4h5.1v5.1h-5.1zM769.1 428.4h5.1v5.1h-5.1zM764.2 423.5h5.1v5.1h-5.1zM764.2 418.6h5.1v5.1h-5.1zM769.1 418.6h5.1v5.1h-5.1zM764.2 413.7h5.1v5.1h-5.1zM769.1 413.7h5.1v5.1h-5.1zM774.0 413.7h5.1v5.1h-5.1zM759.3 408.8h5.1v5.1h-5.1zM764.2 408.8h5.1v5.1h-5.1zM769.1 408.8h5.1v5.1h-5.1zM769.1 403.9h5.1v5.1h-5.1zM774.0 403.9h5.1v5.1h-5.1zM769.1 399.0h5.1v5.1h-5.1zM774.0 399.0h5.1v5.1h-5.1zM769.1 394.2h5.1v5.1h-5.1zM774.0 394.2h5.1v5.1h-5.1zM778.9 394.2h5.1v5.1h-5.1zM769.1 389.3h5.1v5.1h-5.1zM774.0 389.3h5.1v5.1h-5.1zM774.0 384.4h5.1v5.1h-5.1zM774.0 379.5h5.1v5.1h-5.1zM778.9 374.6h5.1v5.1h-5.1zM778.9 369.7h5.1v5.1h-5.1zM778.9 364.8h5.1v5.1h-5.1zM778.9 359.9h5.1v5.1h-5.1zM783.8 359.9h5.1v5.1h-5.1zM778.9 355.0h5.1v5.1h-5.1zM783.8 355.0h5.1v5.1h-5.1zM778.9 350.2h5.1v5.1h-5.1zM783.8 350.2h5.1v5.1h-5.1zM778.9 345.3h5.1v5.1h-5.1zM788.7 345.3h5.1v5.1h-5.1zM774.0 340.4h5.1v5.1h-5.1zM778.9 340.4h5.1v5.1h-5.1zM783.8 335.5h5.1v5.1h-5.1zM778.9 330.6h5.1v5.1h-5.1zM778.9 325.7h5.1v5.1h-5.1zM783.8 325.7h5.1v5.1h-5.1zM788.7 325.7h5.1v5.1h-5.1zM778.9 320.8h5.1v5.1h-5.1zM783.8 320.8h5.1v5.1h-5.1zM793.5 320.8h5.1v5.1h-5.1zM778.9 315.9h5.1v5.1h-5.1zM783.8 315.9h5.1v5.1h-5.1zM778.9 311.1h5.1v5.1h-5.1zM783.8 311.1h5.1v5.1h-5.1zM788.7 311.1h5.1v5.1h-5.1zM778.9 306.2h5.1v5.1h-5.1zM778.9 301.3h5.1v5.1h-5.1zM783.8 301.3h5.1v5.1h-5.1zM783.8 296.4h5.1v5.1h-5.1zM778.9 291.5h5.1v5.1h-5.1zM783.8 291.5h5.1v5.1h-5.1zM778.9 286.6h5.1v5.1h-5.1zM783.8 286.6h5.1v5.1h-5.1zM778.9 281.7h5.1v5.1h-5.1zM783.8 276.8h5.1v5.1h-5.1zM788.7 276.8h5.1v5.1h-5.1zM774.0 272.0h5.1v5.1h-5.1zM778.9 272.0h5.1v5.1h-5.1zM778.9 267.1h5.1v5.1h-5.1zM788.7 267.1h5.1v5.1h-5.1zM774.0 262.2h5.1v5.1h-5.1zM783.8 262.2h5.1v5.1h-5.1zM778.9 257.3h5.1v5.1h-5.1zM774.0 247.5h5.1v5.1h-5.1zM778.9 247.5h5.1v5.1h-5.1zM774.0 242.6h5.1v5.1h-5.1zM778.9 242.6h5.1v5.1h-5.1zM774.0 237.7h5.1v5.1h-5.1zM769.1 232.8h5.1v5.1h-5.1zM774.0 232.8h5.1v5.1h-5.1zM769.1 228.0h5.1v5.1h-5.1zM769.1 223.1h5.1v5.1h-5.1zM764.2 218.2h5.1v5.1h-5.1zM769.1 218.2h5.1v5.1h-5.1zM769.1 213.3h5.1v5.1h-5.1zM764.2 208.4h5.1v5.1h-5.1zM759.3 203.5h5.1v5.1h-5.1zM764.2 203.5h5.1v5.1h-5.1zM754.4 198.6h5.1v5.1h-5.1zM759.3 198.6h5.1v5.1h-5.1zM759.3 193.7h5.1v5.1h-5.1zM778.9 193.7h5.1v5.1h-5.1zM754.4 188.9h5.1v5.1h-5.1zM759.3 188.9h5.1v5.1h-5.1zM749.5 184.0h5.1v5.1h-5.1zM754.4 184.0h5.1v5.1h-5.1zM764.2 184.0h5.1v5.1h-5.1zM744.6 179.1h5.1v5.1h-5.1zM749.5 179.1h5.1v5.1h-5.1zM754.4 179.1h5.1v5.1h-5.1zM759.3 179.1h5.1v5.1h-5.1zM744.6 174.2h5.1v5.1h-5.1zM749.5 174.2h5.1v5.1h-5.1zM754.4 174.2h5.1v5.1h-5.1zM744.6 169.3h5.1v5.1h-5.1zM754.4 169.3h5.1v5.1h-5.1zM734.8 164.4h5.1v5.1h-5.1zM739.7 164.4h5.1v5.1h-5.1zM744.6 164.4h5.1v5.1h-5.1zM749.5 164.4h5.1v5.1h-5.1zM734.8 159.5h5.1v5.1h-5.1zM739.7 159.5h5.1v5.1h-5.1zM744.6 159.5h5.1v5.1h-5.1zM734.8 154.6h5.1v5.1h-5.1zM729.9 149.8h5.1v5.1h-5.1zM734.8 149.8h5.1v5.1h-5.1zM749.5 149.8h5.1v5.1h-5.1zM725.1 144.9h5.1v5.1h-5.1zM729.9 144.9h5.1v5.1h-5.1zM715.3 140.0h5.1v5.1h-5.1zM720.2 140.0h5.1v5.1h-5.1zM710.4 135.1h5.1v5.1h-5.1zM715.3 135.1h5.1v5.1h-5.1zM720.2 135.1h5.1v5.1h-5.1zM690.8 130.2h5.1v5.1h-5.1zM695.7 130.2h5.1v5.1h-5.1zM710.4 130.2h5.1v5.1h-5.1zM715.3 130.2h5.1v5.1h-5.1zM685.9 125.3h5.1v5.1h-5.1zM690.8 125.3h5.1v5.1h-5.1zM695.7 125.3h5.1v5.1h-5.1zM700.6 125.3h5.1v5.1h-5.1zM705.5 125.3h5.1v5.1h-5.1zM681.0 120.4h5.1v5.1h-5.1zM685.9 120.4h5.1v5.1h-5.1zM690.8 120.4h5.1v5.1h-5.1zM705.5 120.4h5.1v5.1h-5.1zM602.8 115.5h5.1v5.1h-5.1zM607.6 115.5h5.1v5.1h-5.1zM637.0 115.5h5.1v5.1h-5.1zM661.5 115.5h5.1v5.1h-5.1zM666.4 115.5h5.1v5.1h-5.1zM671.2 115.5h5.1v5.1h-5.1zM681.0 115.5h5.1v5.1h-5.1zM685.9 115.5h5.1v5.1h-5.1zM690.8 115.5h5.1v5.1h-5.1zM602.8 110.6h5.1v5.1h-5.1zM607.6 110.6h5.1v5.1h-5.1zM612.5 110.6h5.1v5.1h-5.1zM617.4 110.6h5.1v5.1h-5.1zM622.3 110.6h5.1v5.1h-5.1zM632.1 110.6h5.1v5.1h-5.1zM637.0 110.6h5.1v5.1h-5.1zM641.9 110.6h5.1v5.1h-5.1zM646.8 110.6h5.1v5.1h-5.1zM651.7 110.6h5.1v5.1h-5.1zM661.5 110.6h5.1v5.1h-5.1zM666.4 110.6h5.1v5.1h-5.1zM676.1 110.6h5.1v5.1h-5.1zM681.0 110.6h5.1v5.1h-5.1zM685.9 110.6h5.1v5.1h-5.1zM617.4 105.8h5.1v5.1h-5.1zM627.2 105.8h5.1v5.1h-5.1zM632.1 105.8h5.1v5.1h-5.1zM637.0 105.8h5.1v5.1h-5.1zM641.9 105.8h5.1v5.1h-5.1zM646.8 105.8h5.1v5.1h-5.1zM651.7 105.8h5.1v5.1h-5.1zM656.6 105.8h5.1v5.1h-5.1zM661.5 105.8h5.1v5.1h-5.1z"/>
<path fill="#f5f6f7" d="M720.2 614.1h5.1v5.1h-5.1zM769.1 604.3h5.1v5.1h-5.1zM734.8 594.6h5.1v5.1h-5.1zM641.9 589.7h5.1v5.1h-5.1zM866.9 560.3h5.1v5.1h-5.1zM681.0 550.6h5.1v5.1h-5.1zM681.0 540.8h5.1v5.1h-5.1zM700.6 540.8h5.1v5.1h-5.1zM788.7 540.8h5.1v5.1h-5.1zM617.4 535.9h5.1v5.1h-5.1zM622.3 535.9h5.1v5.1h-5.1zM632.1 535.9h5.1v5.1h-5.1zM646.8 535.9h5.1v5.1h-5.1zM612.5 531.0h5.1v5.1h-5.1zM617.4 531.0h5.1v5.1h-5.1zM627.2 531.0h5.1v5.1h-5.1zM646.8 531.0h5.1v5.1h-5.1zM651.7 531.0h5.1v5.1h-5.1zM676.1 531.0h5.1v5.1h-5.1zM607.6 526.1h5.1v5.1h-5.1zM617.4 526.1h5.1v5.1h-5.1zM632.1 526.1h5.1v5.1h-5.1zM637.0 526.1h5.1v5.1h-5.1zM641.9 526.1h5.1v5.1h-5.1zM651.7 526.1h5.1v5.1h-5.1zM656.6 526.1h5.1v5.1h-5.1zM661.5 526.1h5.1v5.1h-5.1zM666.4 526.1h5.1v5.1h-5.1zM681.0 526.1h5.1v5.1h-5.1zM705.5 526.1h5.1v5.1h-5.1zM847.4 526.1h5.1v5.1h-5.1zM602.8 521.2h5.1v5.1h-5.1zM607.6 521.2h5.1v5.1h-5.1zM617.4 521.2h5.1v5.1h-5.1zM632.1 521.2h5.1v5.1h-5.1zM641.9 521.2h5.1v5.1h-5.1zM646.8 521.2h5.1v5.1h-5.1zM661.5 521.2h5.1v5.1h-5.1zM671.2 521.2h5.1v5.1h-5.1zM676.1 521.2h5.1v5.1h-5.1zM685.9 521.2h5.1v5.1h-5.1zM690.8 521.2h5.1v5.1h-5.1zM695.7 521.2h5.1v5.1h-5.1zM607.6 516.4h5.1v5.1h-5.1zM612.5 516.4h5.1v5.1h-5.1zM617.4 516.4h5.1v5.1h-5.1zM627.2 516.4h5.1v5.1h-5.1zM632.1 516.4h5.1v5.1h-5.1zM646.8 516.4h5.1v5.1h-5.1zM651.7 516.4h5.1v5.1h-5.1zM661.5 516.4h5.1v5.1h-5.1zM666.4 516.4h5.1v5.1h-5.1zM676.1 516.4h5.1v5.1h-5.1zM685.9 516.4h5.1v5.1h-5.1zM695.7 516.4h5.1v5.1h-5.1zM739.7 516.4h5.1v5.1h-5.1zM602.8 511.5h5.1v5.1h-5.1zM607.6 511.5h5.1v5.1h-5.1zM612.5 511.5h5.1v5.1h-5.1zM685.9 511.5h5.1v5.1h-5.1zM700.6 511.5h5.1v5.1h-5.1zM720.2 511.5h5.1v5.1h-5.1zM607.6 506.6h5.1v5.1h-5.1zM612.5 506.6h5.1v5.1h-5.1zM676.1 506.6h5.1v5.1h-5.1zM695.7 506.6h5.1v5.1h-5.1zM700.6 506.6h5.1v5.1h-5.1zM710.4 506.6h5.1v5.1h-5.1zM729.9 506.6h5.1v5.1h-5.1zM602.8 501.7h5.1v5.1h-5.1zM700.6 501.7h5.1v5.1h-5.1zM710.4 501.7h5.1v5.1h-5.1zM715.3 501.7h5.1v5.1h-5.1zM700.6 496.8h5.1v5.1h-5.1zM705.5 496.8h5.1v5.1h-5.1zM710.4 496.8h5.1v5.1h-5.1zM715.3 496.8h5.1v5.1h-5.1zM725.1 496.8h5.1v5.1h-5.1zM729.9 496.8h5.1v5.1h-5.1zM764.2 496.8h5.1v5.1h-5.1zM710.4 491.9h5.1v5.1h-5.1zM715.3 491.9h5.1v5.1h-5.1zM720.2 491.9h5.1v5.1h-5.1zM725.1 491.9h5.1v5.1h-5.1zM729.9 491.9h5.1v5.1h-5.1zM720.2 487.0h5.1v5.1h-5.1zM729.9 487.0h5.1v5.1h-5.1zM734.8 487.0h5.1v5.1h-5.1zM739.7 487.0h5.1v5.1h-5.1zM725.1 482.1h5.1v5.1h-5.1zM729.9 482.1h5.1v5.1h-5.1zM744.6 482.1h5.1v5.1h-5.1zM749.5 482.1h5.1v5.1h-5.1zM734.8 477.2h5.1v5.1h-5.1zM739.7 477.2h5.1v5.1h-5.1zM744.6 477.2h5.1v5.1h-5.1zM754.4 477.2h5.1v5.1h-5.1zM739.7 472.4h5.1v5.1h-5.1zM744.6 472.4h5.1v5.1h-5.1zM734.8 467.5h5.1v5.1h-5.1zM744.6 467.5h5.1v5.1h-5.1zM754.4 467.5h5.1v5.1h-5.1zM759.3 467.5h5.1v5.1h-5.1zM764.2 467.5h5.1v5.1h-5.1zM749.5 462.6h5.1v5.1h-5.1zM749.5 457.7h5.1v5.1h-5.1zM759.3 457.7h5.1v5.1h-5.1zM744.6 452.8h5.1v5.1h-5.1zM754.4 452.8h5.1v5.1h-5.1zM759.3 452.8h5.1v5.1h-5.1zM783.8 452.8h5.1v5.1h-5.1zM759.3 447.9h5.1v5.1h-5.1zM764.2 447.9h5.1v5.1h-5.1zM769.1 447.9h5.1v5.1h-5.1zM783.8 447.9h5.1v5.1h-5.1zM764.2 443.0h5.1v5.1h-5.1zM769.1 443.0h5.1v5.1h-5.1zM759.3 438.1h5.1v5.1h-5.1zM764.2 438.1h5.1v5.1h-5.1zM769.1 438.1h5.1v5.1h-5.1zM778.9 438.1h5.1v5.1h-5.1zM764.2 433.3h5.1v5.1h-5.1zM769.1 433.3h5.1v5.1h-5.1zM774.0 428.4h5.1v5.1h-5.1zM759.3 423.5h5.1v5.1h-5.1zM769.1 423.5h5.1v5.1h-5.1zM774.0 423.5h5.1v5.1h-5.1zM774.0 418.6h5.1v5.1h-5.1zM778.9 413.7h5.1v5.1h-5.1zM774.0 408.8h5.1v5.1h-5.1zM778.9 408.8h5.1v5.1h-5.1zM778.9 403.9h5.1v5.1h-5.1zM778.9 399.0h5.1v5.1h-5.1zM783.8 399.0h5.1v5.1h-5.1zM793.5 399.0h5.1v5.1h-5.1zM783.8 394.2h5.1v5.1h-5.1zM788.7 394.2h5.1v5.1h-5.1zM778.9 389.3h5.1v5.1h-5.1zM783.8 389.3h5.1v5.1h-5.1zM788.7 389.3h5.1v5.1h-5.1zM778.9 384.4h5.1v5.1h-5.1zM783.8 384.4h5.1v5.1h-5.1zM788.7 384.4h5.1v5.1h-5.1zM778.9 379.5h5.1v5.1h-5.1zM783.8 379.5h5.1v5.1h-5.1zM788.7 379.5h5.1v5.1h-5.1zM783.8 374.6h5.1v5.1h-5.1zM783.8 369.7h5.1v5.1h-5.1zM788.7 369.7h5.1v5.1h-5.1zM793.5 369.7h5.1v5.1h-5.1zM783.8 364.8h5.1v5.1h-5.1zM788.7 364.8h5.1v5.1h-5.1zM798.4 364.8h5.1v5.1h-5.1zM788.7 359.9h5.1v5.1h-5.1zM798.4 359.9h5.1v5.1h-5.1zM788.7 355.0h5.1v5.1h-5.1zM793.5 350.2h5.1v5.1h-5.1zM798.4 350.2h5.1v5.1h-5.1zM822.9 350.2h5.1v5.1h-5.1zM783.8 345.3h5.1v5.1h-5.1zM793.5 345.3h5.1v5.1h-5.1zM783.8 340.4h5.1v5.1h-5.1zM788.7 340.4h5.1v5.1h-5.1zM793.5 340.4h5.1v5.1h-5.1zM788.7 335.5h5.1v5.1h-5.1zM793.5 335.5h5.1v5.1h-5.1zM813.1 335.5h5.1v5.1h-5.1zM783.8 330.6h5.1v5.1h-5.1zM788.7 330.6h5.1v5.1h-5.1zM808.2 330.6h5.1v5.1h-5.1zM793.5 325.7h5.1v5.1h-5.1zM798.4 325.7h5.1v5.1h-5.1zM808.2 325.7h5.1v5.1h-5.1zM788.7 320.8h5.1v5.1h-5.1zM896.3 320.8h5.1v5.1h-5.1zM788.7 315.9h5.1v5.1h-5.1zM793.5 315.9h5.1v5.1h-5.1zM803.3 315.9h5.1v5.1h-5.1zM798.4 311.1h5.1v5.1h-5.1zM818.0 311.1h5.1v5.1h-5.1zM783.8 306.2h5.1v5.1h-5.1zM793.5 306.2h5.1v5.1h-5.1zM788.7 301.3h5.1v5.1h-5.1zM793.5 301.3h5.1v5.1h-5.1zM798.4 301.3h5.1v5.1h-5.1zM788.7 296.4h5.1v5.1h-5.1zM793.5 296.4h5.1v5.1h-5.1zM788.7 291.5h5.1v5.1h-5.1zM891.4 291.5h5.1v5.1h-5.1zM901.2 291.5h5.1v5.1h-5.1zM788.7 286.6h5.1v5.1h-5.1zM783.8 281.7h5.1v5.1h-5.1zM788.7 281.7h5.1v5.1h-5.1zM808.2 276.8h5.1v5.1h-5.1zM783.8 272.0h5.1v5.1h-5.1zM788.7 272.0h5.1v5.1h-5.1zM793.5 272.0h5.1v5.1h-5.1zM783.8 267.1h5.1v5.1h-5.1zM798.4 267.1h5.1v5.1h-5.1zM803.3 267.1h5.1v5.1h-5.1zM793.5 262.2h5.1v5.1h-5.1zM798.4 262.2h5.1v5.1h-5.1zM803.3 262.2h5.1v5.1h-5.1zM783.8 257.3h5.1v5.1h-5.1zM788.7 257.3h5.1v5.1h-5.1zM793.5 257.3h5.1v5.1h-5.1zM778.9 252.4h5.1v5.1h-5.1zM783.8 252.4h5.1v5.1h-5.1zM788.7 252.4h5.1v5.1h-5.1zM793.5 252.4h5.1v5.1h-5.1zM798.4 252.4h5.1v5.1h-5.1zM783.8 247.5h5.1v5.1h-5.1zM788.7 247.5h5.1v5.1h-5.1zM783.8 242.6h5.1v5.1h-5.1zM803.3 242.6h5.1v5.1h-5.1zM778.9 237.7h5.1v5.1h-5.1zM783.8 237.7h5.1v5.1h-5.1zM788.7 237.7h5.1v5.1h-5.1zM778.9 232.8h5.1v5.1h-5.1zM783.8 232.8h5.1v5.1h-5.1zM774.0 228.0h5.1v5.1h-5.1zM778.9 228.0h5.1v5.1h-5.1zM783.8 228.0h5.1v5.1h-5.1zM774.0 223.1h5.1v5.1h-5.1zM778.9 223.1h5.1v5.1h-5.1zM774.0 218.2h5.1v5.1h-5.1zM778.9 218.2h5.1v5.1h-5.1zM783.8 218.2h5.1v5.1h-5.1zM774.0 213.3h5.1v5.1h-5.1zM778.9 213.3h5.1v5.1h-5.1zM783.8 213.3h5.1v5.1h-5.1zM769.1 208.4h5.1v5.1h-5.1zM774.0 208.4h5.1v5.1h-5.1zM778.9 208.4h5.1v5.1h-5.1zM783.8 208.4h5.1v5.1h-5.1zM769.1 203.5h5.1v5.1h-5.1zM774.0 203.5h5.1v5.1h-5.1zM783.8 203.5h5.1v5.1h-5.1zM764.2 198.6h5.1v5.1h-5.1zM769.1 198.6h5.1v5.1h-5.1zM774.0 198.6h5.1v5.1h-5.1zM764.2 193.7h5.1v5.1h-5.1zM769.1 193.7h5.1v5.1h-5.1zM774.0 193.7h5.1v5.1h-5.1zM764.2 188.9h5.1v5.1h-5.1zM774.0 188.9h5.1v5.1h-5.1zM778.9 188.9h5.1v5.1h-5.1zM769.1 184.0h5.1v5.1h-5.1zM774.0 184.0h5.1v5.1h-5.1zM764.2 179.1h5.1v5.1h-5.1zM759.3 174.2h5.1v5.1h-5.1zM764.2 174.2h5.1v5.1h-5.1zM749.5 169.3h5.1v5.1h-5.1zM759.3 169.3h5.1v5.1h-5.1zM764.2 169.3h5.1v5.1h-5.1zM754.4 164.4h5.1v5.1h-5.1zM759.3 164.4h5.1v5.1h-5.1zM769.1 164.4h5.1v5.1h-5.1zM749.5 159.5h5.1v5.1h-5.1zM754.4 159.5h5.1v5.1h-5.1zM739.7 154.6h5.1v5.1h-5.1zM744.6 154.6h5.1v5.1h-5.1zM754.4 154.6h5.1v5.1h-5.1zM739.7 149.8h5.1v5.1h-5.1zM744.6 149.8h5.1v5.1h-5.1zM754.4 149.8h5.1v5.1h-5.1zM734.8 144.9h5.1v5.1h-5.1zM739.7 144.9h5.1v5.1h-5.1zM749.5 144.9h5.1v5.1h-5.1zM725.1 140.0h5.1v5.1h-5.1zM729.9 140.0h5.1v5.1h-5.1zM739.7 140.0h5.1v5.1h-5.1zM744.6 140.0h5.1v5.1h-5.1zM725.1 135.1h5.1v5.1h-5.1zM739.7 135.1h5.1v5.1h-5.1zM705.5 130.2h5.1v5.1h-5.1zM720.2 130.2h5.1v5.1h-5.1zM725.1 130.2h5.1v5.1h-5.1zM734.8 130.2h5.1v5.1h-5.1zM710.4 125.3h5.1v5.1h-5.1zM715.3 125.3h5.1v5.1h-5.1zM720.2 125.3h5.1v5.1h-5.1zM695.7 120.4h5.1v5.1h-5.1zM700.6 120.4h5.1v5.1h-5.1zM710.4 120.4h5.1v5.1h-5.1zM720.2 120.4h5.1v5.1h-5.1zM729.9 120.4h5.1v5.1h-5.1zM695.7 115.5h5.1v5.1h-5.1zM700.6 115.5h5.1v5.1h-5.1zM705.5 115.5h5.1v5.1h-5.1zM710.4 115.5h5.1v5.1h-5.1zM715.3 115.5h5.1v5.1h-5.1zM671.2 110.6h5.1v5.1h-5.1zM690.8 110.6h5.1v5.1h-5.1zM695.7 110.6h5.1v5.1h-5.1zM700.6 110.6h5.1v5.1h-5.1zM705.5 110.6h5.1v5.1h-5.1zM720.2 110.6h5.1v5.1h-5.1zM602.8 105.8h5.1v5.1h-5.1zM607.6 105.8h5.1v5.1h-5.1zM612.5 105.8h5.1v5.1h-5.1zM622.3 105.8h5.1v5.1h-5.1zM666.4 105.8h5.1v5.1h-5.1zM671.2 105.8h5.1v5.1h-5.1zM676.1 105.8h5.1v5.1h-5.1zM685.9 105.8h5.1v5.1h-5.1zM690.8 105.8h5.1v5.1h-5.1zM700.6 105.8h5.1v5.1h-5.1zM866.9 105.8h5.1v5.1h-5.1zM602.8 100.9h5.1v5.1h-5.1zM607.6 100.9h5.1v5.1h-5.1zM612.5 100.9h5.1v5.1h-5.1zM617.4 100.9h5.1v5.1h-5.1zM622.3 100.9h5.1v5.1h-5.1zM627.2 100.9h5.1v5.1h-5.1zM632.1 100.9h5.1v5.1h-5.1zM637.0 100.9h5.1v5.1h-5.1zM641.9 100.9h5.1v5.1h-5.1zM646.8 100.9h5.1v5.1h-5.1zM656.6 100.9h5.1v5.1h-5.1zM661.5 100.9h5.1v5.1h-5.1zM671.2 100.9h5.1v5.1h-5.1zM676.1 100.9h5.1v5.1h-5.1zM700.6 100.9h5.1v5.1h-5.1zM710.4 100.9h5.1v5.1h-5.1zM725.1 100.9h5.1v5.1h-5.1zM774.0 100.9h5.1v5.1h-5.1zM602.8 96.0h5.1v5.1h-5.1zM612.5 96.0h5.1v5.1h-5.1zM617.4 96.0h5.1v5.1h-5.1zM627.2 96.0h5.1v5.1h-5.1zM637.0 96.0h5.1v5.1h-5.1zM641.9 96.0h5.1v5.1h-5.1zM646.8 96.0h5.1v5.1h-5.1zM651.7 96.0h5.1v5.1h-5.1zM656.6 96.0h5.1v5.1h-5.1zM661.5 96.0h5.1v5.1h-5.1zM676.1 96.0h5.1v5.1h-5.1zM612.5 91.1h5.1v5.1h-5.1zM622.3 91.1h5.1v5.1h-5.1zM627.2 91.1h5.1v5.1h-5.1zM646.8 91.1h5.1v5.1h-5.1zM656.6 91.1h5.1v5.1h-5.1zM676.1 91.1h5.1v5.1h-5.1zM681.0 91.1h5.1v5.1h-5.1zM602.8 86.2h5.1v5.1h-5.1zM646.8 86.2h5.1v5.1h-5.1zM651.7 86.2h5.1v5.1h-5.1zM661.5 86.2h5.1v5.1h-5.1zM700.6 86.2h5.1v5.1h-5.1zM607.6 81.3h5.1v5.1h-5.1zM627.2 81.3h5.1v5.1h-5.1zM632.1 81.3h5.1v5.1h-5.1zM871.8 81.3h5.1v5.1h-5.1zM901.2 81.3h5.1v5.1h-5.1zM627.2 76.4h5.1v5.1h-5.1zM607.6 71.5h5.1v5.1h-5.1zM671.2 71.5h5.1v5.1h-5.1zM641.9 61.8h5.1v5.1h-5.1zM862.0 42.2h5.1v5.1h-5.1zM896.3 37.3h5.1v5.1h-5.1zM822.9 32.4h5.1v5.1h-5.1zM651.7 8.0h5.1v5.1h-5.1zM808.2 3.1h5.1v5.1h-5.1z"/>
<path fill="#f7f5f4" d="M778.9 609.2h5.1v5.1h-5.1zM808.2 604.3h5.1v5.1h-5.1zM612.5 599.4h5.1v5.1h-5.1zM666.4 575.0h5.1v5.1h-5.1zM764.2 570.1h5.1v5.1h-5.1zM911.0 511.5h5.1v5.1h-5.1zM891.4 369.7h5.1v5.1h-5.1zM866.9 179.1h5.1v5.1h-5.1zM837.6 140.0h5.1v5.1h-5.1zM808.2 130.2h5.1v5.1h-5.1zM832.7 105.8h5.1v5.1h-5.1zM842.5 100.9h5.1v5.1h-5.1zM827.8 71.5h5.1v5.1h-5.1zM842.5 42.2h5.1v5.1h-5.1zM857.1 22.7h5.1v5.1h-5.1zM901.2 17.8h5.1v5.1h-5.1zM803.3 3.1h5.1v5.1h-5.1z"/>
</g>
<g clip-path="url(#cr)" shape-rendering="crispEdges">
<rect x="602.8" y="198.6" width="5.1" height="5.1" fill="#fbe0d3"/>
<rect x="602.8" y="223.1" width="5.1" height="5.1" fill="#f5f5f5"/>
<rect x="612.5" y="228.0" width="5.1" height="5.1" fill="#fbd4be"/>
<rect x="602.8" y="242.6" width="5.1" height="5.1" fill="#f6b79b"/>
<rect x="602.8" y="252.4" width="5.1" height="5.1" fill="#f0926f"/>
<rect x="607.6" y="252.4" width="5.1" height="5.1" fill="#f0926f"/>
<rect x="602.8" y="257.3" width="5.1" height="5.1" fill="#f0926f"/>
<rect x="607.6" y="257.3" width="5.1" height="5.1" fill="#f0926f"/>
<rect x="612.5" y="257.3" width="5.1" height="5.1" fill="#f7f5f3"/>
<rect x="602.8" y="262.2" width="5.1" height="5.1" fill="#ea8563"/>
<rect x="607.6" y="262.2" width="5.1" height="5.1" fill="#6baed6"/>
<rect x="612.5" y="262.2" width="5.1" height="5.1" fill="#f7b08d"/>
<rect x="602.8" y="267.1" width="5.1" height="5.1" fill="#ea8563"/>
<rect x="607.6" y="267.1" width="5.1" height="5.1" fill="#6baed6"/>
<rect x="612.5" y="267.1" width="5.1" height="5.1" fill="#f7b08d"/>
<rect x="602.8" y="272.0" width="5.1" height="5.1" fill="#fbc4a6"/>
<rect x="607.6" y="272.0" width="5.1" height="5.1" fill="#e9805f"/>
<rect x="612.5" y="272.0" width="5.1" height="5.1" fill="#e9805f"/>
<rect x="622.3" y="272.0" width="5.1" height="5.1" fill="#fbcdb3"/>
<rect x="602.8" y="276.8" width="5.1" height="5.1" fill="#f0906e"/>
<rect x="607.6" y="276.8" width="5.1" height="5.1" fill="#e9805f"/>
<rect x="612.5" y="276.8" width="5.1" height="5.1" fill="#f9b798"/>
<rect x="617.4" y="276.8" width="5.1" height="5.1" fill="#f9b798"/>
<rect x="602.8" y="281.7" width="5.1" height="5.1" fill="#e8785a"/>
<rect x="607.6" y="281.7" width="5.1" height="5.1" fill="#e36f53"/>
<rect x="612.5" y="281.7" width="5.1" height="5.1" fill="#e8785a"/>
<rect x="602.8" y="286.6" width="5.1" height="5.1" fill="#e36f53"/>
<rect x="607.6" y="286.6" width="5.1" height="5.1" fill="#e06a50"/>
<rect x="612.5" y="286.6" width="5.1" height="5.1" fill="#e67a5c"/>
<rect x="617.4" y="286.6" width="5.1" height="5.1" fill="#f4a07b"/>
<rect x="622.3" y="286.6" width="5.1" height="5.1" fill="#fbd0b5"/>
<rect x="602.8" y="291.5" width="5.1" height="5.1" fill="#cf3a3a"/>
<rect x="607.6" y="291.5" width="5.1" height="5.1" fill="#d4463f"/>
<rect x="612.5" y="291.5" width="5.1" height="5.1" fill="#de5d49"/>
<rect x="617.4" y="291.5" width="5.1" height="5.1" fill="#ef8d69"/>
<rect x="602.8" y="296.4" width="5.1" height="5.1" fill="#c4283a"/>
<rect x="607.6" y="296.4" width="5.1" height="5.1" fill="#c92f3b"/>
<rect x="612.5" y="296.4" width="5.1" height="5.1" fill="#d9513f"/>
<rect x="617.4" y="296.4" width="5.1" height="5.1" fill="#ed8a67"/>
<rect x="602.8" y="301.3" width="5.1" height="5.1" fill="#b5152f"/>
<rect x="607.6" y="301.3" width="5.1" height="5.1" fill="#c4283a"/>
<rect x="612.5" y="301.3" width="5.1" height="5.1" fill="#d54a3e"/>
<rect x="617.4" y="301.3" width="5.1" height="5.1" fill="#ec8563"/>
<rect x="602.8" y="306.2" width="5.1" height="5.1" fill="#8d0c25"/>
<rect x="607.6" y="306.2" width="5.1" height="5.1" fill="#c0223a"/>
<rect x="612.5" y="306.2" width="5.1" height="5.1" fill="#d54a3e"/>
<rect x="617.4" y="306.2" width="5.1" height="5.1" fill="#ea8060"/>
<rect x="602.8" y="311.1" width="5.1" height="5.1" fill="#f7f7f7"/>
<rect x="607.6" y="311.1" width="5.1" height="5.1" fill="#b5152f"/>
<rect x="612.5" y="311.1" width="5.1" height="5.1" fill="#d4463f"/>
<rect x="617.4" y="311.1" width="5.1" height="5.1" fill="#ee8a68"/>
<rect x="602.8" y="315.9" width="5.1" height="5.1" fill="#7a0822"/>
<rect x="607.6" y="315.9" width="5.1" height="5.1" fill="#b5152f"/>
<rect x="612.5" y="315.9" width="5.1" height="5.1" fill="#d4463f"/>
<rect x="602.8" y="320.8" width="5.1" height="5.1" fill="#b5152f"/>
<rect x="607.6" y="320.8" width="5.1" height="5.1" fill="#bb1b33"/>
<rect x="612.5" y="320.8" width="5.1" height="5.1" fill="#d4463f"/>
<rect x="602.8" y="325.7" width="5.1" height="5.1" fill="#c4283a"/>
<rect x="607.6" y="325.7" width="5.1" height="5.1" fill="#c4283a"/>
<rect x="612.5" y="325.7" width="5.1" height="5.1" fill="#d9513f"/>
<rect x="617.4" y="325.7" width="5.1" height="5.1" fill="#8fc3de"/>
<rect x="602.8" y="330.6" width="5.1" height="5.1" fill="#cf3a3a"/>
<rect x="607.6" y="330.6" width="5.1" height="5.1" fill="#d4463f"/>
<rect x="612.5" y="330.6" width="5.1" height="5.1" fill="#e36f53"/>
<rect x="617.4" y="330.6" width="5.1" height="5.1" fill="#ee8a68"/>
<rect x="602.8" y="335.5" width="5.1" height="5.1" fill="#d4463f"/>
<rect x="607.6" y="335.5" width="5.1" height="5.1" fill="#de5d49"/>
<rect x="612.5" y="335.5" width="5.1" height="5.1" fill="#e8785a"/>
<rect x="617.4" y="335.5" width="5.1" height="5.1" fill="#f0906e"/>
<rect x="602.8" y="340.4" width="5.1" height="5.1" fill="#e36f53"/>
<rect x="607.6" y="340.4" width="5.1" height="5.1" fill="#e36f53"/>
<rect x="612.5" y="340.4" width="5.1" height="5.1" fill="#ea8060"/>
<rect x="617.4" y="340.4" width="5.1" height="5.1" fill="#9ecae1"/>
<rect x="602.8" y="345.3" width="5.1" height="5.1" fill="#ef8d69"/>
<rect x="607.6" y="345.3" width="5.1" height="5.1" fill="#ea8060"/>
<rect x="612.5" y="345.3" width="5.1" height="5.1" fill="#ea8060"/>
<rect x="617.4" y="345.3" width="5.1" height="5.1" fill="#9ecae1"/>
<rect x="602.8" y="350.2" width="5.1" height="5.1" fill="#f9b798"/>
<rect x="607.6" y="350.2" width="5.1" height="5.1" fill="#7ab6da"/>
<rect x="612.5" y="350.2" width="5.1" height="5.1" fill="#f0906e"/>
<rect x="617.4" y="350.2" width="5.1" height="5.1" fill="#f9c4a8"/>
<rect x="602.8" y="355.0" width="5.1" height="5.1" fill="#ef8d69"/>
<rect x="607.6" y="355.0" width="5.1" height="5.1" fill="#ea8060"/>
<rect x="612.5" y="355.0" width="5.1" height="5.1" fill="#f9b798"/>
<rect x="602.8" y="359.9" width="5.1" height="5.1" fill="#f0906e"/>
<rect x="607.6" y="359.9" width="5.1" height="5.1" fill="#ef8d69"/>
<rect x="612.5" y="359.9" width="5.1" height="5.1" fill="#f9c4a8"/>
<rect x="602.8" y="364.8" width="5.1" height="5.1" fill="#f0906e"/>
<rect x="607.6" y="364.8" width="5.1" height="5.1" fill="#f0906e"/>
<rect x="612.5" y="364.8" width="5.1" height="5.1" fill="#f4a07b"/>
<rect x="602.8" y="369.7" width="5.1" height="5.1" fill="#f4a07b"/>
<rect x="607.6" y="369.7" width="5.1" height="5.1" fill="#8fc3de"/>
<rect x="612.5" y="369.7" width="5.1" height="5.1" fill="#f7b08d"/>
<rect x="602.8" y="374.6" width="5.1" height="5.1" fill="#9ecae1"/>
<rect x="612.5" y="374.6" width="5.1" height="5.1" fill="#fbc9ad"/>
<rect x="602.8" y="379.5" width="5.1" height="5.1" fill="#f9c0a2"/>
<rect x="607.6" y="389.3" width="5.1" height="5.1" fill="#e0ecf4"/>
<rect x="612.5" y="389.3" width="5.1" height="5.1" fill="#e8f0f5"/>
<rect x="607.6" y="394.2" width="5.1" height="5.1" fill="#b9d9ea"/>
<rect x="612.5" y="394.2" width="5.1" height="5.1" fill="#f5f5f5"/>
<rect x="602.8" y="399.0" width="5.1" height="5.1" fill="#f7f7f7"/>
<rect x="607.6" y="399.0" width="5.1" height="5.1" fill="#c5deec"/>
<rect x="602.8" y="403.9" width="5.1" height="5.1" fill="#e8f0f5"/>
<rect x="607.6" y="408.8" width="5.1" height="5.1" fill="#e8f0f6"/>
<rect x="612.5" y="408.8" width="5.1" height="5.1" fill="#e8f0f6"/>
<rect x="607.6" y="418.6" width="5.1" height="5.1" fill="#e4eef5"/>
<rect x="602.8" y="423.5" width="5.1" height="5.1" fill="#f8e0d5"/>
<rect x="607.6" y="423.5" width="5.1" height="5.1" fill="#e4eef5"/>
<rect x="612.5" y="443.0" width="5.1" height="5.1" fill="#e8f0f5"/>
<rect x="622.3" y="447.9" width="5.1" height="5.1" fill="#f3efee"/>
<rect x="607.6" y="213.3" width="5.1" height="5.1" fill="#e4eef5"/>
<rect x="602.8" y="208.4" width="5.1" height="5.1" fill="#e8f0f5"/>
<rect x="612.5" y="188.9" width="5.1" height="5.1" fill="#e4eef5"/>
<rect x="602.8" y="174.2" width="5.1" height="5.1" fill="#eef3f6"/>
<rect x="602.8" y="169.3" width="5.1" height="5.1" fill="#eef3f6"/>
<rect x="607.6" y="169.3" width="5.1" height="5.1" fill="#e8f0f5"/>
<rect x="602.8" y="164.4" width="5.1" height="5.1" fill="#eef3f6"/>
</g>
<path d="M406.3 3.4L629.4 264.5V362L406.3 623.9M602.8 264.5H629.4M602.8 362H629.4" stroke="#000" stroke-width="1.33" fill="none"/>
<path d="M602.8 606.8h14M915.4 606.8h-14M602.8 582.3h7.6M915.4 582.3h-7.6M602.8 557.9h7.6M915.4 557.9h-7.6M602.8 533.5h14M915.4 533.5h-14M602.8 509.0h7.6M915.4 509.0h-7.6M602.8 484.6h7.6M915.4 484.6h-7.6M602.8 460.1h14M915.4 460.1h-14M602.8 435.7h7.6M915.4 435.7h-7.6M602.8 411.3h7.6M915.4 411.3h-7.6M602.8 386.8h14M915.4 386.8h-14M602.8 362.4h7.6M915.4 362.4h-7.6M602.8 337.9h7.6M915.4 337.9h-7.6M602.8 313.5h14M915.4 313.5h-14M602.8 289.1h7.6M915.4 289.1h-7.6M602.8 264.6h7.6M915.4 264.6h-7.6M602.8 240.2h14M915.4 240.2h-14M602.8 215.7h7.6M915.4 215.7h-7.6M602.8 191.3h7.6M915.4 191.3h-7.6M602.8 166.9h14M915.4 166.9h-14M602.8 142.4h7.6M915.4 142.4h-7.6M602.8 118.0h7.6M915.4 118.0h-7.6M602.8 93.5h14M915.4 93.5h-14M602.8 69.1h7.6M915.4 69.1h-7.6M602.8 44.7h7.6M915.4 44.7h-7.6M602.8 20.2h14M915.4 20.2h-14M605.2 3.4v14M605.2 623.8v-14M629.7 3.4v7.6M629.7 623.8v-7.6M654.1 3.4v7.6M654.1 623.8v-7.6M678.6 3.4v14M678.6 623.8v-14M703.0 3.4v7.6M703.0 623.8v-7.6M727.5 3.4v7.6M727.5 623.8v-7.6M752.0 3.4v14M752.0 623.8v-14M776.4 3.4v7.6M776.4 623.8v-7.6M800.9 3.4v7.6M800.9 623.8v-7.6M825.3 3.4v14M825.3 623.8v-14M849.8 3.4v7.6M849.8 623.8v-7.6M874.3 3.4v7.6M874.3 623.8v-7.6M898.7 3.4v14M898.7 623.8v-14" stroke="#000" stroke-width="2.9" fill="none"/>
<rect x="602.8" y="3.4" width="312.6" height="620.4" fill="none" stroke="#000" stroke-width="3"/>
<text class="h" text-anchor="end" x="589.0" y="29.8">12</text>
<text class="h" text-anchor="end" x="589.0" y="103.1">9</text>
<text class="h" text-anchor="end" x="589.0" y="176.5">6</text>
<text class="h" text-anchor="end" x="589.0" y="249.8">3</text>
<text class="h" text-anchor="end" x="589.0" y="323.1">0</text>
<text class="h" text-anchor="end" x="589.0" y="396.4">−3</text>
<text class="h" text-anchor="end" x="589.0" y="469.7">−6</text>
<text class="h" text-anchor="end" x="589.0" y="543.1">−9</text>
<text class="h" text-anchor="end" x="589.0" y="616.4">−12</text>
<text class="h" text-anchor="middle" x="605.2" y="657.4">0</text>
<text class="h" text-anchor="middle" x="678.6" y="657.4">3</text>
<text class="h" text-anchor="middle" x="752.0" y="657.4">6</text>
<text class="h" text-anchor="middle" x="825.3" y="657.4">9</text>
<text class="h" text-anchor="middle" x="898.7" y="657.4">12</text>
<text class="hi" font-size="29" x="736.2" y="689.5">k</text><text class="hi" font-size="22" x="750.3" y="697.3">x</text><text class="hi" font-size="19" x="756" y="679.3">″</text><text class="hi" font-size="29" x="764.8" y="689.5">a</text>
<g transform="translate(529.3,336) rotate(-90)"><text class="hi" font-size="29" x="0" y="0">k</text><text class="hi" font-size="20.7" x="14.5" y="7.6">y</text><text class="hi" font-size="19" x="20.3" y="-10.6">″</text><text class="hi" font-size="29" x="28.6" y="0">a</text></g>
<text class="h" x="670.3" y="564.2" textLength="187" lengthAdjust="spacingAndGlyphs"><tspan font-style="italic">t</tspan> = 1,000–4,000</text>
<rect x="922.6" y="1.4" width="12.8" height="620.6" fill="url(#g)" stroke="#000" stroke-width="2.67"/>
<text class="d" x="962.6" y="48.7">10</text><text class="s" x="998.2" y="39.0">−4</text>
<text class="d" x="962.6" y="94.5">10</text><text class="s" x="998.2" y="84.8">−5</text>
<text class="d" x="962.6" y="140.4">10</text><text class="s" x="998.2" y="130.7">−6</text>
<text class="d" x="962.6" y="186.0">10</text><text class="s" x="998.2" y="176.3">−7</text>
<text class="d" x="962.6" y="231.4">10</text><text class="s" x="998.2" y="221.7">−8</text>
<text class="d" x="962.6" y="283.8">10</text><text class="s" x="998.2" y="274.1">−9</text>
<text class="d" x="963.0" y="358.5">−</text><text class="d" x="985.2" y="358.5">10</text><text class="s" x="1020.8" y="348.8">−9</text>
<text class="d" x="963.0" y="411.4">−</text><text class="d" x="985.2" y="411.4">10</text><text class="s" x="1020.8" y="401.7">−8</text>
<text class="d" x="963.0" y="456.7">−</text><text class="d" x="985.2" y="456.7">10</text><text class="s" x="1020.8" y="447.0">−7</text>
<text class="d" x="963.0" y="502.1">−</text><text class="d" x="985.2" y="502.1">10</text><text class="s" x="1020.8" y="492.4">−6</text>
<text class="d" x="963.0" y="548.2">−</text><text class="d" x="985.2" y="548.2">10</text><text class="s" x="1020.8" y="538.5">−5</text>
<text class="d" x="963.0" y="593.5">−</text><text class="d" x="985.2" y="593.5">10</text><text class="s" x="1020.8" y="583.8">−4</text>
<path d="M935.4 39.0h14M935.4 84.8h14M935.4 130.7h14M935.4 176.3h14M935.4 221.7h14M935.4 274.1h14M935.4 348.8h14M935.4 401.7h14M935.4 447.0h14M935.4 492.4h14M935.4 538.5h14M935.4 583.8h14M935.4 312.1h6.7" stroke="#000" stroke-width="2.9" fill="none"/>
</svg></body></html>
